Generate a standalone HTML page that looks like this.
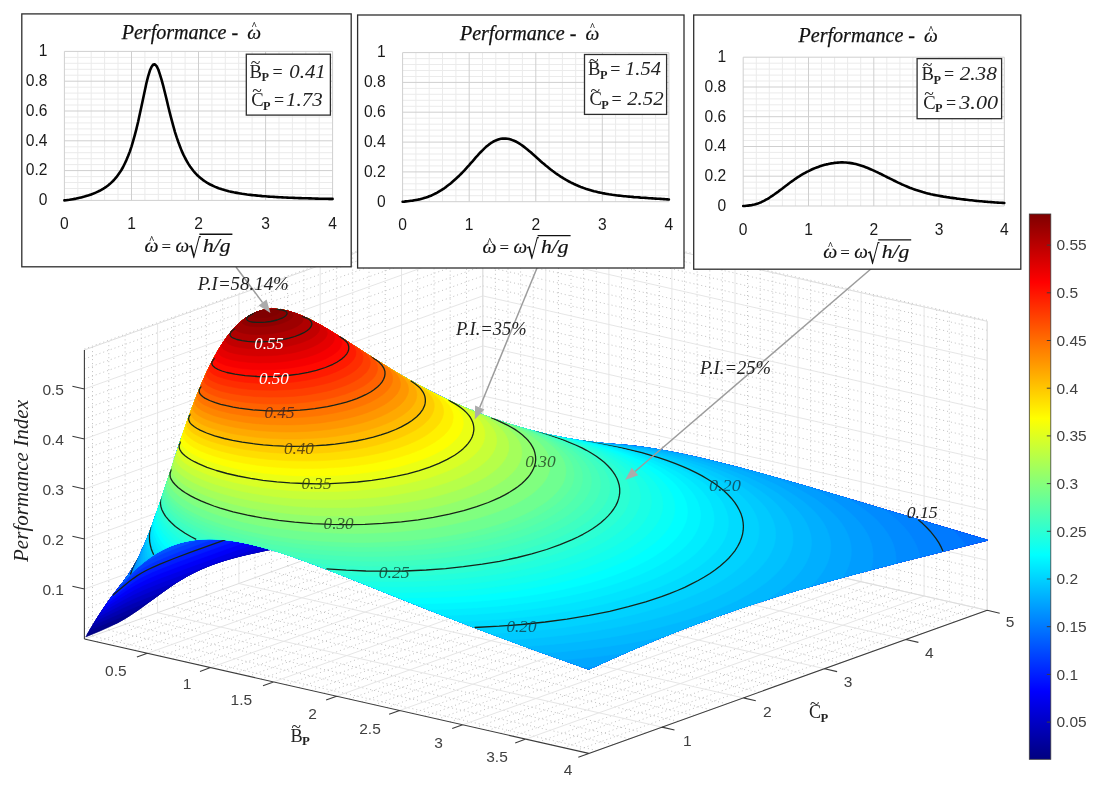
<!DOCTYPE html>
<html><head><meta charset="utf-8"><title>Performance Index surface</title><style>html,body{margin:0;padding:0;background:#fff}svg{display:block}.sf path{stroke-width:.6;stroke-linejoin:round}.sf path.k{stroke:#16241a;stroke-width:1.3;fill:none}</style></head><body>
<svg width="1102" height="789" viewBox="0 0 1102 789"><path d="M92.5 636.1L92.5 347.1M92.5 636.1L596.9 750.5M108.8 630.2L108.8 341.2M108.8 630.2L613.2 744.6M125.1 624.4L125.1 335.4M125.1 624.4L629.4 738.8M141.3 618.6L141.3 329.6M141.3 618.6L645.7 733.0M173.8 606.9L173.8 317.9M173.8 606.9L678.2 721.3M190.1 601.0L190.1 312.0M190.1 601.0L694.5 715.4M206.3 595.2L206.3 306.2M206.3 595.2L710.8 709.6M222.6 589.4L222.6 300.4M222.6 589.4L727.0 703.8M255.1 577.7L255.1 288.7M255.1 577.7L759.5 692.1M271.4 571.8L271.4 282.8M271.4 571.8L775.8 686.2M287.6 566.0L287.6 277.0M287.6 566.0L792.0 680.4M303.9 560.2L303.9 271.2M303.9 560.2L808.3 674.6M336.4 548.5L336.4 259.5M336.4 548.5L840.8 662.9M352.7 542.6L352.7 253.6M352.7 542.6L857.1 657.0M369.0 536.8L369.0 247.8M369.0 536.8L873.3 651.2M385.2 531.0L385.2 242.0M385.2 531.0L889.6 645.4M417.7 519.3L417.7 230.3M417.7 519.3L922.1 633.7M434.0 513.4L434.0 224.4M434.0 513.4L938.4 627.8M450.2 507.6L450.2 218.6M450.2 507.6L954.6 622.0M466.5 501.8L466.5 212.8M466.5 501.8L970.9 616.2M84.4 629.0L482.8 485.9M482.8 485.9L987.2 600.3M84.4 619.0L482.8 475.9M482.8 475.9L987.2 590.3M84.4 609.0L482.8 465.9M482.8 465.9L987.2 580.3M84.4 599.0L482.8 455.9M482.8 455.9L987.2 570.3M84.4 579.0L482.8 435.9M482.8 435.9L987.2 550.3M84.4 569.0L482.8 425.9M482.8 425.9L987.2 540.3M84.4 559.0L482.8 415.9M482.8 415.9L987.2 530.3M84.4 549.0L482.8 405.9M482.8 405.9L987.2 520.3M84.4 529.0L482.8 385.9M482.8 385.9L987.2 500.3M84.4 519.0L482.8 375.9M482.8 375.9L987.2 490.3M84.4 509.0L482.8 365.9M482.8 365.9L987.2 480.3M84.4 499.0L482.8 355.9M482.8 355.9L987.2 470.3M84.4 479.0L482.8 335.9M482.8 335.9L987.2 450.3M84.4 469.0L482.8 325.9M482.8 325.9L987.2 440.3M84.4 459.0L482.8 315.9M482.8 315.9L987.2 430.3M84.4 449.0L482.8 305.9M482.8 305.9L987.2 420.3M84.4 429.0L482.8 285.9M482.8 285.9L987.2 400.3M84.4 419.0L482.8 275.9M482.8 275.9L987.2 390.3M84.4 409.0L482.8 265.9M482.8 265.9L987.2 380.3M84.4 399.0L482.8 255.9M482.8 255.9L987.2 370.3M84.4 379.0L482.8 235.9M482.8 235.9L987.2 350.3M84.4 369.0L482.8 225.9M482.8 225.9L987.2 340.3M84.4 359.0L482.8 215.9M482.8 215.9L987.2 330.3M84.4 349.0L482.8 205.9M482.8 205.9L987.2 320.3M495.4 498.8L495.4 209.8M97.0 641.9L495.4 498.8M508.0 501.6L508.0 212.6M109.6 644.7L508.0 501.6M520.6 504.5L520.6 215.5M122.2 647.6L520.6 504.5M533.2 507.4L533.2 218.4M134.8 650.4L533.2 507.4M558.4 513.1L558.4 224.1M160.1 656.2L558.4 513.1M571.0 515.9L571.0 226.9M172.7 659.0L571.0 515.9M583.6 518.8L583.6 229.8M185.3 661.9L583.6 518.8M596.3 521.7L596.3 232.7M197.9 664.7L596.3 521.7M621.5 527.4L621.5 238.4M223.1 670.5L621.5 527.4M634.1 530.2L634.1 241.2M235.7 673.3L634.1 530.2M646.7 533.1L646.7 244.1M248.3 676.2L646.7 533.1M659.3 536.0L659.3 247.0M260.9 679.0L659.3 536.0M684.5 541.7L684.5 252.7M286.2 684.8L684.5 541.7M697.1 544.5L697.1 255.5M298.8 687.6L697.1 544.5M709.8 547.4L709.8 258.4M311.4 690.5L709.8 547.4M722.4 550.3L722.4 261.3M324.0 693.3L722.4 550.3M747.6 556.0L747.6 267.0M349.2 699.1L747.6 556.0M760.2 558.8L760.2 269.8M361.8 701.9L760.2 558.8M772.8 561.7L772.8 272.7M374.4 704.8L772.8 561.7M785.4 564.6L785.4 275.6M387.0 707.6L785.4 564.6M810.6 570.3L810.6 281.3M412.3 713.4L810.6 570.3M823.2 573.1L823.2 284.1M424.9 716.2L823.2 573.1M835.9 576.0L835.9 287.0M437.5 719.1L835.9 576.0M848.5 578.9L848.5 289.9M450.1 721.9L848.5 578.9M873.7 584.6L873.7 295.6M475.3 727.7L873.7 584.6M886.3 587.4L886.3 298.4M487.9 730.5L886.3 587.4M898.9 590.3L898.9 301.3M500.5 733.4L898.9 590.3M911.5 593.2L911.5 304.2M513.1 736.2L911.5 593.2M936.7 598.9L936.7 309.9M538.4 742.0L936.7 598.9M949.3 601.7L949.3 312.7M551.0 744.8L949.3 601.7M961.9 604.6L961.9 315.6M563.6 747.7L961.9 604.6M974.6 607.5L974.6 318.5M576.2 750.5L974.6 607.5" fill="none" stroke="#c2c2c2" stroke-width="1" stroke-dasharray="1 3"/>
<path d="M157.6 612.7L157.6 323.7M157.6 612.7L662.0 727.1M238.9 583.5L238.9 294.5M238.9 583.5L743.3 697.9M320.2 554.3L320.2 265.3M320.2 554.3L824.6 668.7M401.5 525.1L401.5 236.1M401.5 525.1L905.9 639.5M482.8 495.9L482.8 206.9M482.8 495.9L987.2 610.3M84.4 589.0L482.8 445.9M482.8 445.9L987.2 560.3M84.4 539.0L482.8 395.9M482.8 395.9L987.2 510.3M84.4 489.0L482.8 345.9M482.8 345.9L987.2 460.3M84.4 439.0L482.8 295.9M482.8 295.9L987.2 410.3M84.4 389.0L482.8 245.9M482.8 245.9L987.2 360.3M545.8 510.2L545.8 221.2M147.4 653.3L545.8 510.2M608.9 524.5L608.9 235.5M210.5 667.6L608.9 524.5M671.9 538.8L671.9 249.8M273.5 681.9L671.9 538.8M735.0 553.1L735.0 264.1M336.6 696.2L735.0 553.1M798.0 567.4L798.0 278.4M399.6 710.5L798.0 567.4M861.1 581.7L861.1 292.7M462.7 724.8L861.1 581.7M924.1 596.0L924.1 307.0M525.8 739.1L924.1 596.0M987.2 610.3L987.2 321.3M588.8 753.4L987.2 610.3" fill="none" stroke="#e6e6e6" stroke-width="1"/>
<path d="M482.8 495.9L482.8 206.9M84.4 639.0L482.8 495.9M482.8 495.9L987.2 610.3M987.2 610.3L987.2 321.3M84.4 350.0L482.8 206.9M482.8 206.9L987.2 321.3" fill="none" stroke="#dedede" stroke-width="1"/>
<path d="M84.4 639.0L84.4 350.0M84.4 639.0L588.8 753.4M588.8 753.4L987.2 610.3M84.4 589.0L72.4 586.2M84.4 539.0L72.4 536.2M84.4 489.0L72.4 486.2M84.4 439.0L72.4 436.2M84.4 389.0L72.4 386.2M147.4 653.3L136.9 657.1M210.5 667.6L200.0 671.4M273.5 681.9L263.0 685.7M336.6 696.2L326.1 700.0M399.6 710.5L389.1 714.3M462.7 724.8L452.2 728.6M525.8 739.1L515.2 742.9M588.8 753.4L578.3 757.2M662.0 727.1L674.5 730.0M743.3 697.9L755.8 700.8M824.6 668.7L837.1 671.6M905.9 639.5L918.4 642.4M987.2 610.3L999.7 613.2" fill="none" stroke="#3c3c3c" stroke-width="1.1"/>
<g class="sf"><path d="M85.7 636.9L96 619.9L105.2 605.9L112.3 596L123.8 581.2L129 573.8L134 565.9L139.1 556.6L142.7 548.9L146.2 540.9L153.2 522.8L161.2 499.9L179.3 445L187.1 422.2L193.1 405.7L197.1 395.2L201.2 385.1L205.4 375.5L211.8 362.3L216 354.3L220.4 346.9L224.7 340.2L229.1 334.3L233.6 329L236.9 325.5L240.1 322.4L244.8 318.7L249.9 315.4L253.1 313.7L256.4 312.3L259.5 311.2L263.4 310.2L265.8 309.8L270.6 309.3L277.9 309.5L284.5 310.4L292.8 312.6L300.5 315.4L308.3 318.8L314.7 322.1L323.7 327L332.7 332.4L385.4 365.9L424.1 391.3L424.3 391.5L418.9 390.2L413.8 389.3L408.8 388.8L405.2 388.7L400.6 388.9L397.3 389.4L394 390.2L390.9 391.2L386.9 393L383.9 394.7L381.1 396.8L378.4 399.1L375.8 401.8L373.2 404.8L370.8 408.1L368.4 411.8L366.1 415.9L363.9 420.3L361 426.8L358.9 432.2L355 444.1L351.3 457.8L347.8 473.5L344.5 491.4L341.8 508.5L337.9 536.4L314 541.3L265.7 550.4L247.3 554.3L235.7 557.2L225.7 560.1L215.7 563.3L207.3 566.5L199 570.1L192.3 573.3L185.7 576.9L177.3 582L164 591.1L137.3 610.6L130.7 615.1L124 619.2L117.3 622.9L109 627L99 631.4L85.7 636.9z" fill="#000080" stroke="#000080"/><path d="M121 584.8L119.5 586.6L126.4 578.7L133 571.7L140.2 565L146.8 559.6L153.8 554.7L160 550.9L166.5 547.6L173.3 544.8L180.5 542.4L188 540.6L195.8 539.4L204 538.7L210.9 538.6L219.7 539L229 539.9L238.6 541.4L252.7 544.4L267.7 548.4L285.7 554.1L304.8 560.8L338.2 573.5L427 609L477.8 628.7L533.1 649.3L588.8 669.2L610.5 659.3L632.1 649.8L653.8 640.6L673.8 632.5L693.8 624.8L715.5 616.8L737.1 609.3L758.8 602.1L780.5 595.2L803.8 588.2L827.2 581.5L852.2 574.6L907.2 560.2L987.2 540.2L851.9 499.9L800.1 484.7L753 471.5L731.3 465.7L713.1 461.2L695.9 457.1L679.5 453.6L663.9 450.6L651.1 448.5L639 446.7L629.2 445.6L604.9 443.6L592.8 442.4L579.4 440.6L566.4 438.4L550.7 435.3L535.6 431.7L521 427.8L506.7 423.4L486.4 416.4L467.2 408.8L457.2 404.4L447 399.7L426.8 389.6L411.9 381.5L396.7 372.7L377.9 361.2L344.8 339.9L332.6 332.3L318.9 324.3L308.7 319L303.1 316.5L297.9 314.4L292.8 312.6L287.8 311.2L282.8 310.1L278.3 309.5L275.2 309.3L270.6 309.3L265.8 309.8L262.7 310.4L258.7 311.5L254.1 313.3L249.9 315.4L247.1 317.1L243.4 319.7L240.3 322.3L236.9 325.5L233.5 329L230.2 332.9L226.9 337.2L220.4 346.9L213.9 358.2L209.3 367.2L203.3 380.2L197.1 395.2L191 411.1L181.2 439.3L157.9 509.6L151.8 526.8L147.1 538.8L141.4 551.9L135.5 563.5L129 573.8L125.1 579.4L121 584.8z" fill="#000080" stroke="#000080"/><path d="M87 634.6L96.6 619L105.9 604.9L112.3 596L123.8 581.2L129 573.8L134 565.9L139.1 556.6L142.7 548.9L146.2 540.9L153.2 522.8L161.2 499.9L179.3 445L187.1 422.2L193.1 405.7L197.1 395.2L201.2 385.1L205.4 375.5L211.8 362.3L216 354.3L220.4 346.9L224.7 340.2L229.1 334.3L233.6 329L236.9 325.5L240.1 322.4L244.8 318.7L249.9 315.4L253.1 313.7L256.4 312.3L259.5 311.2L263.4 310.2L265.8 309.8L270.6 309.3L277.9 309.5L284.5 310.4L292.8 312.6L300.5 315.4L308.3 318.8L314.7 322.1L323.7 327L332.7 332.4L385.4 365.9L424.1 391.3L424.3 391.5L418.9 390.2L413.8 389.3L408.8 388.8L405.2 388.7L400.6 388.9L397.3 389.4L394 390.2L390.9 391.2L386.9 393L383.9 394.7L381.1 396.8L378.4 399.1L375.8 401.8L373.2 404.8L370.8 408.1L368.4 411.8L366.1 415.9L363.9 420.3L361 426.8L358.9 432.2L355 444.1L351.3 457.8L347.8 473.5L345 488.3L341.8 508.5L337.7 536.5L312.3 541.7L267.3 550.1L249 554L237.3 556.8L227.3 559.6L217.3 562.8L209 565.8L200.7 569.3L194 572.5L187.3 576L179 580.9L172.3 585.2L165.7 589.9L137.3 610.6L129 616.2L122.3 620.2L117.4 622.9L87 634.6z" fill="#00008e" stroke="#00008e"/><path d="M121 584.8L119.5 586.6L126.4 578.7L133 571.7L140.2 565L146.8 559.6L153.8 554.7L160 550.9L166.5 547.6L173.3 544.8L180.5 542.4L188 540.6L195.8 539.4L204 538.7L210.9 538.6L219.7 539L229 539.9L238.6 541.4L252.7 544.4L267.7 548.4L285.7 554.1L304.8 560.8L338.2 573.5L427 609L477.8 628.7L533.1 649.3L588.8 669.2L610.5 659.3L632.1 649.8L653.8 640.6L673.8 632.5L693.8 624.8L715.5 616.8L737.1 609.3L758.8 602.1L780.5 595.2L803.8 588.2L827.2 581.5L852.2 574.6L907.2 560.2L987.2 540.2L851.9 499.9L800.1 484.7L753 471.5L731.3 465.7L713.1 461.2L695.9 457.1L679.5 453.6L663.9 450.6L651.1 448.5L639 446.7L629.2 445.6L604.9 443.6L592.8 442.4L579.4 440.6L566.4 438.4L550.7 435.3L535.6 431.7L521 427.8L506.7 423.4L486.4 416.4L467.2 408.8L457.2 404.4L447 399.7L426.8 389.6L411.9 381.5L396.7 372.7L377.9 361.2L344.8 339.9L332.6 332.3L318.9 324.3L308.7 319L303.1 316.5L297.9 314.4L292.8 312.6L287.8 311.2L282.8 310.1L278.3 309.5L275.2 309.3L270.6 309.3L265.8 309.8L262.7 310.4L258.7 311.5L254.1 313.3L249.9 315.4L247.1 317.1L243.4 319.7L240.3 322.3L236.9 325.5L233.5 329L230.2 332.9L226.9 337.2L220.4 346.9L213.9 358.2L209.3 367.2L203.3 380.2L197.1 395.2L191 411.1L181.2 439.3L157.9 509.6L151.8 526.8L147.1 538.8L141.4 551.9L135.5 563.5L129 573.8L125.1 579.4L121 584.8z" fill="#00008e" stroke="#00008e"/><path d="M91.2 629.6L89.6 630.2L98.9 615.3L107.2 602.9L114.6 592.9L123.8 581.2L129 573.8L134.9 564.5L139.5 555.8L142.7 548.9L146.2 540.9L153.2 522.8L161.2 499.9L179.3 445L187.1 422.2L193.1 405.7L197.1 395.2L201.2 385.1L205.4 375.5L211.8 362.3L216 354.3L220.4 346.9L224.7 340.2L229.1 334.3L233.6 329L236.9 325.5L240.1 322.4L244.8 318.7L249.9 315.4L253.1 313.7L256.4 312.3L259.5 311.2L263.4 310.2L265.8 309.8L270.6 309.3L277.9 309.5L284.5 310.4L292.8 312.6L300.5 315.4L308.3 318.8L314.7 322.1L323.7 327L332.7 332.4L385.4 365.9L424.1 391.3L424.3 391.5L418.9 390.2L413.8 389.3L408.8 388.8L405.2 388.7L400.6 388.9L397.3 389.4L394 390.2L390.9 391.2L386.9 393L383.9 394.7L381.1 396.8L378.4 399.1L375.8 401.8L373.2 404.8L370.8 408.1L368.4 411.8L366.1 415.9L363.1 421.9L358.9 432.1L355 444.1L351.3 457.8L347.8 473.5L345 488.3L342.3 504.9L337.5 536.5L312.3 541.7L267.3 550.1L249 554L239 556.4L229 559.1L219 562.2L210.7 565.2L202.3 568.6L194 572.5L187.3 576L179 580.9L172.3 585.2L165.7 589.9L137 610.8L123.2 616.3L91.2 629.6z" fill="#00009f" stroke="#00009f"/><path d="M121 584.8L119.5 586.6L126.4 578.7L133 571.7L140.2 565L146.8 559.6L153.8 554.7L160 550.9L166.5 547.6L173.3 544.8L180.5 542.4L188 540.6L195.8 539.4L204 538.7L210.9 538.6L219.7 539L229 539.9L238.6 541.4L252.7 544.4L267.7 548.4L285.7 554.1L304.8 560.8L338.2 573.5L427 609L477.8 628.7L533.1 649.3L588.8 669.2L610.5 659.3L632.1 649.8L653.8 640.6L673.8 632.5L693.8 624.8L715.5 616.8L737.1 609.3L758.8 602.1L780.5 595.2L803.8 588.2L827.2 581.5L852.2 574.6L907.2 560.2L987.2 540.2L851.9 499.9L800.1 484.7L753 471.5L731.3 465.7L713.1 461.2L695.9 457.1L679.5 453.6L663.9 450.6L651.1 448.5L639 446.7L629.2 445.6L604.9 443.6L592.8 442.4L579.4 440.6L566.4 438.4L550.7 435.3L535.6 431.7L521 427.8L506.7 423.4L486.4 416.4L467.2 408.8L457.2 404.4L447 399.7L426.8 389.6L411.9 381.5L396.7 372.7L377.9 361.2L344.8 339.9L332.6 332.3L318.9 324.3L308.7 319L303.1 316.5L297.9 314.4L292.8 312.6L287.8 311.2L282.8 310.1L278.3 309.5L275.2 309.3L270.6 309.3L265.8 309.8L262.7 310.4L258.7 311.5L254.1 313.3L249.9 315.4L247.1 317.1L243.4 319.7L240.3 322.3L236.9 325.5L233.5 329L230.2 332.9L226.9 337.2L220.4 346.9L213.9 358.2L209.3 367.2L203.3 380.2L197.1 395.2L191 411.1L181.2 439.3L157.9 509.6L151.8 526.8L147.1 538.8L141.4 551.9L135.5 563.5L129 573.8L125.1 579.4L121 584.8z" fill="#00009f" stroke="#00009f"/><path d="M93.8 625.1L92.3 625.8L100.1 613.5L107.2 602.9L113.8 593.9L124.8 579.9L131.5 570.1L137 560.7L142.7 548.9L148.9 534.2L156.3 514.2L162.9 494.9L181.2 439.3L191 411.1L197.1 395.2L201.2 385.1L205.4 375.5L209.6 366.6L213.9 358.2L218.2 350.5L222.5 343.5L226.9 337.2L231.3 331.5L235.8 326.6L240.3 322.3L244.8 318.7L249.9 315.4L253.1 313.7L256.4 312.3L259.5 311.2L263.4 310.2L265.8 309.8L270.6 309.3L277.9 309.5L284.5 310.4L292.8 312.6L300.5 315.4L308.3 318.8L314.7 322.1L323.7 327L332.7 332.4L385.4 365.9L424.1 391.3L424.3 391.5L418.9 390.2L413.8 389.3L408.8 388.8L405.2 388.7L400.6 388.9L397.3 389.4L394 390.2L390.9 391.2L386.9 393L383.9 394.7L381.1 396.8L378.4 399.1L375.8 401.8L373.2 404.8L370.8 408.1L368.4 411.8L363.9 420.3L359.6 430.3L355.6 441.9L351.9 455.3L348.3 470.7L345.5 485.1L342.8 501.4L337.6 533.9L319.8 540.2L269 549.8L249 554L239 556.4L229 559.1L220.7 561.7L212.3 564.6L204 567.9L197.3 570.9L189 575.1L182.3 578.9L175.7 583L169 587.5L150.6 601L138 605.9L127.3 610.3L93.8 625.1z" fill="#0000b1" stroke="#0000b1"/><path d="M121 584.8L119.5 586.6L126.4 578.7L133 571.7L140.2 565L146.8 559.6L153.8 554.7L160 550.9L166.5 547.6L173.3 544.8L180.5 542.4L188 540.6L195.8 539.4L204 538.7L210.9 538.6L219.7 539L229 539.9L238.6 541.4L252.7 544.4L267.7 548.4L285.7 554.1L304.8 560.8L338.2 573.5L427 609L477.8 628.7L533.1 649.3L588.8 669.2L610.5 659.3L632.1 649.8L653.8 640.6L673.8 632.5L693.8 624.8L715.5 616.8L737.1 609.3L758.8 602.1L780.5 595.2L803.8 588.2L827.2 581.5L852.2 574.6L907.2 560.2L987.2 540.2L851.9 499.9L800.1 484.7L753 471.5L731.3 465.7L713.1 461.2L695.9 457.1L679.5 453.6L663.9 450.6L651.1 448.5L639 446.7L629.2 445.6L604.9 443.6L592.8 442.4L579.4 440.6L566.4 438.4L550.7 435.3L535.6 431.7L521 427.8L506.7 423.4L486.4 416.4L467.2 408.8L457.2 404.4L447 399.7L426.8 389.6L411.9 381.5L396.7 372.7L377.9 361.2L344.8 339.9L332.6 332.3L318.9 324.3L308.7 319L303.1 316.5L297.9 314.4L292.8 312.6L287.8 311.2L282.8 310.1L278.3 309.5L275.2 309.3L270.6 309.3L265.8 309.8L262.7 310.4L258.7 311.5L254.1 313.3L249.9 315.4L247.1 317.1L243.4 319.7L240.3 322.3L236.9 325.5L233.5 329L230.2 332.9L226.9 337.2L220.4 346.9L213.9 358.2L209.3 367.2L203.3 380.2L197.1 395.2L191 411.1L181.2 439.3L157.9 509.6L151.8 526.8L147.1 538.8L141.4 551.9L135.5 563.5L129 573.8L125.1 579.4L121 584.8z" fill="#0000b1" stroke="#0000b1"/><path d="M96.4 620.7L95 621.4L102 610.7L108.6 601L114.6 592.9L124.8 579.9L131.5 570.1L134.9 564.5L138 558.7L143.7 546.7L150.3 530.6L157.4 511.1L164 491.7L181.2 439.3L191 411.1L197.1 395.2L201.2 385.1L205.4 375.5L209.6 366.6L213.9 358.2L218.2 350.5L222.5 343.5L226.9 337.2L231.3 331.5L235.8 326.6L240.3 322.3L244.8 318.7L249.9 315.4L253.1 313.7L256.4 312.3L259.5 311.2L263.4 310.2L265.8 309.8L270.6 309.3L277.9 309.5L284.5 310.4L292.8 312.6L300.5 315.4L308.3 318.8L314.7 322.1L323.7 327L332.7 332.4L385.4 365.9L424.1 391.3L424.3 391.5L418.9 390.2L413.8 389.3L406.4 388.7L401.7 388.8L398.4 389.2L395.1 389.9L391.9 390.8L387.8 392.5L384.9 394.1L382 396.1L379.3 398.3L376.6 400.8L374.1 403.7L371.6 407L369.2 410.6L364.6 418.8L360.3 428.5L356.2 439.9L352.5 453L349.5 465.3L346 482.1L343.3 498L338.2 529.1L290.3 545.8L262.3 551.1L242.3 555.5L225.7 560.1L217.3 562.8L210.7 565.2L199 570.1L187.3 576L175.7 583L163.7 591.2L146.4 597.9L132.7 603.6L122.7 608.1L96.4 620.7z" fill="#0000c3" stroke="#0000c3"/><path d="M121 584.8L119.5 586.6L126.4 578.7L133 571.7L140.2 565L146.8 559.6L153.8 554.7L160 550.9L166.5 547.6L173.3 544.8L180.5 542.4L188 540.6L195.8 539.4L204 538.7L210.9 538.6L219.7 539L229 539.9L238.6 541.4L252.7 544.4L267.7 548.4L285.7 554.1L304.8 560.8L338.2 573.5L427 609L477.8 628.7L533.1 649.3L588.8 669.2L610.5 659.3L632.1 649.8L653.8 640.6L673.8 632.5L693.8 624.8L715.5 616.8L737.1 609.3L758.8 602.1L780.5 595.2L803.8 588.2L827.2 581.5L852.2 574.6L907.2 560.2L987.2 540.2L851.9 499.9L800.1 484.7L753 471.5L731.3 465.7L713.1 461.2L695.9 457.1L679.5 453.6L663.9 450.6L651.1 448.5L639 446.7L629.2 445.6L604.9 443.6L592.8 442.4L579.4 440.6L566.4 438.4L550.7 435.3L535.6 431.7L521 427.8L506.7 423.4L486.4 416.4L467.2 408.8L457.2 404.4L447 399.7L426.8 389.6L411.9 381.5L396.7 372.7L377.9 361.2L344.8 339.9L332.6 332.3L318.9 324.3L308.7 319L303.1 316.5L297.9 314.4L292.8 312.6L287.8 311.2L282.8 310.1L278.3 309.5L275.2 309.3L270.6 309.3L265.8 309.8L262.7 310.4L258.7 311.5L254.1 313.3L249.9 315.4L247.1 317.1L243.4 319.7L240.3 322.3L236.9 325.5L233.5 329L230.2 332.9L226.9 337.2L220.4 346.9L213.9 358.2L209.3 367.2L203.3 380.2L197.1 395.2L191 411.1L181.2 439.3L157.9 509.6L151.8 526.8L147.1 538.8L141.4 551.9L135.5 563.5L129 573.8L125.1 579.4L121 584.8z" fill="#0000c3" stroke="#0000c3"/><path d="M99.1 616.4L97.8 617L103.9 607.8L109.3 600L114.6 592.9L124.8 579.9L131.5 570.1L134.9 564.5L138 558.7L143.7 546.7L150.3 530.6L157.4 511.1L164 491.7L181.2 439.3L191 411.1L197.1 395.2L201.2 385.1L205.4 375.5L209.6 366.6L213.9 358.2L218.2 350.5L222.5 343.5L226.9 337.2L231.3 331.5L236.9 325.5L242.6 320.4L246.7 317.4L249.9 315.4L253.1 313.7L258.7 311.5L263.4 310.2L265.8 309.8L270.6 309.3L277.9 309.5L284.5 310.4L292.8 312.6L300.5 315.4L308.3 318.8L314.7 322.1L323.7 327L332.7 332.4L385.4 365.9L424.1 391.3L424.3 391.5L418.9 390.2L413.8 389.3L406.4 388.7L401.7 388.8L398.4 389.2L395.1 389.9L391.9 390.8L388.8 392L385.9 393.6L383 395.4L380.2 397.5L377.5 400L374.9 402.7L372.4 405.9L370 409.3L365.3 417.3L361 426.8L356.9 437.9L353 450.6L350 462.7L346.6 479.1L343.8 494.6L338.8 524.2L308 534.8L260.6 551.5L245.7 554.7L232.3 558.1L220.7 561.7L210.7 565.2L202.3 568.6L194 572.5L187.3 576L179.6 580.5L153.1 590.5L142.3 594.9L135 598.1L125.3 602.8L99.1 616.4z" fill="#0000d5" stroke="#0000d5"/><path d="M121 584.8L119.5 586.6L126.4 578.7L133 571.7L140.2 565L146.8 559.6L153.8 554.7L160 550.9L166.5 547.6L173.3 544.8L180.5 542.4L188 540.6L195.8 539.4L204 538.7L210.9 538.6L219.7 539L229 539.9L238.6 541.4L252.7 544.4L267.7 548.4L285.7 554.1L304.8 560.8L338.2 573.5L427 609L477.8 628.7L533.1 649.3L588.8 669.2L610.5 659.3L632.1 649.8L653.8 640.6L673.8 632.5L693.8 624.8L715.5 616.8L737.1 609.3L758.8 602.1L780.5 595.2L803.8 588.2L827.2 581.5L852.2 574.6L907.2 560.2L987.2 540.2L851.9 499.9L800.1 484.7L753 471.5L731.3 465.7L713.1 461.2L695.9 457.1L679.5 453.6L663.9 450.6L651.1 448.5L639 446.7L629.2 445.6L604.9 443.6L592.8 442.4L579.4 440.6L566.4 438.4L550.7 435.3L535.6 431.7L521 427.8L506.7 423.4L486.4 416.4L467.2 408.8L457.2 404.4L447 399.7L426.8 389.6L411.9 381.5L396.7 372.7L377.9 361.2L344.8 339.9L332.6 332.3L318.9 324.3L308.7 319L303.1 316.5L297.9 314.4L292.8 312.6L287.8 311.2L282.8 310.1L278.3 309.5L275.2 309.3L270.6 309.3L265.8 309.8L262.7 310.4L258.7 311.5L254.1 313.3L249.9 315.4L247.1 317.1L243.4 319.7L240.3 322.3L236.9 325.5L233.5 329L230.2 332.9L226.9 337.2L220.4 346.9L213.9 358.2L209.3 367.2L203.3 380.2L197.1 395.2L191 411.1L181.2 439.3L157.9 509.6L151.8 526.8L147.1 538.8L141.4 551.9L135.5 563.5L129 573.8L125.1 579.4L121 584.8z" fill="#0000d5" stroke="#0000d5"/><path d="M100.6 612.7L110.8 598L123.8 581.2L130.3 572L133.8 566.3L137 560.7L140.2 554.3L143.7 546.7L150.3 530.6L157.4 511.1L164 491.7L181.2 439.3L191 411.1L197.1 395.2L201.2 385.1L205.4 375.5L209.6 366.6L213.9 358.2L218.2 350.5L222.5 343.5L226.9 337.2L231.3 331.5L236.9 325.5L242.6 320.4L246.7 317.4L249.9 315.4L253.1 313.7L258.7 311.5L263.4 310.2L265.8 309.8L270.6 309.3L277.9 309.5L284.5 310.4L292.8 312.6L300.5 315.4L308.3 318.8L314.7 322.1L323.7 327L332.7 332.4L385.4 365.9L424.1 391.3L424.3 391.5L418.9 390.2L413.8 389.3L406.4 388.7L401.7 388.8L398.4 389.2L395.1 389.9L391.9 390.8L388.8 392L385.9 393.6L383 395.4L380.2 397.5L377.5 400L374.9 402.7L372.4 405.9L370 409.3L365.3 417.3L360.9 426.8L356.9 437.8L353.6 448.4L350.6 460.2L347.1 476.2L344.3 491.4L339.4 519.3L296.5 534L250.9 550L189.2 572.2L161.5 582.5L144.5 589.4L133.1 594.7L124.1 599.4L100.6 612.7z" fill="#0000e6" stroke="#0000e6"/><path d="M121 584.8L119.5 586.6L126.4 578.7L133 571.7L140.2 565L146.8 559.6L153.8 554.7L160 550.9L166.5 547.6L173.3 544.8L180.5 542.4L188 540.6L195.8 539.4L204 538.7L210.9 538.6L219.7 539L229 539.9L238.6 541.4L252.7 544.4L267.7 548.4L285.7 554.1L304.8 560.8L338.2 573.5L427 609L477.8 628.7L533.1 649.3L588.8 669.2L610.5 659.3L632.1 649.8L653.8 640.6L673.8 632.5L693.8 624.8L715.5 616.8L737.1 609.3L758.8 602.1L780.5 595.2L803.8 588.2L827.2 581.5L852.2 574.6L907.2 560.2L987.2 540.2L851.9 499.9L800.1 484.7L753 471.5L731.3 465.7L713.1 461.2L695.9 457.1L679.5 453.6L663.9 450.6L651.1 448.5L639 446.7L629.2 445.6L604.9 443.6L592.8 442.4L579.4 440.6L566.4 438.4L550.7 435.3L535.6 431.7L521 427.8L506.7 423.4L486.4 416.4L467.2 408.8L457.2 404.4L447 399.7L426.8 389.6L411.9 381.5L396.7 372.7L377.9 361.2L344.8 339.9L332.6 332.3L318.9 324.3L308.7 319L303.1 316.5L297.9 314.4L292.8 312.6L287.8 311.2L282.8 310.1L278.3 309.5L275.2 309.3L270.6 309.3L265.8 309.8L262.7 310.4L258.7 311.5L254.1 313.3L249.9 315.4L247.1 317.1L243.4 319.7L240.3 322.3L236.9 325.5L233.5 329L230.2 332.9L226.9 337.2L220.4 346.9L213.9 358.2L209.3 367.2L203.3 380.2L197.1 395.2L191 411.1L181.2 439.3L157.9 509.6L151.8 526.8L147.1 538.8L141.4 551.9L135.5 563.5L129 573.8L125.1 579.4L121 584.8z" fill="#0000e6" stroke="#0000e6"/><path d="M104.7 607.6L103.5 608.3L113 594.9L125.1 579.4L131.5 570.1L134.9 564.5L138 558.7L143.7 546.7L150.3 530.6L157.4 511.1L164 491.7L181.2 439.3L191 411.1L197.1 395.2L201.2 385.1L205.4 375.5L209.6 366.6L213.9 358.2L218.2 350.5L222.5 343.5L226.9 337.2L231.3 331.5L236.9 325.5L242.6 320.4L246.7 317.4L249.9 315.4L253.1 313.7L258.7 311.5L263.4 310.2L265.8 309.8L270.6 309.3L277.9 309.5L284.5 310.4L292.8 312.6L300.5 315.4L308.3 318.8L314.7 322.1L323.7 327L332.7 332.4L385.4 365.9L424.1 391.3L424.3 391.5L418.9 390.2L413.8 389.3L406.4 388.7L402.9 388.7L399.5 389.1L396.2 389.6L393 390.5L389.9 391.6L386.9 393L383.9 394.7L381.1 396.8L378.4 399.1L375.8 401.8L373.2 404.8L370.8 408.1L366.1 415.9L361.6 425.1L357.5 435.9L354.3 446.2L351.2 457.7L347.6 473.4L345.3 485.1L340 514.5L296.8 529.1L236 550.4L192.7 566L160.3 578.2L145.1 584.5L134.1 589.9L125.6 594.8L104.7 607.6z" fill="#0000f8" stroke="#0000f8"/><path d="M121 584.8L119.5 586.6L126.4 578.7L133 571.7L140.2 565L146.8 559.6L153.8 554.7L160 550.9L166.5 547.6L173.3 544.8L180.5 542.4L188 540.6L195.8 539.4L204 538.7L210.9 538.6L219.7 539L229 539.9L238.6 541.4L252.7 544.4L267.7 548.4L285.7 554.1L304.8 560.8L338.2 573.5L427 609L477.8 628.7L533.1 649.3L588.8 669.2L610.5 659.3L632.1 649.8L653.8 640.6L673.8 632.5L693.8 624.8L715.5 616.8L737.1 609.3L758.8 602.1L780.5 595.2L803.8 588.2L827.2 581.5L852.2 574.6L907.2 560.2L987.2 540.2L851.9 499.9L800.1 484.7L753 471.5L731.3 465.7L713.1 461.2L695.9 457.1L679.5 453.6L663.9 450.6L651.1 448.5L639 446.7L629.2 445.6L604.9 443.6L592.8 442.4L579.4 440.6L566.4 438.4L550.7 435.3L535.6 431.7L521 427.8L506.7 423.4L486.4 416.4L467.2 408.8L457.2 404.4L447 399.7L426.8 389.6L411.9 381.5L396.7 372.7L377.9 361.2L344.8 339.9L332.6 332.3L318.9 324.3L308.7 319L303.1 316.5L297.9 314.4L292.8 312.6L287.8 311.2L282.8 310.1L278.3 309.5L275.2 309.3L270.6 309.3L265.8 309.8L262.7 310.4L258.7 311.5L254.1 313.3L249.9 315.4L247.1 317.1L243.4 319.7L240.3 322.3L236.9 325.5L233.5 329L230.2 332.9L226.9 337.2L220.4 346.9L213.9 358.2L209.3 367.2L203.3 380.2L197.1 395.2L191 411.1L181.2 439.3L157.9 509.6L151.8 526.8L147.1 538.8L141.4 551.9L135.5 563.5L129 573.8L125.1 579.4L121 584.8z" fill="#0000f8" stroke="#0000f8"/><path d="M106.5 604L113.8 593.9L124.8 579.9L131.5 570.1L134.9 564.5L138 558.7L141.4 551.9L144.7 544.5L150.4 530.4L157.4 511.1L164 491.7L181.2 439.3L191 411.1L197.1 395.2L201.2 385.1L205.4 375.5L209.6 366.6L213.9 358.2L218.2 350.5L222.5 343.5L226.9 337.2L231.3 331.5L236.9 325.5L242.6 320.4L246.7 317.4L249.9 315.4L253.1 313.7L258.7 311.5L263.4 310.2L265.8 309.8L270.6 309.3L277.9 309.5L284.5 310.4L292.8 312.6L300.5 315.4L308.3 318.8L314.7 322.1L323.7 327L332.7 332.4L385.4 365.9L424.1 391.3L424.3 391.5L418.9 390.2L413.8 389.3L406.4 388.7L402.9 388.7L399.5 389.1L396.2 389.6L393 390.5L389.9 391.6L386.9 393L383.9 394.7L381.1 396.8L378.4 399.1L375.8 401.8L371.6 407L366.8 414.5L362.3 423.4L358.2 433.9L354.9 444L351.7 455.3L348.2 470.6L340.6 509.6L302.4 522.4L248 541.3L189.7 562.3L160.7 573.3L147.2 579L140.3 582.4L135.2 585.1L127 590.1L106.5 604z" fill="#000bff" stroke="#000bff"/><path d="M121 584.8L119.5 586.6L126.4 578.7L133 571.7L140.2 565L146.8 559.6L153.8 554.7L160 550.9L166.5 547.6L173.3 544.8L180.5 542.4L188 540.6L195.8 539.4L204 538.7L210.9 538.6L219.7 539L229 539.9L238.6 541.4L252.7 544.4L267.7 548.4L285.7 554.1L304.8 560.8L338.2 573.5L427 609L477.8 628.7L533.1 649.3L588.8 669.2L610.5 659.3L632.1 649.8L653.8 640.6L673.8 632.5L693.8 624.8L715.5 616.8L737.1 609.3L758.8 602.1L780.5 595.2L803.8 588.2L827.2 581.5L852.2 574.6L907.2 560.2L987.2 540.2L851.9 499.9L800.1 484.7L753 471.5L731.3 465.7L713.1 461.2L695.9 457.1L679.5 453.6L663.9 450.6L651.1 448.5L639 446.7L629.2 445.6L604.9 443.6L592.8 442.4L579.4 440.6L566.4 438.4L550.7 435.3L535.6 431.7L521 427.8L506.7 423.4L486.4 416.4L467.2 408.8L457.2 404.4L447 399.7L426.8 389.6L411.9 381.5L396.7 372.7L377.9 361.2L344.8 339.9L332.6 332.3L318.9 324.3L308.7 319L303.1 316.5L297.9 314.4L292.8 312.6L287.8 311.2L282.8 310.1L278.3 309.5L275.2 309.3L270.6 309.3L265.8 309.8L262.7 310.4L258.7 311.5L254.1 313.3L249.9 315.4L247.1 317.1L243.4 319.7L240.3 322.3L236.9 325.5L233.5 329L230.2 332.9L226.9 337.2L220.4 346.9L213.9 358.2L209.3 367.2L203.3 380.2L197.1 395.2L191 411.1L181.2 439.3L157.9 509.6L151.8 526.8L147.1 538.8L141.4 551.9L135.5 563.5L129 573.8L125.1 579.4L121 584.8z" fill="#000bff" stroke="#000bff"/><path d="M110.5 598.9L109.5 599.7L114.6 592.9L125.1 579.4L129 573.8L132.4 568.7L135.9 562.6L139.1 556.6L145 543.9L150.4 530.4L157.4 511.1L164 491.7L179.8 443.4L189.5 415.3L193.8 403.7L199.2 390.1L203.3 380.2L209.3 367.2L213.9 358.2L218.2 350.5L222.5 343.5L226.9 337.2L231.3 331.5L236.9 325.5L242.6 320.4L246.7 317.4L249.9 315.4L253.1 313.7L258.7 311.5L263.4 310.2L265.8 309.8L270.6 309.3L277.9 309.5L284.5 310.4L292.8 312.6L300.5 315.4L308.3 318.8L314.7 322.1L323.7 327L332.7 332.4L385.4 365.9L424.1 391.3L424.3 391.5L418.9 390.2L413.8 389.3L406.4 388.7L402.9 388.7L399.5 389.1L396.2 389.6L393 390.5L389.9 391.6L386.9 393L383.9 394.7L381.1 396.8L378.4 399.1L375.8 401.8L371.6 407L366.8 414.5L363 421.8L358.8 432.1L355.5 441.9L352.3 452.9L349.3 465.2L346.3 479L341.3 504.8L318.4 512.3L290.8 521.6L238.2 540L194.9 555.5L176.9 562.2L161.1 568.4L152.1 572.2L146.4 574.9L141.1 577.6L136.2 580.4L127.6 586.2L110.5 598.9z" fill="#001dff" stroke="#001dff"/><path d="M121 584.8L119.5 586.6L126.4 578.7L133 571.7L140.2 565L146.8 559.6L153.8 554.7L160 550.9L166.5 547.6L173.3 544.8L180.5 542.4L188 540.6L195.8 539.4L204 538.7L210.9 538.6L219.7 539L229 539.9L238.6 541.4L252.7 544.4L267.7 548.4L285.7 554.1L304.8 560.8L338.2 573.5L427 609L477.8 628.7L533.1 649.3L588.8 669.2L610.5 659.3L632.1 649.8L653.8 640.6L673.8 632.5L693.8 624.8L715.5 616.8L737.1 609.3L758.8 602.1L780.5 595.2L803.8 588.2L827.2 581.5L852.2 574.6L907.2 560.2L987.2 540.2L851.9 499.9L800.1 484.7L753 471.5L731.3 465.7L713.1 461.2L695.9 457.1L679.5 453.6L663.9 450.6L651.1 448.5L639 446.7L629.2 445.6L604.9 443.6L592.8 442.4L579.4 440.6L566.4 438.4L550.7 435.3L535.6 431.7L521 427.8L506.7 423.4L486.4 416.4L467.2 408.8L457.2 404.4L447 399.7L426.8 389.6L411.9 381.5L396.7 372.7L377.9 361.2L344.8 339.9L332.6 332.3L318.9 324.3L308.7 319L303.1 316.5L297.9 314.4L292.8 312.6L287.8 311.2L282.8 310.1L278.3 309.5L275.2 309.3L270.6 309.3L265.8 309.8L262.7 310.4L258.7 311.5L254.1 313.3L249.9 315.4L247.1 317.1L243.4 319.7L240.3 322.3L236.9 325.5L233.5 329L230.2 332.9L226.9 337.2L220.4 346.9L213.9 358.2L209.3 367.2L203.3 380.2L197.1 395.2L191 411.1L181.2 439.3L157.9 509.6L151.8 526.8L147.1 538.8L141.4 551.9L135.5 563.5L129 573.8L125.1 579.4L121 584.8z" fill="#001dff" stroke="#001dff"/><path d="M113.6 594.6L112.7 595.4L124.8 579.9L129 573.8L132.4 568.7L135.9 562.6L139.1 556.6L145 543.9L150.4 530.4L157.4 511.1L164 491.7L179.8 443.4L189.5 415.3L193.8 403.7L199.2 390.1L203.3 380.2L209.3 367.2L213.9 358.2L218.2 350.5L222.5 343.5L226.9 337.2L231.3 331.5L236.9 325.5L242.6 320.4L247.1 317.1L253.1 313.7L256.3 312.3L259.5 311.2L265.8 309.8L272.1 309.2L275.4 309.3L280.3 309.7L287.5 311.1L295.3 313.4L302.7 316.3L310.9 320.1L317.7 323.7L326.7 328.8L335.3 334L387.1 367L424.1 391.3L424.3 391.5L418.9 390.2L415 389.5L407.6 388.7L404.1 388.7L400.6 388.9L397.3 389.4L394 390.2L390.9 391.2L387.8 392.5L384.9 394.1L382 396.1L379.3 398.3L376.6 400.8L372.4 405.9L369.9 409.3L367.6 413.1L363.8 420.2L359.5 430.2L356.1 439.8L352.9 450.6L349.8 462.6L346.9 476.1L342 499.9L318.9 507.4L294.6 515.5L245.2 532.6L190.2 552.4L174 558.5L160 564.1L152.7 567.4L147.1 570L142 572.8L137.3 575.6L133.1 578.6L129.2 581.6L113.6 594.6z" fill="#002eff" stroke="#002eff"/><path d="M121 584.8L119.5 586.6L126.4 578.7L133 571.7L140.2 565L146.8 559.6L153.8 554.7L160 550.9L166.5 547.6L173.3 544.8L180.5 542.4L188 540.6L195.8 539.4L204 538.7L210.9 538.6L219.7 539L229 539.9L238.6 541.4L252.7 544.4L267.7 548.4L285.7 554.1L304.8 560.8L338.2 573.5L427 609L477.8 628.7L533.1 649.3L588.8 669.2L610.5 659.3L632.1 649.8L653.8 640.6L673.8 632.5L693.8 624.8L715.5 616.8L737.1 609.3L758.8 602.1L780.5 595.2L803.8 588.2L827.2 581.5L852.2 574.6L907.2 560.2L987.2 540.2L851.9 499.9L800.1 484.7L753 471.5L731.3 465.7L713.1 461.2L695.9 457.1L679.5 453.6L663.9 450.6L651.1 448.5L639 446.7L629.2 445.6L604.9 443.6L592.8 442.4L579.4 440.6L566.4 438.4L550.7 435.3L535.6 431.7L521 427.8L506.7 423.4L486.4 416.4L467.2 408.8L457.2 404.4L447 399.7L426.8 389.6L411.9 381.5L396.7 372.7L377.9 361.2L344.8 339.9L332.6 332.3L318.9 324.3L308.7 319L303.1 316.5L297.9 314.4L292.8 312.6L287.8 311.2L282.8 310.1L278.3 309.5L275.2 309.3L270.6 309.3L265.8 309.8L262.7 310.4L258.7 311.5L254.1 313.3L249.9 315.4L247.1 317.1L243.4 319.7L240.3 322.3L236.9 325.5L233.5 329L230.2 332.9L226.9 337.2L220.4 346.9L213.9 358.2L209.3 367.2L203.3 380.2L197.1 395.2L191 411.1L181.2 439.3L157.9 509.6L151.8 526.8L147.1 538.8L141.4 551.9L135.5 563.5L129 573.8L125.1 579.4L121 584.8z" fill="#002eff" stroke="#002eff"/><path class="k" d="M342 499.9L318.9 507.4L294.6 515.5L245.2 532.6L190.2 552.4L174 558.5L160 564.1L152.7 567.4L147.1 570L142 572.8L137.3 575.6L133.1 578.6L129.2 581.6L119 590L112.7 595.4"/><path d="M116.7 590.3L115.9 591.1L122.4 583L126.5 577.5L130.3 572L133.8 566.3L137 560.7L140.2 554.3L146.2 540.9L151.8 526.8L157.9 509.6L179.8 443.4L189.5 415.3L193.8 403.7L199.2 390.1L203.3 380.2L207.5 371L211.8 362.3L216.5 353.5L222.5 343.5L226.9 337.2L231.3 331.5L236.9 325.5L242.6 320.4L247.1 317.1L253.1 313.7L256.3 312.3L259.5 311.2L265.8 309.8L272.1 309.2L275.4 309.3L280.3 309.7L287.5 311.1L295.3 313.4L302.7 316.3L310.9 320.1L317.7 323.7L326.7 328.8L335.3 334L387.1 367L424.1 391.3L424.3 391.5L418.9 390.2L415 389.5L407.6 388.7L404.1 388.7L400.6 388.9L397.3 389.4L394 390.2L390.9 391.2L387.8 392.5L383 395.4L380.2 397.5L377.5 400L373.2 404.8L370.7 408.1L368.3 411.8L364.5 418.7L360.2 428.4L356.7 437.8L353.5 448.3L350.4 460.1L347.4 473.3L342.7 495.1L307.2 506.6L257.3 523.6L200.3 543.8L180.7 551.1L163.5 558L156.1 561.2L149.2 564.5L144.1 567.3L139.5 570.1L135.5 573.1L130.9 577L122.4 584.8L116.7 590.3z" fill="#0040ff" stroke="#0040ff"/><path d="M121 584.8L119.5 586.6L126.4 578.7L133 571.7L140.2 565L146.8 559.6L153.8 554.7L160 550.9L166.5 547.6L173.3 544.8L180.5 542.4L188 540.6L195.8 539.4L204 538.7L210.9 538.6L219.7 539L229 539.9L238.6 541.4L252.7 544.4L267.7 548.4L285.7 554.1L304.8 560.8L338.2 573.5L427 609L477.8 628.7L533.1 649.3L588.8 669.2L610.5 659.3L632.1 649.8L653.8 640.6L673.8 632.5L693.8 624.8L715.5 616.8L737.1 609.3L758.8 602.1L780.5 595.2L803.8 588.2L827.2 581.5L852.2 574.6L907.2 560.2L987.2 540.2L851.9 499.9L800.1 484.7L753 471.5L731.3 465.7L713.1 461.2L695.9 457.1L679.5 453.6L663.9 450.6L651.1 448.5L639 446.7L629.2 445.6L604.9 443.6L592.8 442.4L579.4 440.6L566.4 438.4L550.7 435.3L535.6 431.7L521 427.8L506.7 423.4L486.4 416.4L467.2 408.8L457.2 404.4L447 399.7L426.8 389.6L411.9 381.5L396.7 372.7L377.9 361.2L344.8 339.9L332.6 332.3L318.9 324.3L308.7 319L303.1 316.5L297.9 314.4L292.8 312.6L287.8 311.2L282.8 310.1L278.3 309.5L275.2 309.3L270.6 309.3L265.8 309.8L262.7 310.4L258.7 311.5L254.1 313.3L249.9 315.4L247.1 317.1L243.4 319.7L240.3 322.3L236.9 325.5L233.5 329L230.2 332.9L226.9 337.2L220.4 346.9L213.9 358.2L209.3 367.2L203.3 380.2L197.1 395.2L191 411.1L181.2 439.3L157.9 509.6L151.8 526.8L147.1 538.8L141.4 551.9L135.5 563.5L129 573.8L125.1 579.4L121 584.8z" fill="#0040ff" stroke="#0040ff"/><path d="M120 586.1L119.8 586.3L123.8 581.2L127.9 575.5L131.5 570.1L134.9 564.5L138 558.7L141.1 552.6L147.1 538.8L151.8 526.8L157.9 509.6L179.8 443.4L189 416.7L197.9 393.2L203.3 380.2L207.5 371L211.8 362.3L216.5 353.5L222.5 343.5L226.9 337.2L231.3 331.5L236.9 325.5L242.6 320.4L247.1 317.1L253.1 313.7L256.3 312.3L259.5 311.2L265.8 309.8L272.1 309.2L275.4 309.3L280.3 309.7L287.5 311.1L295.3 313.4L302.7 316.3L310.9 320.1L317.7 323.7L326.7 328.8L335.3 334L387.1 367L424.1 391.3L424.3 391.5L418.9 390.2L415 389.5L407.6 388.7L404.1 388.7L400.6 388.9L395.1 389.9L391.9 390.8L388.8 392L383.9 394.7L381.1 396.8L378.4 399.1L374.1 403.7L371.5 407L369.1 410.5L365.2 417.2L361.5 425L358.1 433.9L354.8 443.9L351.6 455.2L348.5 467.8L343.5 490.3L325.4 495.9L298.9 504.6L247.4 522.2L194 541.3L177.9 547.4L163.9 553.1L156.6 556.3L149.9 559.7L145 562.5L140.7 565.4L136.9 568.4L132.7 572.4L125 580.4L120 586.1zM119.3 586.9L120.3 585.7L119.3 586.9z" fill="#0052ff" stroke="#0052ff"/><path d="M121 584.8L119.5 586.6L126.4 578.7L133 571.7L140.2 565L146.8 559.6L153.8 554.7L160 550.9L166.5 547.6L173.3 544.8L180.5 542.4L188 540.6L195.8 539.4L204 538.7L210.9 538.6L219.7 539L229 539.9L238.6 541.4L252.7 544.4L267.7 548.4L285.7 554.1L304.8 560.8L338.2 573.5L427 609L477.8 628.7L533.1 649.3L588.8 669.2L610.5 659.3L632.1 649.8L653.8 640.6L673.8 632.5L693.8 624.8L715.5 616.8L737.1 609.3L758.8 602.1L780.5 595.2L803.8 588.2L827.2 581.5L852.2 574.6L907.2 560.2L987.2 540.2L851.9 499.9L800.1 484.7L753 471.5L731.3 465.7L713.1 461.2L695.9 457.1L679.5 453.6L663.9 450.6L651.1 448.5L639 446.7L629.2 445.6L604.9 443.6L592.8 442.4L579.4 440.6L566.4 438.4L550.7 435.3L535.6 431.7L521 427.8L506.7 423.4L486.4 416.4L467.2 408.8L457.2 404.4L447 399.7L426.8 389.6L411.9 381.5L396.7 372.7L377.9 361.2L344.8 339.9L332.6 332.3L318.9 324.3L308.7 319L303.1 316.5L297.9 314.4L292.8 312.6L287.8 311.2L282.8 310.1L278.3 309.5L275.2 309.3L270.6 309.3L265.8 309.8L262.7 310.4L258.7 311.5L254.1 313.3L249.9 315.4L247.1 317.1L243.4 319.7L240.3 322.3L236.9 325.5L233.5 329L230.2 332.9L226.9 337.2L220.4 346.9L213.9 358.2L209.3 367.2L203.3 380.2L197.1 395.2L191 411.1L181.2 439.3L157.9 509.6L151.8 526.8L147.1 538.8L141.4 551.9L135.5 563.5L129 573.8L125.1 579.4L121 584.8z" fill="#0052ff" stroke="#0052ff"/><path d="M125.8 578.5L125.6 578.7L132.4 568.7L138 558.7L143.7 546.7L148.9 534.2L153.2 522.8L159.5 504.9L179.8 443.4L189 416.7L197.9 393.2L203.3 380.2L207.5 371L211.8 362.3L216.5 353.5L222.5 343.5L226.9 337.2L231.3 331.5L236.9 325.5L242.6 320.4L247.1 317.1L253.1 313.7L256.3 312.3L259.5 311.2L265.8 309.8L272.1 309.2L275.4 309.3L280.3 309.7L287.5 311.1L295.3 313.4L302.7 316.3L310.9 320.1L317.7 323.7L326.7 328.8L335.3 334L387.1 367L424.1 391.3L424.3 391.5L418.9 390.2L415 389.5L407.6 388.7L404.1 388.7L400.6 388.9L395.1 389.9L391.9 390.8L388.8 392L383.9 394.7L381.1 396.8L378.4 399.1L374.1 403.7L371.5 406.9L369.1 410.5L365.2 417.2L361.5 425L358 433.8L354.7 443.9L351.5 455.1L344.3 485.5L324.2 491.6L301.1 499.1L254.5 514.9L224.1 525.6L200.9 534L176.6 543.1L164.4 548.2L155.8 552.1L150.6 554.8L145.9 557.7L141.8 560.7L138.3 563.8L135.2 567L130.3 572.7L125.8 578.5z" fill="#005fff" stroke="#005fff"/><path d="M123.4 581.9L122.8 582.7L129.1 575.6L136 568.8L142.3 563.2L149.1 557.9L156.2 553.1L162.5 549.6L169.2 546.4L176.1 543.8L183.4 541.7L191.1 540.1L199.1 539.1L205.7 538.7L212.6 538.6L221.6 539.1L230.9 540.2L240.6 541.8L254.8 545L269.9 549.1L288 554.9L307.3 561.7L338.2 573.5L427 609L477.8 628.7L533.1 649.3L588.8 669.2L610.5 659.3L632.1 649.8L653.8 640.6L673.8 632.5L693.8 624.8L715.5 616.8L737.1 609.3L758.8 602.1L780.5 595.2L803.8 588.2L827.2 581.5L852.2 574.6L907.2 560.2L987.2 540.2L851.9 499.9L800.1 484.7L753 471.5L731.3 465.7L713.1 461.2L695.9 457.1L679.5 453.6L663.9 450.6L651.1 448.5L639 446.7L629.2 445.6L604.9 443.6L592.8 442.4L579.4 440.6L566.4 438.4L550.7 435.3L535.6 431.7L521 427.8L506.7 423.4L486.4 416.4L467.2 408.8L457.2 404.4L447 399.7L426.8 389.6L411.9 381.5L396.7 372.7L377.9 361.2L344.8 339.9L332.6 332.3L318.9 324.3L308.7 319L303.1 316.5L297.9 314.4L292.8 312.6L287.8 311.2L282.8 310.1L278.3 309.5L275.2 309.3L270.6 309.3L265.8 309.8L262.7 310.4L258.7 311.5L254.1 313.3L249.9 315.4L247.1 317.1L243.4 319.7L240.3 322.3L236.9 325.5L233.5 329L230.2 332.9L226.9 337.2L220.4 346.9L213.9 358.2L209.3 367.2L203.3 380.2L197.1 395.2L191 411.1L181.2 439.3L157.9 509.6L151.8 526.8L147.6 537.6L142.5 549.4L136.7 561.2L133.8 566.3L130.4 571.8L123.4 581.9z" fill="#005fff" stroke="#005fff"/><path d="M128.5 574.7L134 565.9L139.5 555.8L144.7 544.5L150.3 530.6L154.8 518.6L159.5 504.9L179.3 445L187.1 422.2L193.1 405.7L197.1 395.2L201.2 385.1L205.6 375.1L211.8 362.3L216 354.3L220.4 346.9L226.8 337.3L231.3 331.5L236.9 325.5L242.6 320.4L247.1 317.1L253.1 313.7L256.3 312.3L259.5 311.2L265.8 309.8L272.1 309.2L275.4 309.3L280.3 309.7L287.5 311.1L295.3 313.4L302.7 316.3L310.9 320.1L317.7 323.7L326.7 328.8L335.3 334L387.1 367L424.1 391.3L424.3 391.5L418.9 390.2L415 389.5L407.6 388.7L404.1 388.7L400.6 388.9L395.1 389.9L391.9 390.8L388.8 392L383.9 394.7L379.3 398.3L374.9 402.7L372.4 405.8L369.9 409.3L365.9 415.8L362.2 423.3L358.7 432L355.3 441.8L352.1 452.8L349.6 462.5L344.7 483L328.1 488.1L304.8 495.5L283.8 502.4L251.2 513.6L219.2 524.9L194.4 533.9L178.4 540L167.6 544.4L160.3 547.7L153.5 551L147.5 554.6L143.4 557.5L139.8 560.6L136.8 563.8L133.4 568L128.5 574.7z" fill="#0068ff" stroke="#0068ff"/><path d="M125.1 579.8L124.6 580.6L131 573.7L137 567.8L143.4 562.3L150.2 557.1L156.2 553.1L162.5 549.6L169.2 546.4L176.1 543.8L183.4 541.7L191.1 540.1L199.1 539.1L205.7 538.7L212.6 538.6L221.6 539.1L230.9 540.2L240.6 541.8L254.8 545L269.9 549.1L288 554.9L307.3 561.7L338.2 573.5L427 609L477.8 628.7L533.1 649.3L588.8 669.2L610.5 659.3L632.1 649.8L653.8 640.6L673.8 632.5L693.8 624.8L715.5 616.8L737.1 609.3L758.8 602.1L780.5 595.2L803.8 588.2L827.2 581.5L852.2 574.6L907.2 560.2L987.2 540.2L851.9 499.9L800.1 484.7L753 471.5L731.3 465.7L713.1 461.2L695.9 457.1L679.5 453.6L663.9 450.6L651.1 448.5L639 446.7L629.2 445.6L604.9 443.6L592.8 442.4L579.4 440.6L566.4 438.4L550.7 435.3L535.6 431.7L521 427.8L506.7 423.4L486.4 416.4L467.2 408.8L457.2 404.4L447 399.7L426.8 389.6L411.9 381.5L396.7 372.7L377.9 361.2L344.8 339.9L332.6 332.3L318.9 324.3L308.7 319L303.1 316.5L297.9 314.4L292.8 312.6L287.8 311.2L282.8 310.1L278.3 309.5L275.2 309.3L270.6 309.3L265.8 309.8L262.7 310.4L258.7 311.5L254.1 313.3L249.9 315.4L247.1 317.1L243.4 319.7L240.3 322.3L236.9 325.5L233.5 329L230.2 332.9L226.9 337.2L220.4 346.9L213.9 358.2L209.3 367.2L203.3 380.2L197.1 395.2L191 411.1L181.2 439.3L157.9 509.6L151.8 526.8L147.6 537.6L142.5 549.4L137 560.7L132.4 568.7L125.1 579.8z" fill="#0068ff" stroke="#0068ff"/><path d="M131 570.8L131.7 569.8L131 570.8zM131.6 569.9L131.4 570.3L136.7 561.2L141.1 552.6L145 543.9L150.4 530.4L154.8 518.6L159.5 504.9L179.8 443.4L189 416.7L197.9 393.2L203.3 380.2L207.5 371L211.8 362.3L216.5 353.5L222.5 343.5L226.9 337.2L231.3 331.5L233.6 329L238.1 324.4L243.4 319.7L249.4 315.7L254.1 313.3L256.4 312.3L261.1 310.8L265.8 309.8L269 309.4L273 309.2L280.3 309.7L287.5 311.1L295.3 313.4L303.1 316.5L310.9 320.1L317.7 323.7L326.7 328.8L335.3 334L387.1 367L424.1 391.3L424.3 391.5L418.9 390.2L415 389.5L407.6 388.7L404.1 388.7L400.6 388.9L395.1 389.9L391.9 390.8L388.8 392L383.9 394.7L379.3 398.3L374.9 402.7L370.7 408.1L366.7 414.4L362.9 421.7L359.4 430.1L356 439.7L352.7 450.4L350.2 460L345.1 480.6L330.3 485.1L308.6 491.9L261.6 507.6L232.8 517.6L201.1 529L181.7 536.3L169.3 541.4L162 544.6L155.1 547.9L150.2 550.7L145.9 553.6L142.2 556.7L139.1 559.9L135.7 564L131.6 569.9z" fill="#0071ff" stroke="#0071ff"/><path d="M126.9 577.7L126.5 578.5L133 571.7L139.1 565.9L145.6 560.5L152.6 555.5L158.7 551.7L165.2 548.3L171.9 545.3L179 542.9L186.5 541L192.7 539.8L200.7 538.9L207.4 538.6L214.4 538.7L223.4 539.3L232.8 540.5L242.6 542.2L256.9 545.5L272.1 549.7L288 554.9L307.3 561.7L338.2 573.5L427 609L477.8 628.7L533.1 649.3L588.8 669.2L610.5 659.3L632.1 649.8L653.8 640.6L673.8 632.5L693.8 624.8L715.5 616.8L737.1 609.3L758.8 602.1L780.5 595.2L803.8 588.2L827.2 581.5L852.2 574.6L907.2 560.2L987.2 540.2L851.9 499.9L800.1 484.7L753 471.5L731.3 465.7L713.1 461.2L695.9 457.1L679.5 453.6L663.9 450.6L651.1 448.5L639 446.7L629.2 445.6L604.9 443.6L592.8 442.4L579.4 440.6L566.4 438.4L550.7 435.3L535.6 431.7L521 427.8L506.7 423.4L486.4 416.4L467.2 408.8L457.2 404.4L447 399.7L426.8 389.6L411.9 381.5L396.7 372.7L377.9 361.2L344.8 339.9L332.6 332.3L318.9 324.3L308.7 319L303.1 316.5L297.9 314.4L292.8 312.6L287.8 311.2L282.8 310.1L278.3 309.5L275.2 309.3L270.6 309.3L265.8 309.8L262.7 310.4L258.7 311.5L254.1 313.3L249.9 315.4L247.1 317.1L243.4 319.7L240.3 322.3L236.9 325.5L233.5 329L230.2 332.9L226.9 337.2L220.4 346.9L213.9 358.2L209.3 367.2L203.3 380.2L197.1 395.2L191 411.1L181.2 439.3L159.5 504.9L153.2 522.8L148.9 534.2L143.7 546.7L139.1 556.6L134.9 564.5L126.9 577.7z" fill="#0071ff" stroke="#0071ff"/><path d="M133.5 566.8L133.4 567L134 565.9L133.5 566.8zM134.1 565.9L133.9 566.3L138 558.7L142.7 548.9L147.1 538.8L151.8 526.8L161.2 499.9L179.3 445L187.1 422.2L193.1 405.7L197.1 395.2L201.2 385.1L205.6 375.1L211.8 362.3L216 354.3L222.5 343.5L226.9 337.2L231.3 331.5L233.6 329L238.1 324.4L243.4 319.7L249.4 315.7L254.1 313.3L256.4 312.3L261.1 310.8L265.8 309.8L269 309.4L273 309.2L280.3 309.7L287.5 311.1L295.3 313.4L303.1 316.5L310.9 320.1L317.7 323.7L326.7 328.8L335.3 334L387.1 367L424.1 391.3L424.3 391.5L418.9 390.2L415 389.5L407.6 388.7L404.1 388.7L400.6 388.9L395.1 389.9L391.9 390.8L388.8 392L383.9 394.7L379.3 398.3L374.9 402.7L370.7 408.1L366.7 414.4L362.9 421.7L359.4 430.1L356.6 437.7L353.3 448.2L350.1 459.9L345.6 478.2L327 483.8L305.3 490.6L258.4 506.3L229.6 516.4L204.6 525.3L185.1 532.6L171 538.3L163.7 541.5L156.8 544.8L151.8 547.6L147.4 550.5L143.7 553.6L140.6 556.8L137.3 560.9L134.1 565.9z" fill="#007aff" stroke="#007aff"/><path d="M128.8 575.6L128.4 576.5L135 569.7L141.2 564.1L147.9 558.8L153.8 554.7L160 550.9L166.5 547.6L173.3 544.8L179 542.9L186.5 541L192.7 539.8L200.7 538.9L207.4 538.6L214.4 538.7L223.4 539.3L232.8 540.5L242.6 542.2L256.9 545.5L272.1 549.7L288 554.9L307.3 561.7L338.2 573.5L427 609L477.8 628.7L533.1 649.3L588.8 669.2L610.5 659.3L632.1 649.8L652.1 641.3L672.1 633.2L692.1 625.4L712.1 618L732.1 611L752.1 604.2L773.8 597.3L795.5 590.7L818.8 583.9L842.2 577.3L895.5 563.2L965.7 545.5L963 541.7L959.8 537.5L956.6 533.8L953 530.1L818.9 490.2L778.9 478.6L747.5 470L723.4 463.7L700.7 458.3L679.5 453.6L661.7 450.2L647 447.8L633.1 446L621.8 444.9L602.4 443.4L588.8 441.9L574.7 439.8L559.6 437.1L544.8 434L529.7 430.2L515.3 426.1L500.1 421.2L481.7 414.6L462.3 406.7L452.1 402.1L441.7 397.2L422.9 387.6L406.3 378.4L389.3 368.3L373 358.1L341.8 338L329.7 330.5L318.9 324.3L308.7 319L303.1 316.5L297.9 314.4L292.8 312.6L287.8 311.2L282.8 310.1L278.3 309.5L275.2 309.3L270.6 309.3L265.8 309.8L262.7 310.4L258.7 311.5L254.1 313.3L249.9 315.4L247.1 317.1L243.4 319.7L240.3 322.3L236.9 325.5L233.5 329L230.2 332.9L226.9 337.2L220.4 346.9L213.9 358.2L209.3 367.2L203.3 380.2L197.1 395.2L191 411.1L181.2 439.3L159.5 504.9L153.2 522.8L148.9 534.2L144.7 544.5L140.2 554.3L136.7 561.2L131.3 570.7L128.8 575.6z" fill="#007aff" stroke="#007aff"/><path d="M136.2 562.1L140.2 554.3L143.7 546.7L147.6 537.6L151.8 526.8L161.2 499.9L179.3 445L187.1 422.2L193.1 405.7L197.1 395.2L201.2 385.1L205.6 375.1L211.8 362.3L216 354.3L222.5 343.5L226.9 337.2L231.3 331.5L233.6 329L238.1 324.4L243.4 319.7L249.4 315.7L254.1 313.3L256.4 312.3L261.1 310.8L265.8 309.8L269 309.4L273 309.2L280.3 309.7L287.5 311.1L295.3 313.4L303.1 316.5L310.9 320.1L317.7 323.7L326.7 328.8L335.3 334L387.1 367L424.1 391.3L424.3 391.5L418.9 390.2L415 389.5L408.8 388.8L405.2 388.7L401.7 388.8L396.2 389.6L393 390.5L389.9 391.6L384.9 394.1L380.2 397.5L375.8 401.8L371.5 406.9L367.5 413L363.7 420.1L360 428.3L356.6 437.7L353.3 448.1L350.7 457.4L346 475.9L329.2 480.8L311 486.4L268.8 500.3L246.6 508L213 519.9L190 528.3L174.3 534.5L165.3 538.4L159.7 541L153.4 544.5L148.9 547.4L145.1 550.4L142 553.6L139.5 557L136.2 562.1z" fill="#0083ff" stroke="#0083ff"/><path d="M130.6 573.5L130.3 574.4L137 567.8L143.4 562.3L150.2 557.1L156.2 553.1L162.5 549.6L169.2 546.4L176.1 543.8L182 542L189.5 540.3L195.8 539.4L204 538.7L210.9 538.6L217.9 538.9L227.1 539.7L234.7 540.8L244.6 542.6L256.9 545.5L272.1 549.7L288 554.9L307.3 561.7L338.2 573.5L427 609L477.8 628.7L533.1 649.3L588.8 669.2L610.5 659.3L630.5 650.5L650.5 642L668.8 634.5L687.1 627.3L707.1 619.8L725.5 613.3L745.5 606.5L765.5 599.9L785.5 593.7L807.2 587.2L830.5 580.6L880.5 567.1L943 551.2L941.3 547.4L938.9 542.9L935.9 538.3L933.2 534.8L930.2 531.2L926.7 527.5L922.7 523.6L918.2 519.7L831.9 494L787.8 481.2L750.2 470.7L720.8 463.1L693.5 456.6L668.2 451.4L655.3 449.1L645 447.5L627.4 445.4L604.9 443.6L592.8 442.4L577.8 440.3L563 437.8L545.1 434L527.7 429.6L508.9 424.1L491.1 418.1L473.2 411.2L454.7 403.3L436.4 394.6L420.2 386.1L406.3 378.4L389.3 368.3L373 358.1L341.8 338L329.8 330.6L318.9 324.3L310.9 320.1L300.5 315.4L295.3 313.4L290.3 311.8L285.3 310.6L281.4 309.9L277.9 309.5L272.1 309.2L268.2 309.5L263.4 310.2L259.5 311.2L256.3 312.3L251.7 314.4L247.1 317.1L243.4 319.7L240.3 322.3L236.9 325.5L233.5 329L230.2 332.9L226.9 337.2L220.4 346.9L213.9 358.2L209.3 367.2L203.3 380.2L197.1 395.2L191 411.1L181.2 439.3L159.5 504.9L154.8 518.6L150.3 530.6L146.2 540.9L142.5 549.4L139.1 556.6L133.1 568L130.6 573.5z" fill="#0083ff" stroke="#0083ff"/><path class="k" d="M943 551.2L941.3 547.4L938.9 542.9L935.9 538.3L933.2 534.8L930.2 531.2L926.7 527.5L922.7 523.6L918.2 519.7M346.1 475.8L323.7 482.5L302 489.3L281 496.2L251.7 506.2L218 518.1L193.3 527.1L178.9 532.7L165.3 538.4L158.4 541.7L152.2 545.2L147.9 548.1L145.1 550.4L143.5 552L140.1 556.1L136.7 561.2L133.1 568L130.3 574.4"/><path d="M138.5 557.8L141.4 551.9L145 543.9L148.9 534.2L153.2 522.8L161.2 499.9L179.3 445L187.1 422.2L193.1 405.7L197.1 395.2L201.2 385.1L205.6 375.1L211.8 362.3L216 354.3L222.5 343.5L226.9 337.2L231.3 331.5L233.6 329L238.1 324.4L243.4 319.7L249.4 315.7L254.1 313.3L256.4 312.3L261.1 310.8L265.8 309.8L269 309.4L273 309.2L280.3 309.7L287.5 311.1L295.3 313.4L303.1 316.5L310.9 320.1L317.7 323.7L326.7 328.8L335.3 334L387.1 367L424.1 391.3L424.3 391.5L418.9 390.2L415 389.5L408.8 388.8L405.2 388.7L401.7 388.8L396.2 389.6L393 390.5L389.9 391.6L384.9 394.1L380.2 397.5L375.7 401.8L371.5 406.9L367.5 413L363.6 420.1L360 428.3L357.3 435.7L353.9 445.9L351.3 455L346.5 473.4L325.8 479.5L307.7 485.1L265.6 499L238.3 508.5L206.5 519.8L191.8 525.3L176 531.5L167 535.3L161.4 537.9L154.9 541.4L150.4 544.2L146.6 547.3L143.5 550.5L140.9 553.8L138.5 557.8z" fill="#008bff" stroke="#008bff"/><path d="M132.6 571.5L132.3 572.4L138.1 566.9L144.5 561.4L151.4 556.3L157.5 552.4L163.8 548.9L170.5 545.9L177.6 543.3L183.4 541.7L191.1 540.1L197.5 539.2L205.7 538.7L212.6 538.6L219.7 539L229 539.9L236.7 541.1L246.6 543L259 546L274.3 550.4L290.4 555.7L307.3 561.7L338.2 573.5L427 609L477.8 628.7L533.1 649.3L588.8 669.2L608.8 660L628.8 651.2L647.1 643.4L665.5 635.8L683.8 628.6L702.1 621.7L720.5 615L738.8 608.7L757.1 602.6L777.2 596.3L797.2 590.2L818.8 583.9L865.5 571L919.9 557L918.6 551.5L916.2 545L912.6 538.4L908.7 532.6L903.6 526.6L898.1 521L891.1 514.9L883.5 509.3L815.7 489.2L770.1 476.2L731.3 465.7L698.3 457.7L684.1 454.6L670.4 451.8L657.4 449.5L647 447.8L627.4 445.4L604.9 443.6L592.8 442.4L579.4 440.6L566.4 438.4L550.7 435.3L535.6 431.7L519.5 427.3L504.5 422.7L484.6 415.7L464.8 407.7L454.7 403.3L444.4 398.5L425.7 389.1L407.5 379L389.7 368.5L373 358.1L341.8 338L329.7 330.5L318.9 324.3L308.7 319L299.7 315.1L295.3 313.4L290.3 311.8L285.3 310.6L281.4 309.9L277.9 309.5L272.1 309.2L268.2 309.5L263.4 310.2L259.5 311.2L256.3 312.3L251.7 314.4L247.1 317.1L243.4 319.7L240.3 322.3L236.9 325.5L233.5 329L230.2 332.9L226.9 337.2L220.4 346.9L213.9 358.2L209.3 367.2L203.3 380.2L199.2 390.1L193.8 403.7L189 416.7L183.1 433.5L161.2 499.9L153.2 522.8L148.9 534.2L145 543.9L141.1 552.6L135.4 564.2L133.6 568.4L132.6 571.5z" fill="#008bff" stroke="#008bff"/><path d="M140.4 554.1L140.2 554.4L146.2 540.9L153.2 522.8L161.2 499.9L179.3 445L187.1 422.2L193.1 405.7L197.1 395.2L201.2 385.1L205.6 375.1L211.8 362.3L216 354.3L222.5 343.5L226.9 337.2L231.3 331.5L233.6 329L238.1 324.4L243.4 319.7L246.7 317.4L249.9 315.4L253.1 313.7L256.3 312.3L261.1 310.8L265.8 309.8L269 309.4L273 309.2L280.3 309.7L287.5 311.1L295.3 313.4L303.1 316.5L310.9 320.1L317.7 323.7L326.7 328.8L335.3 334L387.1 367L424.1 391.3L424.3 391.5L418.9 390.2L415 389.5L408.8 388.8L402.9 388.7L397.3 389.4L394 390.2L390.9 391.2L385.9 393.6L381.1 396.8L376.6 400.8L372.3 405.8L368.2 411.7L364.4 418.6L360.7 426.6L357.9 433.8L354.5 443.8L351.3 455L346.9 471.1L328 476.5L309.7 482.1L272.7 494.2L240.1 505.4L218.3 513.1L198.4 520.4L179.3 527.7L168.7 532.2L163 534.8L156.5 538.2L151.9 541.1L148 544.1L144.9 547.3L142.4 550.7L140.4 554.1z" fill="#0094ff" stroke="#0094ff"/><path d="M134.6 569.4L134.4 570.3L140.2 565L146.8 559.6L153.8 554.7L160 550.9L166.5 547.6L171.9 545.3L179 542.9L184.9 541.3L192.7 539.8L199.1 539.1L205.7 538.7L212.6 538.6L219.7 539L229 539.9L236.7 541.1L246.6 543L259 546L274.3 550.4L290.4 555.7L307.3 561.7L338.2 573.5L427 609L477.8 628.7L533.1 649.3L588.8 669.2L622.1 654.1L653.8 640.6L685.5 628L717.1 616.2L735.5 609.8L755.5 603.2L775.5 596.8L797.2 590.2L818.8 583.9L842.2 577.3L896 563.1L896.1 559.5L895.8 555.5L895.2 551.5L894.5 548.4L893.1 544.1L891.3 539.8L889.5 536.5L886.7 531.9L883.9 528.1L881.1 524.7L877.8 521.1L873.9 517.3L869.4 513.4L860.2 506.4L854.6 502.7L848.4 498.8L797 483.8L755.8 472.2L723.4 463.7L693.5 456.6L668.2 451.4L655.3 449.1L645 447.5L627.4 445.4L605.4 443.7L594.2 442.6L581 440.8L568.1 438.7L552.5 435.7L535.6 431.7L519.5 427.3L504.5 422.7L484.6 415.7L464.8 407.7L454.7 403.3L444.4 398.5L425.7 389.1L407.5 379L389.7 368.5L373 358.1L341.8 338L329.7 330.5L318.9 324.3L308.7 319L299.7 315.1L295.3 313.4L290.3 311.8L285.3 310.6L281.4 309.9L277.9 309.5L272.1 309.2L268.2 309.5L263.4 310.2L259.5 311.2L256.3 312.3L251.7 314.4L247.1 317.1L243.4 319.7L240.3 322.3L236.9 325.5L233.5 329L230.2 332.9L226.9 337.2L220.4 346.9L213.9 358.2L209.3 367.2L203.3 380.2L197.9 393.2L193.1 405.7L183.1 433.5L162.9 494.9L154.8 518.6L150.3 530.6L146.2 540.9L137.2 561L135.7 565.2L134.6 569.4z" fill="#0094ff" stroke="#0094ff"/><path d="M142.1 550.4L142.7 548.9L142.1 550.4zM142.3 550.1L142 550.6L148.9 534.2L156.3 514.2L162.9 494.9L181.2 439.3L189.5 415.3L197.9 393.2L205.6 375.1L211.8 362.3L216 354.3L222.5 343.5L226.9 337.2L231.3 331.5L233.6 329L238.1 324.4L243.4 319.7L246.7 317.4L249.9 315.4L253.1 313.7L256.3 312.3L261.1 310.8L265.8 309.8L269 309.4L273 309.2L280.3 309.7L287.5 311.1L295.3 313.4L303.1 316.5L310.9 320.1L317.7 323.7L326.7 328.8L335.3 334L387.1 367L424.1 391.3L424.3 391.5L418.9 390.2L415 389.5L408.8 388.8L402.9 388.7L397.3 389.4L394 390.2L390.9 391.2L385.9 393.6L381.1 396.8L376.6 400.8L372.3 405.8L368.2 411.7L364.4 418.6L361.4 424.9L358.6 431.9L355.2 441.6L351.9 452.6L347.4 468.7L330.3 473.6L313.6 478.6L292.1 485.4L269.4 492.9L218.4 510.7L193.7 519.7L181 524.7L170.4 529.1L164.7 531.7L158.1 535.1L154.6 537.2L150.4 540.2L147 543.3L144.4 546.7L142.3 550.1z" fill="#009dff" stroke="#009dff"/><path d="M136.6 567.4L136.5 568.3L142.3 563.2L149.1 557.9L155 553.9L161.3 550.3L167.8 547L173.3 544.8L180.5 542.4L186.5 541L194.2 539.6L200.7 538.9L207.4 538.6L214.4 538.7L221.6 539.1L230.9 540.2L238.6 541.4L248.6 543.5L261.2 546.6L276.6 551.1L292.7 556.5L309.8 562.6L340.9 574.5L427 609L477.8 628.7L533.1 649.3L588.8 669.2L623.8 653.4L657.1 639.2L688.8 626.7L722.1 614.5L755.5 603.2L790.5 592.2L828.8 581L870.6 569.7L871.7 566.1L872.5 562.4L872.9 558.6L873 554.7L872.7 550.7L871.8 545.6L870.6 541.4L868.9 537.1L866.7 532.7L863.9 528.2L860.3 523.5L857.2 519.8L852.7 515.2L847.9 510.9L842.5 506.6L836.9 502.5L831 498.7L824.9 495.1L818.6 491.6L811.3 487.9L773 477L739.3 467.8L710.6 460.6L686.4 455.1L663.9 450.6L642.9 447.3L625.5 445.2L605.4 443.7L594.2 442.6L581 440.8L566.4 438.4L550.7 435.3L533.6 431.2L517.4 426.7L502.3 422L491.1 418.1L481.7 414.6L462.3 406.7L452.1 402.1L441.7 397.2L422.9 387.6L409.1 380L395 371.7L377.9 361.2L332.7 332.4L320.7 325.3L310.9 320.1L300.5 315.4L295.3 313.4L290.3 311.8L285.3 310.6L281.4 309.9L277.9 309.5L272.1 309.2L268.2 309.5L263.4 310.2L259.5 311.2L256.3 312.3L251.7 314.4L247.1 317.1L243.4 319.7L240.3 322.3L236.9 325.5L233.5 329L230.2 332.9L226.8 337.3L223.4 342.2L220 347.6L216.5 353.5L212.9 360L207.5 371L201.8 383.7L197.1 395.2L191 411.1L181.2 439.3L164 491.7L157.4 511.1L153.2 522.8L148.9 534.2L145 543.9L140.9 553L139.4 556.8L137.6 562.5L136.6 567.4z" fill="#009dff" stroke="#009dff"/><path d="M143.3 547.8L147.1 538.8L150.3 530.6L157.4 511.1L164 491.7L179.8 443.4L189.5 415.3L197.9 393.2L205.6 375.1L211.8 362.3L216 354.3L222.5 343.5L226.9 337.2L231.3 331.5L233.6 329L238.1 324.4L243.4 319.7L246.7 317.4L249.9 315.4L253.1 313.7L256.3 312.3L261.1 310.8L265.8 309.8L269 309.4L273 309.2L280.3 309.7L287.5 311.1L295.3 313.4L303.1 316.5L310.9 320.1L317.7 323.7L326.7 328.8L335.3 334L387.1 367L424.1 391.3L424.3 391.5L418.9 390.2L415 389.5L408.8 388.8L402.9 388.7L397.3 389.4L391.9 390.8L386.9 393L382 396.1L377.5 399.9L373.1 404.7L369 410.4L365.1 417.1L362.1 423.2L359.3 430L355.8 439.6L352.5 450.3L347.9 466.3L332.5 470.6L315.8 475.6L295.9 481.8L276.5 488.2L247.2 498.1L221.9 507L198.8 515.4L184.3 521L173.6 525.4L166.4 528.6L159.7 532L155 534.8L150.9 537.8L147.7 541L145.2 544.3L143.3 547.8z" fill="#00a6ff" stroke="#00a6ff"/><path d="M138.7 565.3L138.7 566.3L144.5 561.4L151.4 556.3L157.5 552.4L163.8 548.9L170.5 545.9L176.1 543.8L182 542L188 540.6L195.8 539.4L202.4 538.8L209.1 538.6L216.1 538.8L223.4 539.3L230.9 540.2L238.6 541.4L248.6 543.5L261.2 546.6L276.6 551.1L292.7 556.5L309.8 562.6L340.9 574.5L427 609L474.3 627.4L529.2 647.9L582.5 667L596.4 665.7L630.5 650.5L663.8 636.5L697.1 623.5L730.5 611.5L757.1 602.6L783.8 594.2L812.2 585.8L842.9 577.1L846.6 570.6L848.2 567L849.4 563.4L850.4 559.7L850.9 556.9L851.2 554.1L851.3 550.2L850.9 545.2L850 541.1L848.8 536.9L846.5 531.5L844 527L840.9 522.4L837 517.6L832.3 512.7L826.8 507.7L821.6 503.5L816.1 499.6L810.4 495.9L804.5 492.4L796.1 487.8L787.6 483.7L778.8 479.8L768.5 475.7L744.7 469.3L713.1 461.2L684.1 454.6L661.7 450.2L643 447.3L625.7 445.4L594.2 442.6L581 440.8L566.4 438.4L550.7 435.3L533.6 431.2L517.4 426.7L500.1 421.2L481.7 414.6L462.3 406.7L452.1 402.1L441.7 397.2L422.9 387.6L409.1 380L395 371.7L377.9 361.2L332.7 332.4L320.7 325.3L310.9 320.1L300.5 315.4L295.3 313.4L290.3 311.8L285.3 310.6L281.4 309.9L277.9 309.5L272.1 309.2L268.2 309.5L263.4 310.2L259.5 311.2L256.3 312.3L251.7 314.4L247.1 317.1L243.4 319.7L240.3 322.3L236.9 325.5L233.5 329L230.2 332.9L226.8 337.3L223.4 342.2L220 347.6L216.5 353.5L212.9 360L207.5 371L201.2 385.1L195.1 400.4L189.5 415.3L181.2 439.3L162.9 494.9L156.3 514.2L148.9 534.2L141.6 552.1L139.6 559.3L138.7 565.3z" fill="#00a6ff" stroke="#00a6ff"/><path d="M145.1 543.8L145 544L151.8 526.8L157.9 509.6L179.8 443.4L189 416.7L197.9 393.2L205.6 375.1L211.8 362.3L216 354.3L222.5 343.5L226.9 337.2L231.3 331.5L233.6 329L238.1 324.4L243.4 319.7L246.7 317.4L249.9 315.4L253.1 313.7L256.3 312.3L261.1 310.8L265.8 309.8L269 309.4L273 309.2L280.3 309.7L287.5 311.1L295.3 313.4L303.1 316.5L310.9 320.1L317.7 323.7L326.7 328.8L335.3 334L387.1 367L424.1 391.3L424.3 391.5L418.9 390.2L415 389.5L408.8 388.8L402.9 388.7L397.3 389.4L391.9 390.8L386.9 393L382 396.1L377.5 399.9L373.1 404.7L369 410.4L365.1 417.1L362.1 423.2L359.2 430L355.8 439.5L353.1 448L348.4 463.9L332.9 468.2L312.4 474.3L292.6 480.5L273.2 486.9L228.7 502.2L203.8 511.1L187.7 517.3L170.9 524.2L162.6 528.2L157.6 531L153.3 533.9L149.8 537L147.1 540.3L145.1 543.8z" fill="#00afff" stroke="#00afff"/><path d="M140.9 563.3L141 564.3L146.8 559.6L152.6 555.5L158.7 551.7L165.2 548.3L171.9 545.3L177.6 543.3L183.4 541.7L189.5 540.3L195.8 539.4L202.4 538.8L209.1 538.6L216.1 538.8L223.4 539.3L230.9 540.2L238.6 541.4L248.6 543.5L261.2 546.6L276.6 551.1L292.7 556.5L309.8 562.6L340.9 574.5L423.8 607.7L467.3 624.7L514.1 642.4L562.6 659.9L578.1 658.6L595.9 656.8L624.5 653.1L647.1 643.4L668.8 634.5L690.5 626.1L713.8 617.4L737.1 609.3L760.5 601.5L785.5 593.7L810.6 586.2L815.3 581.5L819.4 576.6L823 571.5L825.9 566.3L827.9 561.9L829.6 556.4L830.5 551.7L830.8 546L830.4 541L829.5 536.9L827.9 531.9L825.9 527.3L823.3 522.8L820.1 518.1L816 513.3L812.4 509.6L808.2 505.7L803.3 501.6L797.5 497.4L790.7 492.9L784.9 489.5L776.8 485.1L770.5 482.1L761.9 478.2L746.4 472.1L737.2 468.9L728 466L709.1 460.7L689.9 456.1L668.1 451.8L646.3 448.3L624.5 445.6L589.9 442L577.8 440.3L564.7 438.1L548.8 434.9L531.3 430.6L515.3 426.1L497.4 420.3L478.7 413.5L459.8 405.6L441.7 397.2L422.8 387.5L407.5 379L393.2 370.6L376.3 360.1L344.8 339.9L332.7 332.4L320.7 325.3L310.9 320.1L300.5 315.4L295.3 313.4L290.3 311.8L285.3 310.6L281.4 309.9L277.9 309.5L272.1 309.2L268.2 309.5L263.4 310.2L259.5 311.2L256.3 312.3L251.7 314.4L247.1 317.1L243.4 319.7L240.3 322.3L236.9 325.5L233.5 329L230.2 332.9L226.8 337.3L223.4 342.2L220 347.6L216.5 353.5L212.9 360L207.5 371L201.2 385.1L193.8 403.7L187.1 422.2L179.3 445L164 491.7L157.4 511.1L150.4 530.4L143.4 548L142.2 552.2L141.4 556.2L141 559.6L140.9 563.3z" fill="#00afff" stroke="#00afff"/><path d="M146 541.5L146.2 541L146 541.5zM146.4 540.6L146.2 541L151.8 526.8L157.9 509.6L179.8 443.4L189.5 415.3L193.8 403.7L199.2 390.1L203.3 380.2L207.5 371L212.9 360L218.2 350.5L223.4 342.2L229.1 334.3L233.6 329L236.9 325.5L240.1 322.4L243.4 319.7L246.7 317.4L251.7 314.4L256.4 312.3L259.5 311.2L263.4 310.2L269 309.4L275.4 309.3L282.8 310.1L290.3 311.8L297.9 314.4L305.7 317.6L311.7 320.5L318.9 324.3L326.7 328.8L335.7 334.2L387.1 367L424.1 391.3L424.3 391.5L418.9 390.2L415 389.5L408.8 388.8L402.9 388.7L397.3 389.4L391.9 390.8L386.9 393L382 396.1L377.5 399.9L373.1 404.7L369.8 409.2L365.8 415.7L362.8 421.6L359.9 428.2L356.4 437.5L353.7 445.8L349 461.5L335.3 465.2L316.4 470.7L296.4 476.9L278.7 482.7L254.4 490.8L228.9 499.7L207.2 507.5L189.4 514.2L177 519.2L169.7 522.4L162.9 525.8L158 528.6L153.8 531.5L150.4 534.7L148.4 537.1L146.4 540.6z" fill="#00b8ff" stroke="#00b8ff"/><path d="M143.2 561.4L143.3 562.4L149.1 557.9L155 553.9L161.3 550.3L167.8 547L173.3 544.8L179 542.9L184.9 541.3L191.1 540.1L197.5 539.2L204 538.7L210.9 538.6L217.9 538.9L225.2 539.5L232.8 540.5L240.6 541.8L248.6 543.5L261.2 546.6L276.6 551.1L292.7 556.5L312.3 563.5L343.6 575.6L420.6 606.4L460.4 622L503 638.3L543.5 653.1L559.5 651.9L577.6 650.1L594.7 648.1L608.2 646.3L623.7 644L638.4 641.4L652.3 638.7L665.1 636L688.8 626.7L713.8 617.4L738.8 608.7L765.7 599.9L771.4 596.4L777 592.8L786 586L789.6 582.9L793.8 579L797.5 575L800.3 571.7L802.7 568.3L805.4 564.1L807.2 560.6L808.7 557L809.9 553.4L810.8 549.7L811.3 544.9L811.4 541L810.8 536L809.9 531.9L808.4 527.6L806.5 523.3L804 519L801.4 515.3L798 511L793.8 506.6L789.2 502.4L784.3 498.4L779.1 494.6L773.7 491L766.9 487L760.2 483.3L753.5 480L745.7 476.5L730.5 470.4L714.9 465.1L698.8 460.4L680.1 455.7L661.2 451.8L639.9 448.1L618.6 445.2L585.5 441.5L573 439.6L559.6 437.1L543.2 433.6L525.6 429.1L508.9 424.1L493.3 418.9L474.6 411.8L457.2 404.4L439.1 395.9L420.2 386.1L406.3 378.4L389.3 368.3L373 358.1L341.8 338L329.8 330.6L318.9 324.3L310.9 320.1L300.5 315.4L295.3 313.4L290.3 311.8L285.3 310.6L281.4 309.9L277.9 309.5L272.1 309.2L268.2 309.5L263.4 310.2L259.5 311.2L256.3 312.3L251.7 314.4L247.1 317.1L243.4 319.7L240.1 322.4L235.8 326.6L231.3 331.5L224.7 340.2L218.2 350.5L211.8 362.3L207.5 371L201.8 383.7L197.1 395.2L191 411.1L181.2 439.3L157.9 509.6L151.8 526.8L145.2 543.5L144.1 547.6L143.2 553L143 557L143.2 561.4z" fill="#00b8ff" stroke="#00b8ff"/><path d="M147.7 537.4L147.6 537.6L153.2 522.8L159.5 504.9L179.8 443.4L189 416.7L197.9 393.2L203.3 380.2L207.5 371L212.9 360L218.2 350.5L223.4 342.2L229.1 334.3L233.6 329L236.9 325.5L240.1 322.4L243.4 319.7L246.7 317.4L251.7 314.4L256.4 312.3L259.5 311.2L263.4 310.2L269 309.4L275.4 309.3L282.8 310.1L290.3 311.8L297.9 314.4L305.7 317.6L311.7 320.5L318.9 324.3L326.7 328.8L335.7 334.2L387.1 367L424.1 391.3L424.3 391.5L416.3 389.7L410 388.9L404.1 388.7L398.4 389.2L393 390.5L387.8 392.5L383 395.4L378.4 399.1L373.9 403.6L369.8 409.1L365.8 415.7L362.8 421.6L359.9 428.2L356.4 437.5L349.5 459.1L331.8 463.9L316.8 468.3L300.3 473.4L277.1 480.8L249.4 490.1L227.4 497.8L192.8 510.5L174.3 518L165.8 522L160.7 524.7L156.3 527.6L152.6 530.7L149.7 534L147.7 537.4z" fill="#00c1ff" stroke="#00c1ff"/><path d="M145.5 559.4L145.7 560.4L151.4 556.3L157.5 552.4L163.8 548.9L170.5 545.9L176.1 543.8L182 542L188 540.6L192.7 539.8L199.1 539.1L205.7 538.7L210.9 538.6L217.9 538.9L225.2 539.5L232.8 540.5L240.6 541.8L248.6 543.5L261.2 546.6L276.6 551.1L292.7 556.5L312.3 563.5L343.6 575.6L414.2 603.9L450.2 618.1L488.5 632.8L525.3 646.5L554.1 644.2L580.4 641.4L607 637.7L621.9 635.2L633.7 633L645 630.7L657.9 627.7L670.1 624.6L679.8 622L689.1 619.2L699.7 615.7L709.8 612.2L719.3 608.4L728.2 604.6L736.6 600.7L744.4 596.6L751.7 592.4L757.4 588.8L763.7 584.3L769.5 579.8L774.7 575.1L779.3 570.3L782.7 566.2L786.2 561.1L788.6 556.8L790.5 552.3L792.1 546.8L792.9 542.1L793 537.3L792.7 533.3L791.9 529.2L790.6 525L788.7 520.7L786.5 516.6L783.9 512.8L780.8 508.7L776.7 504.3L772.7 500.4L767.9 496.4L762.6 492.5L757.3 488.9L751.8 485.5L744.2 481.3L736.8 477.6L730.1 474.6L716.9 469.2L702.2 464.1L686.6 459.4L670.6 455.3L652.2 451.2L633.7 447.9L614.1 444.9L581 440.8L568.1 438.7L556.1 436.4L539.4 432.7L523.6 428.5L506.7 423.4L490.8 418L473.2 411.2L454.7 403.3L436.4 394.6L418.9 385.4L403.5 376.7L386.5 366.5L341.8 338L329.8 330.6L318.9 324.3L310.9 320.1L300.5 315.4L295.3 313.4L290.3 311.8L285.3 310.6L281.4 309.9L277.9 309.5L272.1 309.2L268.2 309.5L263.4 310.2L259.5 311.2L256.3 312.3L251.7 314.4L247.1 317.1L243.4 319.7L240.1 322.4L235.8 326.6L231.3 331.5L224.7 340.2L218.2 350.5L211.8 362.3L207.5 371L201.8 383.7L197.1 395.2L191 411.1L181.2 439.3L157.9 509.6L151.8 526.8L146.6 540L145.5 544.6L144.9 549.9L145 555L145.5 559.4z" fill="#00c1ff" stroke="#00c1ff"/><path d="M148.6 535.1L153.2 522.8L159.5 504.9L179.8 443.4L189 416.7L197.9 393.2L203.3 380.2L207.5 371L212.9 360L218.2 350.5L223.4 342.2L229.1 334.3L233.6 329L236.9 325.5L240.1 322.4L243.4 319.7L246.7 317.4L251.7 314.4L256.4 312.3L259.5 311.2L263.4 310.2L269 309.4L275.4 309.3L282.8 310.1L290.3 311.8L297.9 314.4L305.7 317.6L311.7 320.5L318.9 324.3L326.7 328.8L335.7 334.2L387.1 367L424.1 391.3L424.3 391.5L416.3 389.7L410 388.9L404.1 388.7L398.4 389.2L393 390.5L387.8 392.5L383 395.4L378.3 399.1L373.9 403.6L370.6 408L366.6 414.3L363.5 420L360.6 426.5L357 435.5L354.3 443.6L350.1 456.8L334.2 461L319 465.3L302.4 470.4L280.9 477.2L258.2 484.7L234.3 493L205.9 503.2L189.8 509.3L173.1 516.2L164.8 520.2L159.9 523L155.7 526L153.1 528.3L150.4 531.6L148.6 535.1z" fill="#00caff" stroke="#00caff"/><path d="M148 557.4L148.3 558.5L153.8 554.7L160 550.9L166.5 547.6L171.9 545.3L177.6 543.3L183.4 541.7L189.5 540.3L194.2 539.6L200.7 538.9L207.4 538.6L212.6 538.6L219.7 539L225.2 539.5L232.8 540.5L240.6 541.8L248.6 543.5L261.2 546.6L276.6 551.1L292.7 556.5L312.3 563.5L343.6 575.6L446.8 616.7L477.8 628.7L507.7 640L537.3 637.9L564.1 635.2L588.6 632L613.4 627.8L625 625.6L638.2 622.7L650.8 619.7L660.7 617.1L670.2 614.4L681.1 611L691.3 607.4L701 603.7L710 600L717.2 596.7L725.3 592.7L732.8 588.5L739.7 584.2L746.2 579.8L752 575.3L757.3 570.6L761.2 566.6L765.3 561.7L768.3 557.5L771.3 552.3L773.5 546.9L774.8 542.4L775.5 537.6L775.6 532.8L775.2 528.8L774.3 524.7L772.9 520.4L770.9 516.1L768.3 511.6L765.8 508.1L762.9 504.5L759.4 500.8L755.2 496.9L750.4 492.9L745.1 489L740 485.6L734.5 482.3L728.8 479.2L721.8 475.6L715.1 472.6L702.8 467.5L690 463L674.8 458.3L659.2 454.2L643.5 450.6L625.4 447.1L607.3 444.3L576.2 440.1L563 437.8L550.7 435.3L535.6 431.7L519.5 427.3L504.5 422.7L488.8 417.2L469.7 409.8L452.9 402.5L436.4 394.6L418.9 385.4L403.5 376.7L386.5 366.5L341.8 338L329.8 330.6L318.9 324.3L310.9 320.1L300.5 315.4L295.3 313.4L290.3 311.8L285.3 310.6L280.3 309.7L275.4 309.3L270.6 309.3L265.8 309.8L262.7 310.4L258.7 311.5L254.1 313.3L249.9 315.4L246.7 317.4L242.6 320.4L238.1 324.4L233.6 329L230.2 332.9L226.8 337.3L223.4 342.2L220 347.6L216.5 353.5L209.6 366.6L205.4 375.5L199.2 390.1L193.8 403.7L189.5 415.3L179.8 443.4L159.5 504.9L153.2 522.8L148 536.6L147 541.1L146.6 546.8L146.8 551.8L148 557.4z" fill="#00caff" stroke="#00caff"/><path d="M150.2 530.8L154.8 518.6L159.5 504.9L179.8 443.4L189 416.7L197.9 393.2L203.3 380.2L207.5 371L212.9 360L218.2 350.5L223.4 342.2L229.1 334.3L233.6 329L236.9 325.5L240.1 322.4L243.4 319.7L246.7 317.4L251.7 314.4L256.4 312.3L259.5 311.2L263.4 310.2L269 309.4L275.4 309.3L282.8 310.1L290.3 311.8L297.9 314.4L305.7 317.6L311.7 320.5L318.9 324.3L326.7 328.8L335.7 334.2L387.1 367L424.1 391.3L424.3 391.5L416.3 389.7L410 388.9L404.1 388.7L398.4 389.2L393 390.5L387.8 392.5L383.9 394.7L379.2 398.2L374.8 402.6L371.4 406.8L367.3 412.9L364.2 418.5L361.3 424.8L357.7 433.6L354.9 441.4L350.6 454.4L334.7 458.6L317.4 463.5L300.8 468.5L277.6 475.9L253.2 484L231.1 491.7L209.4 499.5L193.1 505.6L183.7 509.3L174.7 513.1L169.1 515.8L162.7 519.2L158.2 522.1L155.3 524.4L152.3 527.6L151.2 529.3L150 531.6L150.2 530.8z" fill="#00d2ff" stroke="#00d2ff"/><path d="M150.5 555.5L150.9 556.6L156.2 553.1L162.5 549.6L169.2 546.4L174.7 544.3L180.5 542.4L184.9 541.3L191.1 540.1L195.8 539.4L202.4 538.8L207.4 538.6L212.6 538.6L219.7 539L225.2 539.5L232.8 540.5L240.6 541.8L248.6 543.5L261.2 546.6L276.6 551.1L292.7 556.5L312.3 563.5L346.4 576.7L440.1 614.1L490.9 633.7L518 632L545.7 629.5L559.9 627.9L573.4 626L598.6 622L621.4 617.4L634.2 614.4L644.3 611.8L655.7 608.6L664.8 605.8L675.2 602.2L684.9 598.6L694.1 594.8L702.7 590.9L710.7 586.9L718.2 582.7L725.1 578.4L731.4 574L737.1 569.4L741.4 565.5L745.3 561.5L749.4 556.6L752.3 552.3L755.2 547.1L757 542.7L758.3 538.1L759 533.3L759 528.5L758.6 524.5L757.6 520.3L756.3 516.5L754.6 512.8L752 508.3L749.5 504.8L746.6 501.2L743.1 497.5L739.3 494L734.8 490.2L730 486.6L724.9 483.3L719.6 480L714.1 477L708.2 474L700.7 470.5L688.6 465.5L676.1 461L663.4 457L650.4 453.5L635 449.9L619.6 446.7L601.8 443.7L581 440.8L571.4 439.3L559.6 437.1L547 434.5L531.3 430.6L515.3 426.1L500.1 421.2L484.6 415.7L467.8 409L452.1 402.1L435.1 393.9L417.5 384.6L403.5 376.7L386.5 366.5L332.6 332.3L320.7 325.3L310.9 320.1L300.5 315.4L295.3 313.4L290.3 311.8L285.3 310.6L280.3 309.7L275.4 309.3L270.6 309.3L265.8 309.8L262.7 310.4L258.7 311.5L254.1 313.3L249.9 315.4L246.7 317.4L242.6 320.4L238.1 324.4L233.6 329L230.2 332.9L226.8 337.3L223.4 342.2L220 347.6L216.5 353.5L209.6 366.6L205.4 375.5L199.2 390.1L193.8 403.7L189.5 415.3L179.8 443.4L159.5 504.9L154.8 518.6L149.2 533.7L148.6 536.1L148.2 539.1L148.2 544.8L148.9 549.8L149.6 552.7L150.5 555.5z" fill="#00d2ff" stroke="#00d2ff"/><path d="M151 528.7L151 528.9L159.5 504.9L179.8 443.4L189 416.7L197.9 393.2L203.3 380.2L207.5 371L212.9 360L218.2 350.5L223.4 342.2L229.1 334.3L233.6 329L236.9 325.5L240.1 322.4L243.4 319.7L246.7 317.4L251.7 314.4L256.4 312.3L259.5 311.2L263.4 310.2L269 309.4L275.4 309.3L282.8 310.1L290.3 311.8L297.9 314.4L305.7 317.6L311.7 320.5L318.9 324.3L326.7 328.8L335.7 334.2L387.1 367L424.1 391.3L424.3 391.5L416.3 389.7L410 388.9L404.1 388.7L398.4 389.2L393 390.5L388.8 392L383.9 394.7L379.2 398.2L374.8 402.6L371.4 406.8L367.3 412.9L364.2 418.5L361.2 424.7L358.3 431.7L355.5 439.4L351.2 452L335.1 456.2L319.7 460.5L302.9 465.5L283.1 471.7L243.1 485.1L217.8 494L196.5 501.9L185.5 506.2L176.4 510L168 514L163 516.8L158.6 519.7L155.1 522.8L152.8 525.5L151 528.7z" fill="#00dbff" stroke="#00dbff"/><path d="M153.2 553.6L153.7 554.7L160 550.9L165.2 548.3L170.5 545.9L176.1 543.8L182 542L186.5 541L195.8 539.4L202.4 538.8L207.4 538.6L212.6 538.6L219.7 539L225.2 539.5L232.8 540.5L246.6 543L259 546L274.3 550.4L290.4 555.7L309.8 562.6L340.9 574.5L427 609L474.6 627.5L485.4 627L512.3 625.3L539.5 622.7L564.3 619.5L589.2 615.4L611.8 610.8L632.4 605.7L642 603L652.9 599.6L661.5 596.6L671.2 593L680.4 589.2L687.5 585.9L695.6 581.9L701.9 578.5L708.9 574.2L715.3 569.8L721.1 565.2L725.5 561.3L729.5 557.4L733.6 552.4L736.6 548.2L739 543.9L741 539.5L742.4 534.9L743.2 530.2L743.3 525.3L743 521.3L742.1 517.2L740.9 513.6L739.2 509.7L737.3 506.4L734.7 502.4L732.3 499.4L728.6 495.3L725.1 491.9L721.6 488.9L717 485.3L712.1 481.9L707 478.7L701.7 475.6L695.9 472.6L688.7 469.1L676.9 464.2L664.8 459.7L652.3 455.7L639.6 452.2L626.8 449L611.7 445.9L596.5 443.1L576.2 440.1L566.4 438.4L554.3 436L541.4 433.1L525.6 429.1L511 424.8L495.6 419.7L481.7 414.6L464.8 407.7L448.3 400.3L431.1 391.9L415 383.3L400.7 375.1L386.3 366.4L332.6 332.3L320.7 325.3L310.9 320.1L300.5 315.4L295.3 313.4L290.3 311.8L285.3 310.6L280.3 309.7L275.4 309.3L270.6 309.3L265.8 309.8L262.7 310.4L258.7 311.5L254.1 313.3L249.9 315.4L246.7 317.4L242.6 320.4L238.1 324.4L233.6 329L230.2 332.9L226.8 337.3L223.4 342.2L220 347.6L216.5 353.5L209.3 367.2L203.3 380.2L199.2 390.1L193.8 403.7L189.5 415.3L179.8 443.4L159.5 504.9L150.5 530.3L149.9 532.7L149.5 535.6L149.5 538.6L149.7 541.8L151 547.8L151.9 550.6L153.2 553.6z" fill="#00dbff" stroke="#00dbff"/><path class="k" d="M474.6 627.5L499.2 626.2L521.7 624.5L545.2 622L566.9 619.1L589.2 615.4L609.7 611.3L628.4 606.7L645.7 601.8L661.5 596.6L669.6 593.6L677.4 590.5L684.7 587.3L691.6 583.9L698.2 580.5L704.3 577L710 573.5L715.3 569.8L720.2 566L724.7 562.1L728.7 558.2L731.6 554.9L734.9 550.8L737.6 546.5L739.9 542.1L741.3 538.6L742.6 534L743.2 530.2L743.4 526.3L743.1 522.4L742.4 518.3L741.1 514.1L739.4 510.2L737.3 506.4L734.7 502.4L731.3 498.2L727.8 494.5L723.6 490.6L718.6 486.5L713.8 483L707.8 479.2L701.7 475.6L695.9 472.6L688.7 469.1L682.9 466.6L674.9 463.4L666.8 460.4L658.6 457.7L650.2 455.1L641.8 452.7L633.2 450.6L622.5 448.1L603 444.3L582.9 441.1M351.2 452L331.2 457.2L310.3 463.3L290.2 469.4L262 478.7L226.2 491L198.1 501.3L180.9 508.1L173.5 511.3L168 514L164.2 516.1L160.7 518.2L158.6 519.7L155.9 522L154.3 523.6L152.5 526L151.4 527.8L150.6 529.8L149.9 532.7L149.5 535.6L149.5 538.6L149.7 541.8L150.4 545.5L151.3 548.9L152.4 551.8L153.7 554.7"/><path d="M152.3 525.5L152.2 525.7L161.2 499.9L179.8 443.4L189 416.7L197.9 393.2L203.3 380.2L207.5 371L212.9 360L218.2 350.5L223.4 342.2L229.1 334.3L233.6 329L236.9 325.5L240.3 322.3L243.4 319.7L246.7 317.4L249.9 315.4L253.1 313.7L256.3 312.3L259.5 311.2L265.8 309.8L272.1 309.2L277.9 309.5L284.5 310.4L290.6 311.9L297.9 314.4L305.7 317.6L311.7 320.5L318.9 324.3L326.7 328.8L335.7 334.2L387.1 367L424.1 391.3L424.3 391.5L416.3 389.7L410 388.9L404.1 388.7L399.5 389.1L394 390.2L389.9 391.6L384.9 394.1L380.1 397.4L375.6 401.6L372.2 405.7L368.1 411.6L364.9 417L361.9 423.1L359 429.9L356.2 437.3L351.8 449.7L337.6 453.3L322 457.5L306.9 461.9L286.9 468.1L269.2 473.9L241.6 483.2L199.9 498.2L188.8 502.5L178.1 506.9L169.7 510.9L164.6 513.6L160.1 516.5L156.4 519.6L153.9 522.6L152.3 525.5z" fill="#00e4ff" stroke="#00e4ff"/><path d="M156 551.8L156.6 552.9L162.5 549.6L167.8 547L173.3 544.8L179 542.9L188 540.6L197.5 539.2L207.4 538.6L212.6 538.6L219.7 539L230.9 540.2L244.6 542.6L256.9 545.5L272.1 549.7L288 554.9L307.3 561.7L340.9 574.5L420.6 606.4L458.8 621.4L480.7 620.5L507.2 618.7L531.2 616.3L555.8 613.1L568.4 611.1L580.5 609L602.9 604.3L623.2 599.1L641.5 593.5L650.1 590.6L659.7 586.9L667.3 583.7L675.8 579.8L682.4 576.4L689.9 572.2L695.6 568.7L700.9 565L705.8 561.2L711.1 556.6L715.1 552.6L718.5 548.5L722.1 543.4L724.5 539.1L726.3 534.6L727.6 530L728.2 526.2L728.4 521.4L728 517.7L727.3 514.3L726.1 510.6L724.6 506.9L722.8 503.5L720.6 500.1L717.8 496.5L714.6 492.9L711.7 490L707.4 486.2L702.9 482.7L698.2 479.4L693.2 476.2L688 473.2L677.1 467.7L667.6 463.5L655.8 459L643.7 454.9L631.4 451.3L618.8 448.1L604 444.9L591.3 442.5L563 437.8L550.7 435.3L537.5 432.2L523.6 428.5L508.9 424.1L493.3 418.9L479.4 413.7L462.7 406.8L447 399.7L431.1 391.9L415 383.3L400.7 375.1L386.3 366.4L332.6 332.3L320.7 325.3L310.9 320.1L300.5 315.4L295.3 313.4L290.3 311.8L285.3 310.6L280.3 309.7L275.4 309.3L270.6 309.3L265.8 309.8L261.1 310.8L256.4 312.3L253.1 313.7L249.4 315.7L244.8 318.7L240.3 322.3L236.9 325.5L233.5 329L229.1 334.3L222.5 343.5L216 354.3L211.8 362.3L207.5 371L203.3 380.2L197.9 393.2L189 416.7L179.8 443.4L161.2 499.9L151.6 527.4L151 529.8L150.8 532.7L150.9 535.6L151.3 539.2L152.1 542.4L153.1 545.8L154.6 549.2L156 551.8z" fill="#00e4ff" stroke="#00e4ff"/><path d="M153.4 522.3L153.3 522.6L161.2 499.9L179.8 443.4L189 416.7L193.8 403.7L199.2 390.1L203.3 380.2L209.3 367.2L213.9 358.2L220 347.6L224.7 340.2L230.2 332.9L235.8 326.6L240.3 322.3L243.4 319.7L246.7 317.4L249.9 315.4L253.1 313.7L256.3 312.3L259.5 311.2L265.8 309.8L272.1 309.2L277.9 309.5L284.5 310.4L290.6 311.9L297.9 314.4L305.7 317.6L311.7 320.5L318.9 324.3L326.7 328.8L335.7 334.2L387.1 367L424.1 391.3L424.3 391.5L416.3 389.7L410 388.9L404.1 388.7L399.5 389.1L394 390.2L389.9 391.6L384.9 394.1L381.1 396.7L376.5 400.7L373 404.6L368.9 410.3L365.7 415.5L362.6 421.5L359.7 428.1L356.8 435.3L352.5 447.3L338.1 450.9L322.4 455.1L303.5 460.6L285.4 466.3L265.9 472.6L238.3 482L203.3 494.5L192.1 498.8L181.3 503.2L174.1 506.5L167.4 509.8L162.6 512.7L158.6 515.7L155.5 518.9L154.4 520.6L153.4 522.3z" fill="#00edff" stroke="#00edff"/><path d="M158.9 549.9L159.7 551.1L165.2 548.3L170.5 545.9L176.1 543.8L182 542L191.1 540.1L199.1 539.1L209.1 538.6L219.7 539L230.9 540.2L242.6 542.2L254.8 545L269.9 549.1L285.7 554.1L304.8 560.8L322.4 567.4L340.9 574.5L443.4 615.4L458.8 615L476.6 614.2L502.7 612.3L526.3 609.8L550.4 606.5L572.4 602.7L592.4 598.4L612.6 593.2L630.8 587.6L639.2 584.6L648.8 580.9L656.2 577.7L663.3 574.5L671.1 570.4L677.2 566.9L682.9 563.3L689.2 558.8L693.9 555L698.2 551.1L702 547.1L705.3 543L708.2 538.7L710.5 534.4L712.3 529.9L713.3 526.2L714 521.5L714.1 517.6L713.6 513.6L713 510.5L711.6 506.3L710.2 503L708.3 499.7L706 496.2L703.2 492.7L700.5 489.7L697.1 486.4L693.8 483.5L689.4 480L684.7 476.8L679.8 473.6L674.7 470.7L664.1 465.3L654.8 461.2L645.2 457.5L635.3 454.1L623.3 450.4L611 447.2L598.7 444.3L586.2 441.8L557.8 436.8L545.1 434L533.6 431.2L519.5 427.3L504.5 422.7L490.8 418L477 412.8L462.3 406.7L447 399.7L430.9 391.8L414.7 383.1L400.7 375.1L386.3 366.4L332.6 332.3L321.6 325.8L311.7 320.5L305.7 317.6L300.5 315.4L295.3 313.4L290.3 311.8L285.3 310.6L280.3 309.7L275.4 309.3L270.6 309.3L265.8 309.8L261.1 310.8L256.4 312.3L253.1 313.7L249.4 315.7L244.8 318.7L240.3 322.3L236.9 325.5L233.5 329L229.1 334.3L222.5 343.5L216 354.3L211.8 362.3L207.5 371L203.3 380.2L197.9 393.2L189 416.7L179.8 443.4L161.2 499.9L152.6 524.5L152.1 527.4L152 530.2L152.2 533.2L153.1 537.2L154.1 540.4L155.4 543.7L157.2 547.1L158.9 549.9z" fill="#00edff" stroke="#00edff"/><path d="M154.3 519.9L154.2 520L162.9 494.9L181.2 439.3L189 416.7L193.8 403.7L199.2 390.1L203.3 380.2L209.3 367.2L213.9 358.2L220 347.6L224.7 340.2L230.2 332.9L235.8 326.6L240.3 322.3L243.4 319.7L246.7 317.4L249.9 315.4L253.1 313.7L256.3 312.3L259.5 311.2L265.8 309.8L272.1 309.2L277.9 309.5L284.5 310.4L290.6 311.9L297.9 314.4L305.7 317.6L311.7 320.5L318.9 324.3L326.7 328.8L335.7 334.2L387.1 367L424.1 391.3L424.3 391.5L416.3 389.7L410 388.9L404.1 388.7L399.5 389.1L394 390.2L389.9 391.6L384.9 394.1L381 396.7L376.5 400.7L373 404.6L369.6 409L366.4 414.1L363.4 419.9L360.4 426.3L357.4 433.4L353.1 445L338.6 448.5L320.8 453.3L305.7 457.6L287.4 463.2L262.6 471.3L245.3 477.1L219.9 486L198.6 493.9L187.6 498.2L178.6 502L172.9 504.7L166.5 508.1L162 511L158.3 514.1L155.9 516.8L154.3 519.9z" fill="#00f6ff" stroke="#00f6ff"/><path d="M162 548.1L163 549.3L167.8 547L171.9 545.3L180.5 542.4L186.5 541L191.1 540.1L200.7 538.9L209.1 538.6L219.7 539L229 539.9L240.6 541.8L252.7 544.4L267.7 548.4L283.4 553.3L302.4 559.9L319.9 566.4L340.9 574.5L428.5 609.5L451.9 609L476.5 607.7L501.8 605.7L524.7 603L545.6 600L567.1 596L586.6 591.7L596.7 589.1L606.3 586.4L615.4 583.6L624 580.6L632.2 577.6L639.9 574.5L647.1 571.2L654 567.9L660.4 564.5L666.3 560.9L671.9 557.3L677 553.6L681.6 549.7L685.8 545.8L689.5 541.8L692.1 538.5L694.9 534.2L697.2 529.8L698.6 526.3L699.8 521.7L700.4 517.9L700.4 513L699.9 509.3L699 505.8L697.9 502.7L696.4 499.4L694.5 496L692.2 492.6L687.2 486.8L684.4 484L680.7 480.7L676.3 477.3L672.2 474.4L663.6 469.1L653.3 463.7L644.2 459.6L634.9 455.9L625.2 452.5L613.5 448.9L603.5 446.2L591.4 443.3L581.2 441.1L563 437.8L552.5 435.7L541.4 433.1L529.7 430.2L515.3 426.1L502.3 422L488.8 417.2L474.6 411.8L459.8 405.6L443.8 398.2L428.4 390.5L411.9 381.5L397.9 373.4L383.6 364.7L332.6 332.3L321.6 325.8L311.7 320.5L305.7 317.6L300.5 315.4L295.3 313.4L290.3 311.8L285.3 310.6L280.3 309.7L275.4 309.3L270.6 309.3L265.8 309.8L261.1 310.8L256.3 312.3L251.7 314.4L247.1 317.1L243.4 319.7L240.1 322.4L235.8 326.6L231.3 331.5L226.9 337.2L220.4 346.9L216.5 353.5L212.9 360L205.6 375.1L201.2 385.1L197.1 395.2L193.1 405.7L187.1 422.2L179.3 445L161.2 499.9L153.7 521.6L153.2 524.5L153.2 527.3L153.6 530.2L154.5 534.2L156.1 538.4L157.7 541.7L159.8 545.1L162 548.1z" fill="#00f6ff" stroke="#00f6ff"/><path d="M155.4 516.8L155.4 516.9L162.9 494.9L181.2 439.3L189 416.7L193.8 403.7L199.2 390.1L203.3 380.2L209.3 367.2L213.9 358.2L220 347.6L224.7 340.2L230.2 332.9L235.8 326.6L240.3 322.3L243.4 319.7L246.7 317.4L249.9 315.4L253.1 313.7L256.3 312.3L259.5 311.2L265.8 309.8L272.1 309.2L277.9 309.5L284.5 310.4L290.6 311.9L297.9 314.4L305.7 317.6L311.7 320.5L318.9 324.3L326.7 328.8L335.7 334.2L387.1 367L424.1 391.3L424.3 391.5L417.6 390L411.3 389L405.2 388.7L400.6 388.9L395.1 389.9L390.9 391.2L385.8 393.5L382 396L377.3 399.8L373.8 403.5L370.4 407.8L367.2 412.8L364.1 418.4L361.1 424.6L358.1 431.5L353.8 442.6L339.1 446.1L321.2 450.8L304.2 455.8L285.9 461.4L268.1 467.1L242.1 475.8L203.6 489.6L190.9 494.5L180.3 499L174.6 501.6L168 505L163.4 507.8L159.6 510.9L157 514L155.4 516.8z" fill="#00ffff" stroke="#00ffff"/><path d="M165.4 546.4L166.5 547.6L174.7 544.3L183.4 541.7L192.7 539.8L200.7 538.9L209.1 538.6L217.9 538.9L227.1 539.7L238.6 541.4L250.7 544L265.5 547.8L281.1 552.6L297.5 558.2L314.8 564.5L335.5 572.4L413.8 603.7L430.3 603.6L445.7 603.1L473.5 601.6L495.3 599.7L518.1 597.1L538.8 594L560 590L579.2 585.6L589.2 582.9L598.6 580.2L614.3 575L622.3 571.9L630 568.7L637.1 565.5L643.8 562.1L650.1 558.7L655.9 555.1L661.3 551.4L666.2 547.7L670.7 543.8L673.9 540.6L676.8 537.4L680 533.2L682.2 529.8L684.4 525.4L686.1 520.9L686.9 517.2L687.4 513.4L687.3 509.5L686.9 505.9L686 502.5L684.9 499.2L683.5 496.1L681.8 493.2L679.9 490.2L677.1 486.6L674.5 483.7L671 480.4L668 477.8L660.5 472.1L651.3 466.4L641.1 461.1L634 457.9L624.9 454.2L615.5 450.9L605.9 447.8L596.1 445.1L584.3 442.1L574.4 440L548.8 434.9L537.5 432.2L525.6 429.1L512.3 425.2L497.9 420.5L484.6 415.7L472.1 410.8L457.2 404.4L441.7 397.2L426.8 389.6L411.9 381.5L397.9 373.4L383.6 364.7L332.6 332.3L320.7 325.3L310.9 320.1L303.1 316.5L297.9 314.4L292.8 312.6L287.8 311.2L282.8 310.1L277.9 309.5L273 309.2L269 309.4L263.4 310.2L259.5 311.2L254.1 313.3L249.9 315.4L246.7 317.4L242.6 320.4L238.1 324.4L233.6 329L230.2 332.9L226.8 337.3L222.5 343.5L218.2 350.5L211.8 362.3L207.5 371L203.3 380.2L195.1 400.4L187.1 422.2L179.8 443.4L164 491.7L154.7 519.2L154.3 522L154.4 524.8L155.2 528.7L156.3 532.2L158.3 536.4L160.2 539.7L162.5 543L165.4 546.4z" fill="#00ffff" stroke="#00ffff"/><path d="M156.2 514.5L162.9 494.9L181.2 439.3L189.5 415.3L193.8 403.7L199.2 390.1L203.3 380.2L209.3 367.2L213.9 358.2L220.4 346.9L226.8 337.3L231.3 331.5L236.9 325.5L242.6 320.4L247.1 317.1L249.9 315.4L254.1 313.3L259.5 311.2L265.8 309.8L272.1 309.2L277.9 309.5L284.5 310.4L290.6 311.9L297.9 314.4L305.7 317.6L311.7 320.5L318.9 324.3L326.7 328.8L335.7 334.2L387.1 367L424.1 391.3L424.3 391.5L417.6 390L411.3 389L405.2 388.7L400.6 388.9L395.1 389.9L390.9 391.2L385.8 393.5L381.9 396L378.2 399L374.7 402.5L371.2 406.7L368 411.5L364.8 416.9L361.8 422.9L358.8 429.7L354.5 440.3L339.7 443.7L323.6 447.9L306.4 452.8L289.7 457.8L273.6 462.9L250.8 470.5L227 478.7L205.4 486.5L194.2 490.8L183.5 495.2L176.2 498.5L169.6 501.9L164.9 504.7L161 507.7L158.1 511L157 512.7L156.2 514.5z" fill="#09fff6" stroke="#09fff6"/><path d="M168.9 544.7L170.3 546L177.6 543.3L186.5 541L194.2 539.6L202.4 538.8L209.1 538.6L217.9 538.9L227.1 539.7L236.7 541.1L248.6 543.5L263.3 547.2L278.8 551.8L295.1 557.3L312.3 563.5L332.9 571.4L399.4 597.9L416.6 597.9L436.3 597.5L454.3 596.7L470.9 595.6L492.3 593.6L514.6 590.9L534.8 587.6L553.3 584L572.3 579.5L589.5 574.6L605 569.4L619 563.8L626.2 560.5L632.9 557.1L637.9 554.4L643.7 550.8L649.1 547.1L654.1 543.4L658.5 539.5L661.8 536.3L664.7 533.1L667.9 528.9L670 525.5L672.2 521.1L673.5 517.5L674.4 513.8L674.9 510L674.9 506.1L674.5 503.1L673.9 500L672.8 496.9L671.5 493.6L669.6 490.3L667.6 487.1L665.5 484.5L662.3 480.8L659.7 478.2L655.8 474.8L648.7 469.4L640.9 464.6L631 459.3L624.1 456.1L615.4 452.6L607.8 449.8L598.5 446.7L589 443.9L579.3 441.4L569.6 439.2L544.8 434L533.6 431.2L521.5 427.9L508.9 424.1L495.6 419.7L481.7 414.6L469.7 409.8L454.7 403.3L441.7 397.2L426.8 389.6L411.2 381.1L397.9 373.4L383.6 364.7L332.6 332.3L320.7 325.3L310.9 320.1L303.1 316.5L297.9 314.4L292.8 312.6L287.8 311.2L282.8 310.1L277.9 309.5L273 309.2L269 309.4L263.4 310.2L259.5 311.2L254.1 313.3L249.9 315.4L246.7 317.4L242.6 320.4L238.1 324.4L233.6 329L230.2 332.9L226.8 337.3L222.5 343.5L218.2 350.5L213.9 358.2L209.6 366.6L205.6 375.1L201.8 383.7L193.8 403.7L185.1 427.9L155.7 516.4L155.4 519.6L155.8 522.9L156.8 526.7L158.2 530.2L160.5 534.4L162.7 537.7L165.9 541.5L168.9 544.7z" fill="#09fff6" stroke="#09fff6"/><path d="M157.7 510.3L157.4 511.2L164 491.7L179.8 443.4L189.5 415.3L193.8 403.7L199.2 390.1L205.4 375.5L209.6 366.6L216 354.3L220.4 346.9L226.8 337.3L231.3 331.5L236.9 325.5L242.6 320.4L247.1 317.1L249.9 315.4L254.1 313.3L259.5 311.2L265.8 309.8L272.1 309.2L277.9 309.5L284.5 310.4L290.6 311.9L297.9 314.4L305.7 317.6L311.7 320.5L318.9 324.3L326.7 328.8L335.7 334.2L387.1 367L424.1 391.3L424.3 391.5L417.6 390L411.3 389L405.2 388.7L400.6 388.9L396.2 389.6L391.9 390.8L386.8 393L382.9 395.3L379.1 398.1L375.5 401.6L372.1 405.6L368.7 410.2L365.5 415.4L362.5 421.3L359.4 427.9L355.2 437.9L338.2 441.9L324 445.5L308.6 449.8L291.8 454.8L270.3 461.6L249.3 468.6L213.8 481L189.7 490.2L180.8 494.1L172.5 498L166.4 501.6L162.4 504.6L159.7 507.2L157.7 510.3z" fill="#12ffed" stroke="#12ffed"/><path d="M172.8 543.1L174.4 544.4L182 542L191.1 540.1L200.7 538.9L210.9 538.6L219.7 539L229 539.9L238.6 541.4L250.7 544L261.2 546.6L274.3 550.4L285.7 554.1L299.9 559L314.8 564.5L332.9 571.4L385 592.2L407.4 592.4L427.4 592L449.1 591.1L468.8 589.7L489.7 587.6L511.5 584.7L531.2 581.4L549.2 577.7L565.7 573.6L582.6 568.6L597.8 563.3L611.5 557.6L623.6 551.6L629.7 548.1L634.2 545.2L638.5 542.2L643.3 538.4L646.9 535.3L650.9 531.4L654.3 527.3L656.7 523.9L658.8 520.5L660.4 516.9L661.7 513.3L662.6 509.6L662.9 505.8L662.8 501.9L662.4 498.8L661.7 495.7L660.5 492.5L659 489.3L657.5 486.5L655.4 483.6L652.6 480L650.3 477.5L644 471.8L637.2 466.7L629.3 461.8L620.4 457.1L612.8 453.6L605.8 450.7L598.6 448L589.4 444.9L582 442.7L572.6 440.2L539.4 432.7L527.7 429.6L517.4 426.7L504.5 422.7L491.1 418.1L479.4 413.7L467.2 408.8L452.9 402.5L439.1 395.9L422.9 387.6L409.1 380L396.7 372.7L382.9 364.3L332.7 332.4L321.6 325.8L311.7 320.5L305.7 317.6L299.7 315.1L293.6 312.9L287.8 311.2L282.8 310.1L277.9 309.5L273 309.2L269 309.4L263.4 310.2L258.7 311.5L254.1 313.3L249.4 315.7L244.8 318.7L240.1 322.4L235.8 326.6L231.3 331.5L226.9 337.2L223.4 342.2L220 347.6L216 354.3L211.8 362.3L207.5 371L203.3 380.2L199.2 390.1L193.1 405.7L184.9 428.3L177.4 450.7L156.7 513.5L156.5 516.7L157 520.4L158.1 523.8L159.9 527.7L162.8 532.4L165.8 536.2L169.4 540L172.8 543.1z" fill="#12ffed" stroke="#12ffed"/><path d="M158.5 508L158.4 508.3L179.8 443.4L189.5 415.3L193.8 403.7L199.2 390.1L205.4 375.5L209.6 366.6L216 354.3L220.4 346.9L226.8 337.3L231.3 331.5L236.9 325.5L242.6 320.4L247.1 317.1L249.9 315.4L254.1 313.3L259.5 311.2L265.8 309.8L272.1 309.2L277.9 309.5L284.5 310.4L290.6 311.9L297.9 314.4L305.7 317.6L311.7 320.5L318.9 324.3L326.7 328.8L335.7 334.2L387.1 367L424.1 391.3L424.3 391.5L417.6 390L412.5 389.1L407.6 388.7L404.1 388.7L399.5 389.1L396.2 389.6L393 390.5L388.8 392L383.8 394.6L379.1 398.1L374.6 402.5L371.2 406.6L367.9 411.4L363.9 418.3L360.1 426.1L356 435.6L340.8 439L326.5 442.6L308.9 447.4L290.3 452.9L254.7 464.4L234.1 471.4L209.1 480.4L199.4 484.1L186.9 489L178.2 492.9L171.5 496.3L166.8 499.2L162.9 502.2L160.3 504.9L158.5 508z" fill="#1affe5" stroke="#1affe5"/><path d="M176.9 541.5L178.9 542.9L186.5 541L195.8 539.4L205.7 538.7L214.4 538.7L221.6 539.1L230.9 540.2L240.6 541.8L250.7 544L261.2 546.6L272.1 549.7L283.4 553.3L297.5 558.2L327.6 569.4L370.8 586.5L394.4 586.9L419.1 586.7L444.4 585.6L467 583.9L487.5 581.7L506.1 579.1L523.3 576.1L541.2 572.4L557.6 568.3L574.4 563.3L587.8 558.5L601.4 552.8L613.5 546.8L623 541.1L628.2 537.4L632.1 534.4L636.5 530.5L639.7 527.3L643.1 523.2L645.5 519.8L647.5 516.4L649.2 512.9L650.4 509.2L651.2 505.5L651.5 502.6L651.4 498.7L651 495.7L650.3 492.6L648.2 487.2L646.8 484.5L644.9 481.6L642.2 478.1L639.9 475.5L633.9 469.8L627.1 464.6L619.6 459.9L610.1 454.8L603.5 451.7L594.9 448.1L586 444.9L577 442L562.3 438L543.2 433.6L531.3 430.6L519.5 427.3L506.7 423.4L486.4 416.4L474.6 411.8L464.8 407.7L449.6 400.9L436.4 394.6L422.9 387.6L409.1 380L396.7 372.7L382.9 364.3L332.7 332.4L321.6 325.8L311.7 320.5L305.7 317.6L299.7 315.1L293.6 312.9L287.8 311.2L282.8 310.1L277.9 309.5L273 309.2L269 309.4L263.4 310.2L258.7 311.5L254.1 313.3L249.4 315.7L244.8 318.7L240.1 322.4L235.8 326.6L231.3 331.5L226.9 337.2L222.5 343.5L218.2 350.5L213.9 358.2L209.6 366.6L205.6 375.1L201.2 385.1L197.1 395.2L191 411.1L183.1 433.5L158.1 508.9L157.6 511.1L157.6 514.3L158.3 518L159.8 521.8L161.9 525.7L165.2 530.4L168.5 534.1L172.5 538L176.9 541.5z" fill="#1affe5" stroke="#1affe5"/><path d="M159.6 504.8L159.3 505.5L179.8 443.4L189.5 415.3L193.8 403.7L199.2 390.1L205.4 375.5L209.6 366.6L216 354.3L220.4 346.9L226.8 337.3L231.3 331.5L236.9 325.5L242.6 320.4L247.1 317.1L249.9 315.4L254.1 313.3L259.5 311.2L265.8 309.8L272.1 309.2L277.9 309.5L284.5 310.4L290.6 311.9L297.9 314.4L305.7 317.6L311.7 320.5L318.9 324.3L326.7 328.8L335.7 334.2L387.1 367L424.1 391.3L424.3 391.5L417.6 390L412.5 389.1L407.6 388.7L404.1 388.7L399.5 389.1L396.2 389.6L393 390.5L388.8 392L383.8 394.6L380 397.3L375.5 401.5L372 405.5L368.7 410.1L364.7 416.8L360.8 424.4L356.8 433.3L343.5 436.1L326.9 440.2L311.2 444.4L298 448.3L279.7 453.9L261.9 459.6L236 468.4L215.8 475.5L204.4 479.8L190.2 485.3L181.2 489.2L175.7 491.8L169.4 495.3L165.2 498.2L161.8 501.4L160.6 503.1L159.6 504.8z" fill="#23ffdc" stroke="#23ffdc"/><path d="M181.6 540.1L183.9 541.6L192.7 539.8L200.7 538.9L209.1 538.6L217.9 538.9L225.2 539.5L232.8 540.5L240.6 541.8L250.7 544L259 546L269.9 549.1L281.1 552.6L292.7 556.5L319.9 566.4L356.4 580.7L370.5 581.2L383.8 581.5L398.1 581.6L411.2 581.4L426.2 580.9L440.2 580.2L465.5 578.1L485.5 575.8L503.7 573.1L520.4 570L537.8 566.2L553.8 562L568.2 557.4L581.4 552.6L588.9 549.4L594.6 546.8L605.1 541.4L614.3 535.6L618.4 532.7L623.1 528.9L626.5 525.7L629.6 522.5L632.3 519.2L634.7 515.9L636.7 512.4L638.3 508.9L639.5 505.2L640.2 501.5L640.5 497.6L640.3 494.7L639.9 491.6L639 488.5L636.8 483.1L634.8 479.8L633.2 477.4L629.2 472.6L623.8 467.5L617.5 462.5L609.5 457.4L601 452.8L594.5 449.7L586.1 446.2L579.1 443.6L570.3 440.7L555.9 436.6L537.5 432.2L525.6 429.1L513.2 425.5L502.3 422L491.1 418.1L481.7 414.6L462.7 406.8L448.3 400.3L435.1 393.9L420.2 386.1L407.5 379L395 371.7L382.9 364.3L332.6 332.3L320.7 325.3L310.9 320.1L303.1 316.5L297.9 314.4L292.8 312.6L287.8 311.2L282.8 310.1L277.9 309.5L273 309.2L268.2 309.5L262.7 310.4L259.5 311.2L256.4 312.3L251.7 314.4L247.1 317.1L242.6 320.4L238.1 324.4L233.6 329L229.1 334.3L224.7 340.2L220.4 346.9L216 354.3L211.8 362.3L207.5 371L201.8 383.7L197.1 395.2L193.1 405.7L187.1 422.2L179.8 443.4L159 506.4L158.6 508.7L158.7 511.9L159.8 516L161.8 520.3L164.4 524.2L168.2 528.9L171.9 532.6L176.5 536.4L181.6 540.1z" fill="#23ffdc" stroke="#23ffdc"/><path d="M160.4 502.5L160.3 502.6L179.8 443.4L189.5 415.3L193.8 403.7L199.2 390.1L205.4 375.5L209.6 366.6L216 354.3L220.4 346.9L226.8 337.3L231.3 331.5L236.9 325.5L242.6 320.4L247.1 317.1L249.9 315.4L254.1 313.3L259.5 311.2L265.8 309.8L272.1 309.2L277.9 309.5L284.5 310.4L290.6 311.9L297.9 314.4L305.7 317.6L311.7 320.5L318.9 324.3L326.7 328.8L335.7 334.2L387.1 367L424.1 391.3L424.3 391.5L417.6 390L412.5 389.1L407.6 388.7L404.1 388.7L399.5 389.1L396.2 389.6L391.9 390.8L388.8 392L383.8 394.6L380 397.3L375.4 401.5L372 405.5L368.6 410.1L364.6 416.7L361.5 422.7L357.6 431L344.2 433.8L327.4 437.8L313.5 441.5L294.6 446.9L276.3 452.6L258.6 458.3L243 463.6L217.6 472.5L201.3 478.5L191.9 482.3L182.9 486.1L174.7 490.1L168.7 493.6L164.7 496.6L161.9 499.7L160.4 502.5z" fill="#2cffd3" stroke="#2cffd3"/><path d="M186.7 538.7L189.5 540.3L197.5 539.2L205.7 538.7L212.6 538.6L221.6 539.1L227.1 539.7L234.7 540.8L242.6 542.2L250.7 544L267.7 548.4L288 554.9L312.3 563.5L341.7 574.9L356.1 575.6L372.9 576.2L387.1 576.4L403.7 576.2L418.9 575.8L433 575L446.1 574.1L461.4 572.7L478.4 570.7L496.6 568L513.2 564.9L530.6 561L546.4 556.8L560.7 552.3L573.7 547.4L585.3 542.2L595.7 536.8L604.8 531L608.9 528L612.7 525L616.1 521.8L619.2 518.6L621.9 515.3L624.3 512L626.3 508.5L627.9 505L628.8 502.3L629.6 498.5L629.9 494.7L629.8 491.7L629.4 488.7L628.6 485.6L627.7 483L626.4 480.2L623.1 474.9L619.2 470L614.6 465.6L608.2 460.4L601.1 455.8L592.1 450.8L580.8 445.6L574.1 443L567.3 440.5L554.9 436.7L525.6 429.1L506.7 423.4L495.6 419.7L484.6 415.7L473.2 411.2L462.3 406.7L448.3 400.3L435.1 393.9L420.2 386.1L407.5 379L395 371.7L382.9 364.3L332.6 332.3L320.7 325.3L310.9 320.1L303.1 316.5L297.9 314.4L292.8 312.6L287.8 311.2L282.8 310.1L277.9 309.5L273 309.2L268.2 309.5L262.7 310.4L259.5 311.2L256.4 312.3L251.7 314.4L246.7 317.4L242.6 320.4L236.9 325.5L231.3 331.5L226.8 337.3L222.5 343.5L216.5 353.5L211.8 362.3L207.5 371L203.3 380.2L197.9 393.2L193.1 405.7L187.1 422.2L179.3 445L160 503.4L159.7 504.9L159.6 506.7L159.7 508.5L160.1 510.8L161.8 514.9L164.3 519.2L167.4 523.2L170.8 526.8L175.6 531.1L180.7 534.9L186.7 538.7z" fill="#2cffd3" stroke="#2cffd3"/><path d="M161.5 499.2L161.3 499.8L181.2 439.3L191 411.1L197.1 395.2L201.8 383.7L207.5 371L211.8 362.3L216.5 353.5L222.5 343.5L226.9 337.2L230.2 332.9L233.5 329L236.9 325.5L240.1 322.4L244.8 318.7L249.9 315.4L253.1 313.7L256.3 312.3L259.5 311.2L262.7 310.4L268.2 309.5L272.1 309.2L275.2 309.3L280.3 309.7L287.5 311.1L293.6 312.9L300.5 315.4L308.3 318.8L314.7 322.1L321.6 325.8L338.1 335.7L387.1 367L424.1 391.3L424.3 391.5L418.9 390.2L413.8 389.3L408.8 388.8L405.2 388.7L400.6 388.9L397.3 389.4L392.9 390.5L389.8 391.5L384.7 394L380.9 396.6L376.3 400.5L372.8 404.4L369.4 408.8L366.1 413.9L363 419.6L358.4 428.7L347.1 431L332.1 434.4L315.9 438.5L298.6 443.4L280.2 449L264.1 454.1L241.5 461.7L224 467.8L206.3 474.2L195.2 478.5L184.6 483L176.3 487L170.2 490.5L166.1 493.5L163.3 496.3L161.5 499.2z" fill="#35ffca" stroke="#35ffca"/><path d="M192.7 537.6L196.2 539.4L204 538.7L210.9 538.6L217.9 538.9L225.2 539.5L236.7 541.1L250.7 544L265.5 547.8L283.4 553.3L302.4 559.9L326.4 568.9L342.5 570L360.9 570.9L379.8 571.2L396.6 571.1L412 570.7L429.5 569.8L445.6 568.6L463.4 566.7L479.7 564.6L497.1 561.7L513.1 558.5L527.7 555L541.2 551.2L555.2 546.5L567.8 541.6L579.1 536.3L589.1 530.8L597.8 525L604.4 519.6L607.7 516.5L610.6 513.2L613.1 509.9L615.3 506.5L616.7 503.8L618.1 500.3L619.1 496.6L619.6 493.8L619.7 490.9L619.6 487.9L618.6 482.8L617.4 479.6L616.4 477.4L614.6 474.1L613 471.8L609 466.9L603.6 461.8L597.8 457.3L590.9 452.8L583.4 448.7L572.4 443.6L560.8 439.1L548.8 435.3L521.5 427.9L502.3 422L491.1 418.1L481.7 414.6L469.7 409.8L459.8 405.6L447 399.7L433.8 393.2L420.2 386.1L407.5 379L395 371.7L382.9 364.3L332.7 332.4L321.6 325.8L311.7 320.5L305.7 317.6L299.7 315.1L293.6 312.9L287.8 311.2L282.8 310.1L277.9 309.5L273 309.2L268.2 309.5L262.7 310.4L259.5 311.2L256.3 312.3L253.1 313.7L249.9 315.4L244.8 318.7L240.1 322.4L236.9 325.5L233.5 329L230.2 332.9L226.9 337.2L222.5 343.5L216.5 353.5L211.8 362.3L205.6 375.1L201.2 385.1L195.1 400.4L189.5 415.3L183.1 433.5L177.4 450.7L161 500.7L160.5 503.4L160.8 506.1L161.9 509.7L164 513.9L166.8 517.7L170.8 522.2L175.4 526.4L181 530.6L186 533.8L192.7 537.6z" fill="#35ffca" stroke="#35ffca"/><path class="k" d="M326.4 568.9L346.3 570.2L365.9 571L384.2 571.2L404.5 571L426.2 570L445.6 568.6L463.4 566.7L482.3 564.2L499.5 561.3L517.4 557.5L531.7 553.9L546.6 549.5L560.1 544.7L572.2 539.7L577.8 537L583 534.3L588 531.5L592.5 528.7L596.8 525.7L600.8 522.7L604.4 519.6L608.4 515.6L611.2 512.4L613.7 509L615.8 505.6L617.5 502.1L618.7 498.4L619.3 495.7L619.7 492.8L619.7 488.9L619.2 485.2L618.2 481.7L617 478.5L615.2 475.2L613 471.8L610.8 469L607.8 465.7L604.2 462.3L600.4 459.3L596.3 456.2L591.6 453.2L586.5 450.3L581.9 447.9L575.6 445L564.2 440.3L557.4 438L550.6 435.8L543.6 433.8L535.8 431.8M358.4 428.7L347.1 431L336.3 433.4L325.9 435.9L312 439.6L287.5 446.7L273 451.3L255.3 457L224 467.8L206.3 474.2L195.2 478.5L184.6 483L179 485.6L172.5 489L169.1 491.2L166.1 493.5L163.7 495.8L161.9 498.4L160.9 501.1L160.5 503.4L160.9 506.6L161.9 509.7L163.5 512.9L165.6 516.3L168.4 519.7L171.4 522.7L175.4 526.4L180.3 530L185.1 533.3L190.7 536.5L196.2 539.4"/><path d="M162.2 496.9L181.2 439.3L191 411.1L197.1 395.2L201.8 383.7L207.5 371L211.8 362.3L216.5 353.5L222.5 343.5L226.9 337.2L230.2 332.9L233.5 329L236.9 325.5L240.1 322.4L244.8 318.7L249.9 315.4L253.1 313.7L256.3 312.3L259.5 311.2L262.7 310.4L268.2 309.5L272.1 309.2L275.2 309.3L280.3 309.7L287.5 311.1L293.6 312.9L300.5 315.4L308.3 318.8L314.7 322.1L321.6 325.8L338.7 336.1L388.8 368.1L424.1 391.3L424.3 391.5L418.9 390.2L413.8 389.3L408.8 388.8L405.2 388.7L400.6 388.9L397.3 389.4L392.9 390.4L389.8 391.5L384.7 394L380.9 396.5L377.2 399.7L373.6 403.3L370.2 407.6L366.9 412.5L363.7 418L359.3 426.4L347.8 428.6L332.6 432L316.3 436.1L300.8 440.4L284.1 445.4L262.5 452.2L246.8 457.5L223 465.7L209.8 470.6L197 475.5L186.3 479.9L177.9 483.9L171.7 487.3L167.5 490.3L164.3 493.5L163.1 495.2L162.2 496.9z" fill="#3effc1" stroke="#3effc1"/><path d="M199.8 536.7L204.4 538.7L214.4 538.7L225.2 539.5L236.7 541.1L248.6 543.5L261.2 546.6L276.6 551.1L292.7 556.5L309.9 562.6L316.1 563.3L333.2 564.6L353.6 565.7L372.9 566.2L390 566.2L409.1 565.6L426.5 564.7L445.4 563.1L462.6 561.1L478.4 558.9L495.4 555.9L510.8 552.5L525 548.9L538 545L549.9 540.9L560.7 536.5L571.8 531.2L581.6 525.6L589.1 520.5L592.9 517.4L596.4 514.3L598.7 511.9L601.6 508.7L603.5 506.2L605.6 502.7L607 500.1L608.4 496.5L609.2 493.8L609.8 490L609.9 487.1L609.7 484.1L608.6 479L606.7 474.2L603.5 469.1L599.6 464.3L594.2 459.1L589 455L582.2 450.5L573.5 445.8L562.6 440.8L549.5 436L539.4 432.8L515.3 426.1L504.5 422.7L493.3 418.9L477 412.8L459.8 405.6L447 399.7L433.8 393.2L420.2 386.1L407.5 379L395 371.7L382.9 364.3L332.6 332.3L320.7 325.3L310.9 320.1L303.1 316.5L297.9 314.4L290.6 311.9L285.3 310.6L280.3 309.7L275.2 309.3L270.6 309.3L265.8 309.8L259.5 311.2L256.3 312.3L253.1 313.7L249.9 315.4L246.7 317.4L243.4 319.7L240.1 322.4L236.9 325.5L233.5 329L230.2 332.9L226.9 337.2L222.5 343.5L216 354.3L211.8 362.3L205.4 375.5L199.2 390.1L193.1 405.7L187.1 422.2L181.2 439.3L161.9 497.8L161.5 500.1L161.6 502.4L162.3 505L163.2 507.3L164.4 509.6L165.9 511.9L167.7 514.3L170.8 517.7L175.8 522.2L182.9 527.4L190.8 532.2L199.8 536.7z" fill="#3effc1" stroke="#3effc1"/><path d="M163.3 493.7L163.2 494.1L181.2 439.3L191 411.1L197.1 395.2L201.8 383.7L207.5 371L211.8 362.3L216.5 353.5L222.5 343.5L226.9 337.2L230.2 332.9L233.5 329L236.9 325.5L240.1 322.4L244.8 318.7L249.9 315.4L253.1 313.7L256.3 312.3L259.5 311.2L262.7 310.4L268.2 309.5L272.1 309.2L275.2 309.3L280.3 309.7L287.5 311.1L293.6 312.9L300.5 315.4L308.3 318.8L314.7 322.1L321.6 325.8L338.7 336.1L388.8 368.1L424.1 391.3L424.3 391.5L418.9 390.2L413.8 389.3L408.8 388.8L405.2 388.7L400.6 388.9L397.3 389.4L392.9 390.4L389.7 391.5L385.7 393.4L381.8 395.8L378 398.8L374.4 402.3L371 406.5L367.6 411.2L364.4 416.5L360.3 424.1L346.3 426.8L331.1 430.2L314.8 434.3L301.2 438L286.2 442.4L266.3 448.7L245.3 455.6L226.5 462.1L200.3 471.8L188.1 476.8L179.5 480.7L173.2 484.2L168.9 487.1L165.5 490.3L164.3 491.9L163.3 493.7z" fill="#47ffb8" stroke="#47ffb8"/><path d="M208.9 536.3L215.5 538.7L223.4 539.3L232.8 540.5L242.6 542.2L252.7 544.4L269.9 549.1L290.8 555.8L308 557.9L327.7 559.6L346 560.6L362.1 561.2L379.5 561.3L399.3 560.9L417.1 560L433.3 558.8L448.2 557.3L464.6 555.2L479.8 552.8L496 549.6L508.8 546.6L522.5 542.9L535 538.9L546.4 534.7L556.8 530.2L566.1 525.5L574.4 520.5L581.6 515.3L587.8 509.9L590.9 506.7L592.9 504.2L594.7 501.7L596.8 498.2L598 495.6L599.4 492L600 489.2L600.4 486.4L600.5 483.5L600.3 480.5L599.9 478.4L599 475.3L596.9 470.5L593.8 465.5L589.9 461L585.3 456.6L579.3 451.9L572.6 447.6L565.4 443.6L554.7 438.7L543.5 434.5L533.5 431.3L519.5 427.3L508.9 424.1L497.4 420.3L484.6 415.7L473.2 411.2L462.7 406.8L452.1 402.1L441.7 397.2L422.8 387.5L403.5 376.7L380.8 363L343.7 339.2L329.8 330.6L316.2 322.9L305.7 317.6L300.5 315.4L295.3 313.4L290.3 311.8L284.5 310.4L280.3 309.7L275.2 309.3L270.6 309.3L265.8 309.8L259.5 311.2L256.3 312.3L253.1 313.7L249.9 315.4L246.7 317.4L243.4 319.7L240.1 322.4L236.9 325.5L233.5 329L230.2 332.9L226.9 337.2L222.5 343.5L216 354.3L211.8 362.3L205.4 375.5L199.2 390.1L193.1 405.7L187.1 422.2L181.2 439.3L162.7 495.5L162.5 497.7L162.7 499.9L163.3 502.2L164.7 505.3L166.1 507.6L168.6 510.8L171.2 513.7L173.8 516.2L176.8 518.7L180.8 521.7L188.1 526.4L198.1 531.6L208.9 536.3z" fill="#47ffb8" stroke="#47ffb8"/><path d="M164.5 490.2L181.2 439.3L187.1 422.2L193.1 405.7L197.9 393.2L203.3 380.2L207.5 371L212.9 360L218.2 350.5L223.4 342.2L229.1 334.3L233.6 329L236.9 325.5L240.1 322.4L244.8 318.7L249.9 315.4L253.1 313.7L256.4 312.3L259.5 311.2L262.7 310.4L268.2 309.5L272.1 309.2L275.2 309.3L280.3 309.7L287.5 311.1L293.6 312.9L300.5 315.4L308.3 318.8L314.7 322.1L321.6 325.8L338.7 336.1L388.8 368.1L424.1 391.3L424.3 391.5L418.9 390.2L413.8 389.3L408.8 388.8L405.2 388.7L401.7 388.8L397.2 389.4L392.9 390.4L389.7 391.5L385.7 393.4L381.8 395.8L378 398.8L374.4 402.3L371.8 405.3L368.4 409.9L365.1 415L361.3 421.8L347 424.4L333.8 427.3L319.2 430.8L307.3 434L290.2 438.9L271.9 444.5L254.2 450.2L235.2 456.7L205.3 467.5L191.3 473.1L184 476.3L177.2 479.7L171.4 483.2L169.2 484.9L166.8 487.1L165.1 489.3L164.1 491.2L164.5 490.2z" fill="#50ffaf" stroke="#50ffaf"/><path d="M222.4 536.8L237.8 541.3L248.6 543.5L260.8 546.5L275.5 549.1L291.5 551.4L306.2 553.1L322.3 554.6L340 555.7L355.6 556.3L373.5 556.4L389.7 556.2L404.4 555.6L421.2 554.6L436.6 553.2L450.9 551.5L466.6 549.2L481.1 546.7L494.4 543.8L508.8 540.2L520 536.9L530.4 533.4L541.5 529.1L551.6 524.6L560.5 519.8L568.5 514.7L575.3 509.4L581.1 503.9L585.1 498.9L587.3 495.5L588.6 492.9L589.7 490.2L590.6 487.5L591.1 484.7L591.4 481.8L591.1 476.9L589.9 472.1L587.8 467.3L584.9 462.8L580.8 457.9L576 453.4L571.1 449.6L564.5 445.3L557.5 441.4L548.5 437.2L537.6 433L529.5 430.3L504.5 422.7L493.3 418.9L481.7 414.6L469.7 409.8L459.8 405.6L449.6 400.9L439.4 396L420.2 386.1L400.7 375.1L379.6 362.2L343.7 339.2L329.8 330.6L316.2 322.9L305.7 317.6L300.5 315.4L295.3 313.4L290.3 311.8L284.5 310.4L280.3 309.7L275.2 309.3L270.6 309.3L265.8 309.8L259.5 311.2L256.3 312.3L253.1 313.7L249.9 315.4L246.7 317.4L243.4 319.7L240.1 322.4L236.9 325.5L233.5 329L230.2 332.9L226.9 337.2L222.5 343.5L216 354.3L211.8 362.3L205.4 375.5L199.2 390.1L193.8 403.7L187.1 422.2L181.2 439.3L163.6 493.1L163.5 495.8L164 498.4L165.1 501.1L166.9 504.2L169 506.9L172.1 510.2L175.2 513.1L179.6 516.6L187.3 521.7L192.8 524.7L198 527.3L203.7 529.9L210 532.5L222.4 536.8z" fill="#50ffaf" stroke="#50ffaf"/><path d="M165.2 488.1L165 488.4L181.2 439.3L187.1 422.2L193.1 405.7L197.9 393.2L203.3 380.2L207.5 371L212.9 360L218.2 350.5L223.4 342.2L229.1 334.3L233.6 329L236.9 325.5L240.1 322.4L244.8 318.7L249.9 315.4L253.1 313.7L256.4 312.3L259.5 311.2L262.7 310.4L268.2 309.5L272.1 309.2L275.2 309.3L280.3 309.7L287.5 311.1L293.6 312.9L300.5 315.4L308.3 318.8L314.7 322.1L321.6 325.8L338.7 336.1L388.8 368.1L424.1 391.3L424.3 391.5L418.9 390.2L415 389.5L410 388.9L406.4 388.7L402.9 388.7L398.3 389.2L393.9 390.1L390.7 391.1L386.6 392.8L382.7 395.1L378.9 397.9L376.1 400.4L372.6 404.2L369.2 408.6L365.8 413.6L362.3 419.5L347.8 422.1L334.4 424.9L319.7 428.4L305.8 432.1L286.8 437.6L268.6 443.2L249.2 449.5L232 455.4L215.3 461.4L200.7 466.9L193 470L182.8 474.5L176.3 477.9L170.8 481.6L167.4 484.7L166.1 486.4L165.2 488.1z" fill="#58ffa7" stroke="#58ffa7"/><path d="M232.3 535.6L245.3 538.9L257.7 541.6L271.6 544.2L284.3 546.1L298.3 547.9L313.6 549.4L330.5 550.6L345.3 551.3L361.5 551.7L376.2 551.6L391.8 551.2L409.3 550.3L425.3 549.1L439.9 547.5L453.5 545.7L468.5 543.3L482.3 540.5L495 537.6L506.8 534.4L517.7 531L527.7 527.4L538.3 522.9L546.5 519L555.1 514.1L562.7 508.9L568.3 504.4L573.1 499.6L576.9 494.6L578.5 492L579.9 489.4L581 486.7L581.8 484L582.4 481.2L582.6 478.3L582.3 473.3L581.8 471L580.9 468.2L578.8 463.8L575.7 459.2L572.2 455.1L567.1 450.4L561.9 446.4L556.7 443.1L549.8 439.2L541 435.1L531.8 431.4L523.9 428.7L500.1 421.2L488.8 417.2L477 412.8L457.2 404.4L447 399.7L436.4 394.6L418.9 385.4L400.7 375.1L379.6 362.2L343.7 339.2L329.8 330.6L316.2 322.9L305.7 317.6L300.5 315.4L295.3 313.4L290.3 311.8L284.5 310.4L280.3 309.7L275.2 309.3L270.6 309.3L265.8 309.8L259.5 311.2L256.3 312.3L253.1 313.7L249.9 315.4L246.7 317.4L243.4 319.7L240.1 322.4L236.9 325.5L233.5 329L230.2 332.9L226.9 337.2L222.5 343.5L216 354.3L211.8 362.3L205.4 375.5L199.2 390.1L193.8 403.7L187.1 422.2L181.2 439.3L164.5 490.3L164.4 492.9L165 495.6L166.4 498.6L168.7 502.2L172 505.9L175 508.7L179.1 512.1L183.3 515L188.2 518L192.7 520.5L198.9 523.6L204.6 526.1L210.9 528.7L217.9 531.2L232.3 535.6z" fill="#58ffa7" stroke="#58ffa7"/><path d="M166 485.5L183.1 433.5L193.1 405.7L197.9 393.2L203.3 380.2L207.5 371L212.9 360L218.2 350.5L223.4 342.2L229.1 334.3L233.6 329L236.9 325.5L240.1 322.4L244.8 318.7L249.9 315.4L253.1 313.7L256.4 312.3L259.5 311.2L262.7 310.4L268.2 309.5L272.1 309.2L275.2 309.3L280.3 309.7L287.5 311.1L293.6 312.9L300.5 315.4L308.3 318.8L314.7 322.1L321.6 325.8L338.7 336.1L388.8 368.1L424.1 391.3L424.3 391.5L418.9 390.2L415 389.5L410 388.9L406.4 388.7L402.9 388.7L398.3 389.2L393.9 390.1L390.7 391L386.6 392.8L382.6 395.1L378.8 397.9L376.1 400.4L373.4 403.2L370 407.4L366.6 412.2L363.4 417.3L348.6 419.8L335 422.6L322.3 425.5L308.1 429.2L294.6 432.9L277.9 437.9L256.4 444.8L239 450.6L222.1 456.5L205.7 462.6L194.8 466.9L184.5 471.4L177.9 474.8L172.2 478.4L170.3 479.9L168.2 482.1L167 483.6L166 485.5z" fill="#61ff9e" stroke="#61ff9e"/><path d="M227.1 530L238.5 533.1L250.1 535.8L263.1 538.4L277.5 540.8L293.6 543L308.4 544.5L324.7 545.8L338.8 546.5L354.7 546.9L371 547L386.6 546.6L400.8 545.9L413.9 545L429.1 543.5L443 541.8L458.4 539.4L472.5 536.8L485.5 533.9L497.5 530.7L508.5 527.4L518.6 523.8L529.4 519.4L539.1 514.8L546.5 510.6L553.1 506.2L558.9 501.7L561.5 499.3L564.6 496.1L568.5 491.2L571.5 486L572.6 483.3L573.4 480.6L573.9 477.7L574.1 474.9L574 471.9L573.7 469.9L572.6 465.7L570.7 461.4L567.8 456.8L564.2 452.6L559.4 448.1L554.2 444.1L549 440.7L542.2 436.9L535.1 433.5L525.9 429.7L518.4 427.1L495.6 419.7L484.6 415.7L474.6 411.8L454.7 403.3L435.1 393.9L417.5 384.6L400.2 374.8L379.6 362.2L343.7 339.2L329.8 330.6L316.2 322.9L305.7 317.6L300.5 315.4L295.3 313.4L290.3 311.8L284.5 310.4L280.3 309.7L275.2 309.3L270.6 309.3L265.8 309.8L259.5 311.2L256.3 312.3L253.1 313.7L249.9 315.4L246.7 317.4L243.4 319.7L240.1 322.4L236.9 325.5L233.6 329L229.1 334.3L222.5 343.5L216.5 353.5L211.8 362.3L205.4 375.5L199.2 390.1L193.8 403.7L187.1 422.2L181.2 439.3L165.5 487.4L165.4 489.6L165.9 492.3L167.2 495.3L168.8 497.9L171.4 501.1L174.2 503.9L178.6 507.6L182.7 510.5L190.7 515.4L196.5 518.4L201.9 520.9L213.1 525.4L227.1 530z" fill="#61ff9e" stroke="#61ff9e"/><path d="M167 482.6L166.9 482.7L183.1 433.5L193.1 405.7L197.9 393.2L203.3 380.2L209.3 367.2L213.9 358.2L220 347.6L224.7 340.2L230.2 332.9L235.8 326.6L240.3 322.3L243.4 319.7L247.1 317.1L253.1 313.7L258.7 311.5L263.4 310.2L269 309.4L275.2 309.3L281.4 309.9L287.5 311.1L293.6 312.9L300.5 315.4L308.7 319L314.7 322.1L321.6 325.8L338.7 336.1L388.8 368.1L424.1 391.3L424.3 391.5L418.9 390.2L415 389.5L410 388.9L406.4 388.7L401.7 388.8L398.3 389.2L393.9 390L390.7 391L386.6 392.8L383.6 394.4L379.7 397.1L377 399.5L374.2 402.1L370.7 406.2L368.2 409.7L364.5 415L351.9 417.1L337.9 419.8L322.8 423.2L308.6 426.8L293.1 431.1L276.3 436L260.1 441.2L237.5 448.7L207.5 459.5L193.5 465.1L184.8 469L177 473.1L172.6 476L169.2 479.2L167.9 480.8L167 482.6z" fill="#6fff90" stroke="#6fff90"/><path d="M243.4 530.2L255.1 532.7L268.6 535.2L280.9 537.1L294.5 538.8L309.4 540.3L322.4 541.2L338.7 542L353.1 542.4L366.1 542.4L381.7 542L396 541.3L409.1 540.4L424.2 539L438.1 537.2L451 535.3L462.9 533.1L474 530.7L486.4 527.7L497.8 524.4L508.2 520.9L517.8 517.2L526.5 513.3L534.4 509.3L541.5 505L547.8 500.6L553.2 495.9L557.8 491.1L561.4 486.1L562.9 483.5L564.1 480.8L565.4 476.2L565.9 471.5L565.9 469.5L565.5 466.5L564.3 462.3L562.3 458L559.2 453.4L556.1 449.7L552 445.9L546.7 441.7L541.6 438.4L534.9 434.6L527.9 431.2L519.2 427.7L491.1 418.1L472.1 410.8L452.9 402.5L433.8 393.2L417.5 384.6L400.2 374.8L379.6 362.2L343.7 339.2L329.8 330.6L316.2 322.9L305.7 317.6L299.7 315.1L293.6 312.9L287.8 311.2L282.8 310.1L277.9 309.5L273 309.2L268.2 309.5L263.4 310.2L259.5 311.2L256.4 312.3L253.1 313.7L249.9 315.4L246.7 317.4L243.4 319.7L238.1 324.4L233.6 329L231.3 331.5L226.9 337.2L222.5 343.5L216 354.3L211.8 362.3L205.4 375.5L199.2 390.1L193.8 403.7L187.1 422.2L181.2 439.3L166.7 483.5L166.3 485.5L166.5 488.1L167.5 491.1L169.3 494.2L172.2 497.7L175.4 500.9L179.4 504.2L184.1 507.5L188.9 510.4L193.4 512.8L199.4 515.7L205 518.2L212.6 521.1L219.6 523.6L227.3 525.9L243.4 530.2z" fill="#6fff90" stroke="#6fff90"/><path d="M168.8 477L168.6 477.4L183.1 433.5L189 416.7L193.8 403.7L199.2 390.1L203.3 380.2L209.3 367.2L213.9 358.2L220 347.6L224.7 340.2L230.2 332.9L235.8 326.6L240.3 322.3L243.4 319.7L247.1 317.1L253.1 313.7L258.7 311.5L263.4 310.2L269 309.4L275.2 309.3L281.4 309.9L287.5 311.1L293.6 312.9L300.5 315.4L308.7 319L314.7 322.1L321.6 325.8L338.7 336.1L388.8 368.1L424.1 391.3L424.3 391.5L418.9 390.2L415 389.5L410 388.9L406.4 388.7L401.7 388.8L398.2 389.1L394.9 389.7L391.7 390.6L387.5 392.2L384.5 393.8L381.5 395.6L378.7 397.7L375.9 400.2L373.2 403L370.5 406.1L367 410.6L353.8 412.5L339.4 415.1L323.9 418.4L311.5 421.4L295.7 425.7L276.9 431.2L262.4 435.7L243.1 442.1L224.4 448.6L207.9 454.6L197 459L186.7 463.5L180.1 466.9L174.5 470.5L171 473.6L169.7 475.3L168.8 477z" fill="#80ff7f" stroke="#80ff7f"/><path d="M222.4 516.5L233.6 519.7L244.4 522.4L256.5 524.9L270 527.2L285.1 529.3L299 530.8L314.4 532.1L327.9 532.8L342.7 533.3L357 533.4L372.9 533.1L387.1 532.4L400.3 531.5L415.3 530L429 528.2L441.8 526.2L453.5 524L466.6 521.1L478.5 517.9L489.5 514.6L499.5 511L508.6 507.2L516.9 503.2L524.3 499L530.9 494.7L536.6 490.1L541.4 485.3L545.3 480.3L546.8 477.8L548.1 475.1L549.6 470.6L550.3 465.9L550.3 463.2L550 460.9L548.9 456.8L547.1 452.7L544.8 449L541.6 445L537.7 441.2L533.2 437.6L528.5 434.4L522.2 430.6L515.4 427.3L508.3 424.3L484.1 415.5L464.8 407.7L447 399.7L428.4 390.5L411.9 381.5L396.7 372.7L377.9 361.2L344.8 339.9L332.6 332.3L318.9 324.3L308.3 318.8L302.7 316.3L296.7 313.9L290.6 311.9L285.3 310.6L280.3 309.7L275.2 309.3L270.6 309.3L265.8 309.8L259.5 311.2L256.3 312.3L253.1 313.7L249.9 315.4L246.7 317.4L243.4 319.7L240.3 322.3L236.9 325.5L233.6 329L229.1 334.3L223.4 342.2L218.2 350.5L212.9 360L207.5 371L201.2 385.1L195.1 400.4L189.5 415.3L183.1 433.5L168.3 478.5L168.1 480.7L168.5 482.9L169.5 485.4L170.7 487.6L172.8 490.2L175.3 492.8L178.4 495.5L182 498.2L189.4 502.8L194.7 505.7L199.7 508L210.1 512.3L222.4 516.5z" fill="#80ff7f" stroke="#80ff7f"/><path d="M170.6 471.4L170.5 471.9L184.9 428.3L189.5 415.3L195.1 400.4L201.2 385.1L205.6 375.1L211.8 362.3L216 354.3L220.4 346.9L226.8 337.3L231.3 331.5L236.9 325.5L242.6 320.4L247.1 317.1L253.1 313.7L256.3 312.3L259.5 311.2L265.8 309.8L270.6 309.3L275.4 309.3L281.4 309.9L287.5 311.1L293.6 312.9L300.5 315.4L308.7 319L314.7 322.1L321.6 325.8L338.7 336.1L388.8 368.1L424.1 391.3L424.3 391.5L418.9 390.2L415 389.5L407.6 388.7L403.9 388.6L400.4 388.8L397 389.2L393.7 389.9L390.5 390.9L387.4 392.1L384.4 393.7L381.4 395.5L378.5 397.6L375.7 400.1L373 402.8L369.9 406.3L358.6 407.6L345.8 409.6L334 411.8L322.9 414.2L310.4 417.2L296.4 420.8L281.2 425.2L264.7 430.2L243.5 437.2L223.1 444.2L205.2 450.9L193 456L184.6 459.9L180.8 462L177.4 464.2L175 466L172.9 468L171.6 469.7L170.6 471.4z" fill="#92ff6d" stroke="#92ff6d"/><path d="M220.2 508.1L229.8 510.9L241.8 513.9L253.5 516.3L266.5 518.6L278.6 520.4L291.8 521.9L306.4 523.2L320.6 524L335.8 524.5L349.1 524.6L365 524.3L379.3 523.6L392.3 522.7L407.2 521.2L418.2 519.8L431 517.8L445 515.1L455.7 512.7L465.7 510L476.7 506.7L485.1 503.7L494.4 499.9L502.7 496L510.2 491.8L516.8 487.4L522.5 482.9L527.3 478.1L530.5 474L533 469.6L534.2 467L535 464.2L535.7 459.5L535.6 456.5L535.3 454.5L534.3 450.9L532.7 447.1L530.6 443.7L527.5 439.8L523.7 436.1L519.5 432.6L514.8 429.4L508.7 425.8L503.5 423.2L498.1 420.8L474.6 411.8L457.7 404.7L439.4 396L422.9 387.6L406.3 378.4L389.3 368.3L373 358.1L341.8 338L329.7 330.5L317.7 323.7L308.3 318.8L302.7 316.3L296.7 313.9L290.6 311.9L285.3 310.6L280.3 309.7L275.2 309.3L270.6 309.3L265.8 309.8L259.5 311.2L256.3 312.3L253.1 313.7L249.9 315.4L246.7 317.4L243.4 319.7L240.3 322.3L236.9 325.5L233.6 329L229.1 334.3L223.4 342.2L218.2 350.5L212.9 360L207.5 371L201.8 383.7L197.1 395.2L191 411.1L185.1 427.9L177.4 450.7L170.2 472.8L170 474.6L170.2 476.8L171 478.9L172.5 481.4L174.1 483.6L176.6 486.1L179.7 488.7L182.6 490.9L186 493.2L190.6 495.9L198.8 500L208.8 504.1L220.2 508.1z" fill="#92ff6d" stroke="#92ff6d"/><path class="k" d="M220.2 508.1L233.1 511.8L247.5 515.1L262 517.9L278.6 520.4L294.6 522.2L312.7 523.6L330.9 524.4L349.1 524.6L365 524.3L382.6 523.4L401.4 521.8L418.2 519.8L433.4 517.4L449.4 514.2L463.7 510.6L476.7 506.7L488.3 502.5L494.4 499.9L500 497.3L505.3 494.6L510.2 491.8L514.7 488.9L517.8 486.7L521.6 483.7L525 480.5L528 477.3L529.9 474.8L532.1 471.4L533.4 468.8L534.5 466.1L535.4 462.4L535.7 459.5L535.5 456.1L534.8 452.5L533.9 449.6L532.7 447.1L530.6 443.7L528.4 440.8L525.7 437.9L522.5 435L519 432.3L514.9 429.4L511.2 427.2L507.4 425.1L502.1 422.6L496.7 420.2L491 418.1M370.7 406.2L358.6 407.6L348.3 409.2L336.3 411.3L322.9 414.2L310.4 417.2L296.4 420.8L281.2 425.2L264.7 430.2L245.3 436.6L226.5 443.1L208.4 449.7L199 453.4L187.3 458.6L180.8 462L175.8 465.3L174.3 466.6L172.6 468.3L171 470.6L170.2 472.8L170 475L170.3 477.2L171.4 479.7L173.1 482.3L175.3 484.8L178.1 487.4L181.4 490.1L185.3 492.7L190.6 495.9L195 498.2L200.9 500.9L206.4 503.2L213.8 506L220.2 508.1"/><path d="M172.4 465.9L172.3 466.2L185.1 427.9L191 411.1L197.1 395.2L201.8 383.7L207.5 371L211.8 362.3L216.5 353.5L222.5 343.5L226.8 337.3L231.3 331.5L236.9 325.5L242.6 320.4L247.1 317.1L253.1 313.7L256.3 312.3L259.5 311.2L265.8 309.8L270.6 309.3L275.4 309.3L281.4 309.9L287.5 311.1L293.6 312.9L300.5 315.4L308.7 319L314.7 322.1L321.6 325.8L338.7 336.1L388.8 368.1L424.1 391.3L424.3 391.5L416.3 389.7L408.7 388.7L405 388.5L401.5 388.6L395.8 389.3L392.5 390.1L389.3 391.2L384.2 393.5L381.3 395.3L378.4 397.5L373.2 402L364.1 402.9L353 404.3L342.7 405.9L330.9 408L319.8 410.4L307.2 413.4L295.2 416.6L281.8 420.3L256.3 428.2L233.7 435.8L215.3 442.4L198 449.2L187.9 453.7L180.4 457.9L178.1 459.6L175.5 461.7L173.7 463.7L172.4 465.9z" fill="#a4ff5b" stroke="#a4ff5b"/><path d="M230.3 503.4L241 506L252.4 508.4L265.2 510.6L277 512.2L290.1 513.7L301.6 514.7L314 515.4L327.7 515.9L342.1 516.1L354.2 515.9L365.3 515.5L378.9 514.6L391.3 513.6L405.5 511.9L416 510.4L428.1 508.2L439.3 505.9L449.7 503.4L459.2 500.6L468.1 497.8L476.3 494.7L485.2 490.9L493.2 486.9L499.2 483.3L505.5 478.9L510.1 475.1L514.7 470.2L517.7 466.1L520 461.7L521.4 457.1L521.8 454.6L521.9 452.4L521.5 448.4L520.7 445.2L519.3 442L517.3 438.6L515 435.5L512.3 432.6L508.4 429.1L505.2 426.7L500.7 423.7L494.6 420.3L488.7 417.5L467.2 408.8L449.6 400.9L433.8 393.2L418.9 385.4L403.8 376.9L389.7 368.5L375 359.3L335.7 334.2L324.3 327.4L316.2 322.9L308.3 318.8L300.5 315.4L293.6 312.9L287.5 311.1L281.4 309.9L275.2 309.3L269 309.4L263.4 310.2L259.5 311.2L256.4 312.3L251.7 314.4L246.7 317.4L243.4 319.7L240.1 322.4L236.9 325.5L233.6 329L229.1 334.3L223.4 342.2L218.2 350.5L212.9 360L207.5 371L201.8 383.7L197.1 395.2L191 411.1L185.1 427.9L177.4 450.7L171.9 467.6L171.8 469.8L172.3 472L173.6 474.5L175.1 476.6L177.4 479.1L180.3 481.6L183.1 483.8L187.1 486.4L191.7 489L196.1 491.2L206.3 495.7L217.4 499.7L230.3 503.4z" fill="#a4ff5b" stroke="#a4ff5b"/><path d="M174.3 460.3L174.2 460.5L181.2 439.3L187.1 422.2L193.1 405.7L197.9 393.2L203.3 380.2L207.5 371L212.9 360L218.2 350.5L222.5 343.5L226.9 337.2L231.3 331.5L233.6 329L238.1 324.4L243.4 319.7L249.4 315.7L254.1 313.3L256.4 312.3L261.1 310.8L265.8 309.8L272.1 309.2L278.3 309.5L284.5 310.4L290.3 311.8L296.7 313.9L303.1 316.5L310.9 320.1L324.3 327.4L340.9 337.5L388.8 368.1L424.1 391.3L424.3 391.5L416.2 389.7L409.8 388.7L402.6 388.5L396.8 389L391.3 390.3L387.1 391.9L382 394.5L377.2 397.9L367.2 398.6L358.2 399.5L347.3 400.9L337.2 402.5L325.5 404.7L314.5 407.1L302.1 410.2L290.2 413.3L271.3 418.8L247.9 426.2L224 434.4L204.6 441.8L191.3 447.5L183.5 451.7L180.2 453.8L177.4 456.1L175.6 458L174.3 460.3z" fill="#b6ff49" stroke="#b6ff49"/><path d="M221.2 493.4L231.5 496.3L241.7 498.7L253.1 500.9L263.7 502.7L275.4 504.3L288.3 505.7L301.2 506.7L312.5 507.3L327.2 507.7L340.2 507.7L351.9 507.4L366 506.7L378.8 505.7L390.6 504.5L404.1 502.7L414.1 501L425.6 498.8L436.2 496.3L446 493.6L455 490.8L463.4 487.8L472.4 484L479.2 480.7L486.6 476.5L491.9 472.8L497.5 468.2L501.4 464.2L504.5 460L506.9 455.7L508.4 451.1L508.8 448.7L508.9 446.4L508.5 442.4L507.6 439.2L506.3 436.1L504.4 433L502.3 430.2L499.6 427.3L496.8 424.7L493.8 422.3L489.4 419.4L484.2 416.3L478.6 413.6L457.7 404.7L441.7 397.2L428.4 390.5L414.7 383.1L403.5 376.7L389.3 368.3L373 358.1L338.1 335.7L327.1 329L317.7 323.7L310.9 320.1L303.1 316.5L296.7 313.9L290.3 311.8L284.5 310.4L277.9 309.5L272.1 309.2L265.8 309.8L259.5 311.2L254.1 313.3L249.9 315.4L247.1 317.1L242.6 320.4L236.9 325.5L231.3 331.5L224.7 340.2L220 347.6L213.9 358.2L209.6 366.6L205.4 375.5L199.2 390.1L193.1 405.7L187.1 422.2L181.2 439.3L173.9 461.5L173.6 463.3L173.9 465.4L174.5 467.1L175.7 469.2L177.4 471.3L179.9 473.8L185.4 477.9L192.7 482.2L200.8 486.1L210.6 490L221.2 493.4z" fill="#b6ff49" stroke="#b6ff49"/><path d="M176.1 454.7L175.9 455.3L187.1 422.2L193.1 405.7L197.9 393.2L203.3 380.2L207.5 371L212.9 360L218.2 350.5L222.5 343.5L226.9 337.2L231.3 331.5L233.6 329L238.1 324.4L243.4 319.7L249.4 315.7L254.1 313.3L256.4 312.3L261.1 310.8L265.8 309.8L272.1 309.2L278.3 309.5L284.5 310.4L290.3 311.8L296.7 313.9L303.1 316.5L310.9 320.1L324.3 327.4L340.9 337.5L388.8 368.1L424.1 391.2L424.2 391.5L417.4 389.8L411 388.8L404.8 388.3L398.9 388.6L394.4 389.3L390.1 390.5L385.8 392.1L382.1 394L374.5 394.3L364.4 394.9L355.2 395.8L344.2 397.2L334.1 398.8L324.6 400.5L313.5 402.9L301 405.9L281.3 411.2L257.3 418.5L234.6 426L211.4 434.4L203.6 437.5L194.7 441.4L189.2 444L185.5 446.1L182.1 448.3L179.3 450.6L177.2 452.8L176.1 454.7z" fill="#c7ff38" stroke="#c7ff38"/><path d="M227.3 487.8L237.1 490.3L247.9 492.5L257.8 494.2L268.8 495.8L281 497.2L291.7 498.2L303.4 498.9L316.2 499.4L326.4 499.6L338.8 499.5L350.1 499.1L363.7 498.3L376.1 497.2L387.5 495.9L398 494.3L407.8 492.6L416.9 490.8L427.4 488.3L437.1 485.6L446.1 482.8L454.2 479.7L461.7 476.6L468.5 473.2L475.7 469L481 465.3L485.6 461.5L489.5 457.5L492.6 453.3L494.9 448.9L496 445.3L496.5 442.6L496.6 440.5L496.2 436.5L495.5 433.7L494.4 431.2L492.9 428.4L490.8 425.5L488.4 422.8L485.7 420.2L482.8 417.9L478.6 414.9L474.1 412.3L469.4 409.8L449.6 400.9L435.1 393.9L422.8 387.5L409.1 380L396.7 372.7L382.9 364.3L335.3 334L326.7 328.8L317.7 323.7L308.7 319L300.5 315.4L293.6 312.9L287.5 311.1L281.4 309.9L275.2 309.3L269 309.4L263.4 310.2L259.5 311.2L256.4 312.3L251.7 314.4L246.7 317.4L243.4 319.7L240.3 322.3L235.8 326.6L230.2 332.9L224.7 340.2L220 347.6L213.9 358.2L209.6 366.6L205.4 375.5L199.2 390.1L193.8 403.7L189 416.7L183.1 433.5L175.6 456.3L175.4 458.1L175.9 460.2L176.6 461.9L177.9 463.9L179.7 466L182.5 468.4L188.4 472.5L196.1 476.7L204.7 480.5L215 484.2L227.3 487.8z" fill="#c7ff38" stroke="#c7ff38"/><path d="M177.9 449.2L177.7 449.7L189 416.7L193.8 403.7L199.2 390.1L205.4 375.5L209.6 366.6L213.9 358.2L220 347.6L224.7 340.2L230.2 332.9L235.8 326.6L240.3 322.3L243.4 319.7L246.7 317.4L251.7 314.4L256.4 312.3L259.5 311.2L262.7 310.4L268.2 309.5L273 309.2L278.3 309.5L285.3 310.6L290.6 311.9L297.9 314.4L305.7 317.6L311.7 320.5L324.3 327.4L340.9 337.5L388.8 368.1L424 391.4L418.6 390L413.3 389L408.3 388.4L403.4 388.2L399.9 388.3L396.4 388.7L393.1 389.4L388.9 390.6L375.7 390.5L361.4 391.2L349.3 392.3L335.9 394.2L321.5 396.8L306.1 400.1L285.9 405.3L259.7 413L236.8 420.5L213.5 428.9L199.6 434.5L192.5 437.8L188.7 439.9L184 442.8L181.4 444.8L179.2 447.1L177.9 449.2z" fill="#d9ff26" stroke="#d9ff26"/><path d="M215.4 477.2L225.1 480.1L234.3 482.4L244.6 484.6L254.2 486.3L264.8 487.8L276.5 489.2L289.5 490.4L301 491.1L312.7 491.5L326.1 491.6L338 491.4L348.8 490.9L358.7 490.2L370.9 489.1L382.1 487.7L394.9 485.7L404.3 483.9L415.1 481.5L425.1 478.9L434.2 476.1L442.5 473.1L450.1 469.9L457 466.6L463.2 463.1L468.6 459.5L473.4 455.6L477.4 451.7L480.7 447.5L483.1 443.2L484.3 439.6L484.9 435.8L484.9 433.8L484.7 431.3L484.1 428.8L482.9 425.7L481.6 423.3L479.9 420.8L477.6 418.1L475.1 415.6L472.3 413.3L468.3 410.4L465 408.5L460.5 406L444.4 398.5L430.9 391.8L418.9 385.4L406.3 378.4L393.2 370.6L380.8 363L335.3 334L318.9 324.3L310.9 320.1L303.1 316.5L296.7 313.9L290.3 311.8L284.5 310.4L277.9 309.5L272.1 309.2L265.8 309.8L259.5 311.2L254.1 313.3L249.9 315.4L247.1 317.1L242.6 320.4L236.9 325.5L231.3 331.5L226.8 337.3L220.4 346.9L216 354.3L209.6 366.6L205.4 375.5L199.2 390.1L193.8 403.7L189 416.7L177.6 450.1L177.3 451.5L177.4 453.3L177.8 455L178.7 456.6L179.8 458.3L181.3 459.9L185.6 463.5L191.3 467.1L198.6 470.8L206.4 474.1L215.4 477.2z" fill="#d9ff26" stroke="#d9ff26"/><path d="M179.8 443.6L179.6 444L185.1 427.9L191 411.1L197.1 395.2L201.2 385.1L205.6 375.1L211.8 362.3L216 354.3L220.4 346.9L224.7 340.2L230.2 332.9L235.8 326.6L240.3 322.3L243.4 319.7L246.7 317.4L251.7 314.4L256.4 312.3L259.5 311.2L263.4 310.2L268.2 309.5L273 309.2L278.3 309.5L285.3 310.6L290.6 311.9L297.9 314.4L305.7 317.6L311.7 320.5L324.3 327.4L340.9 337.5L388.8 368.1L423.8 391.2L415.7 389.3L408 388.2L404.4 388L400 388.1L392.2 387.4L383.1 387L369.1 387L355.3 387.7L340.6 389.3L327.8 391.2L311.6 394.4L298.8 397.4L288.7 399.9L265.8 406.5L240.7 414.5L217.2 422.8L209.2 425.9L200.2 429.7L190.6 434.4L187.1 436.5L183.6 439L181.2 441.4L179.8 443.6z" fill="#ebff14" stroke="#ebff14"/><path d="M216.4 470.5L225.5 473.1L234.7 475.3L245 477.4L254.5 479.1L265.1 480.5L276.8 481.8L287.5 482.7L298.9 483.3L308.9 483.7L322.1 483.7L333.9 483.5L344.5 482.9L354.3 482.2L366.3 481.1L377.2 479.6L387.4 478L396.7 476.2L407.5 473.8L415.4 471.7L424.6 468.9L432.9 465.9L440.5 462.7L447.3 459.4L453.4 455.9L458.8 452.2L463.5 448.4L466.6 445.2L469.8 441.1L472.2 436.7L473.4 433.1L473.9 429.3L473.5 425.3L472.7 422.2L471.8 420L470.5 417.8L468.7 415.2L466.5 412.6L464.3 410.5L461.2 408L458.3 405.9L451.9 402.1L436.4 394.6L422.9 387.6L411.9 381.5L400.7 375.1L379.6 362.2L338.1 335.7L320.7 325.3L311.7 320.5L303.1 316.5L296.7 313.9L290.3 311.8L284.5 310.4L277.9 309.5L272.1 309.2L265.8 309.8L259.5 311.2L254.1 313.3L249.4 315.7L243.4 319.7L238.1 324.4L233.5 329L230.2 332.9L226.9 337.2L222.5 343.5L216.5 353.5L211.8 362.3L207.5 371L201.8 383.7L197.1 395.2L191 411.1L185.1 427.9L179.4 444.5L179.1 445.9L179.2 447.6L179.5 448.9L180.3 450.5L181.4 452.2L182.8 453.8L187.1 457.4L192.9 460.9L199.3 464.1L207 467.3L216.4 470.5z" fill="#ebff14" stroke="#ebff14"/><path class="k" d="M216.4 470.5L227 473.5L238 476L250.6 478.4L262.9 480.3L276.8 481.8L289.9 482.9L304 483.5L317.9 483.8L330.1 483.6L344.5 482.9L357.4 482L371.9 480.4L384.9 478.4L396.7 476.2L407.5 473.8L419.2 470.6L429.7 467.1L439 463.4L447.3 459.4L454.6 455.2L457.8 453L460.8 450.7L463.5 448.4L465.9 446L468 443.6L469.8 441.1L471.4 438.5L472.2 436.7L473.1 434L473.6 431.6L473.9 429.3L473.7 426.5L473.3 424.3L472.6 422L471.7 419.9L470.1 417L468.7 415.2L466.5 412.6L464 410.2L461.2 408L458.3 405.9L455.2 403.9L448.5 400.4M403.8 388.5L392.9 387.5L380 386.9L369.1 387L355.3 387.7L343.4 388.9L330.2 390.8L316 393.5L303 396.4L284.7 401L265.8 406.5L240.7 414.5L220.8 421.5L212.4 424.6L204.6 427.8L194.6 432.3L189.4 435.1L186 437.2L183.1 439.5L181.2 441.4L180.1 443L179.3 444.9L179.1 446.7L179.4 448.5L180.1 450.1L181.4 452.2L182.8 453.8L185 455.8L187.7 457.7L190.8 459.7L194.4 461.7L198.4 463.7L207 467.3L216.4 470.5"/><path d="M181.7 438.1L181.4 438.8L187.1 422.2L193.1 405.7L197.9 393.2L203.3 380.2L207.5 371L212.9 360L218.2 350.5L222.5 343.5L226.9 337.2L231.3 331.5L236.9 325.5L242.6 320.4L247.1 317.1L253.1 313.7L258.7 311.5L263.4 310.2L268.2 309.5L273 309.2L278.3 309.5L285.3 310.6L290.6 311.9L297.9 314.4L305.7 317.6L311.7 320.5L324.3 327.4L340.9 337.5L388.8 368.1L421 389.4L409.1 386.7L396.7 384.7L383.6 383.6L370.5 383.2L355.5 383.8L343.1 384.8L327.1 387.1L312.9 389.7L301.9 392.1L291.6 394.6L270.2 400.5L259.1 403.8L243 409L222.6 416.1L212.9 419.8L205.2 422.9L198 426.1L192.7 428.8L188 431.7L185.1 433.9L182.8 436.2L181.7 438.1z" fill="#fdff02" stroke="#fdff02"/><path d="M216.4 463.5L224.5 465.8L233.4 468L243.4 470L252.8 471.6L263.1 473.1L274.6 474.3L284.8 475.1L295.8 475.7L305.7 476L318.7 476L330.3 475.7L340.7 475.1L350.3 474.4L362.1 473.1L370.2 472.1L380.3 470.4L389.6 468.6L398.2 466.7L406.2 464.6L415.4 461.8L422.1 459.4L429.9 456.3L436.8 453L443 449.5L448.5 445.9L453.1 442L457 438L459.5 434.7L461.4 431.2L462.7 427.6L463.3 423.8L463 419.9L462.3 417.1L461.3 414.6L460.1 412.3L458.4 410L456.6 407.9L454.2 405.5L451.5 403.3L448.7 401.3L442.5 397.6L428.4 390.5L417.5 384.6L397.9 373.4L377.9 361.2L338.1 335.7L320.7 325.3L311.7 320.5L303.1 316.5L296.7 313.9L290.3 311.8L284.5 310.4L277.9 309.5L272.1 309.2L265.8 309.8L259.5 311.2L254.1 313.3L249.4 315.7L243.4 319.7L238.1 324.4L233.5 329L230.2 332.9L226.9 337.2L222.5 343.5L218.2 350.5L212.9 360L207.5 371L203.3 380.2L197.9 393.2L193.1 405.7L187.1 422.2L181.4 438.7L181 440.2L181 442L181.4 443.2L182.1 444.9L183.3 446.5L184.7 448.1L188.6 451.2L193.6 454.3L199.9 457.5L207.6 460.6L216.4 463.5z" fill="#fdff02" stroke="#fdff02"/><path d="M183.5 432.5L183.3 433.1L189 416.7L193.8 403.7L199.2 390.1L203.3 380.2L207.5 371L212.9 360L218.2 350.5L222.5 343.5L226.9 337.2L231.3 331.5L236.9 325.5L242.6 320.4L247.1 317.1L253.1 313.7L258.7 311.5L263.4 310.2L268.2 309.5L273 309.2L278.3 309.5L285.3 310.6L290.6 311.9L297.9 314.4L303.1 316.5L310.9 320.1L324.3 327.4L340.9 337.5L388.8 368.1L416 386.2L405.9 383.6L393.8 381.4L381.1 380.1L368 379.6L354.7 379.9L340 381.1L326.4 382.9L312 385.5L294.6 389.3L284.4 391.9L270.9 395.7L245.3 403.6L223.2 411.2L213.5 414.9L205.8 418L198.7 421.3L194.7 423.3L190.5 425.8L187.4 428L184.9 430.5L183.5 432.5z" fill="#fff000" stroke="#fff000"/><path d="M215.5 456.4L223.4 458.7L232.1 460.8L241.9 462.7L251 464.3L261.1 465.7L272.4 466.9L282.3 467.6L293.3 468.2L312.1 468.4L323.5 468.2L334 467.6L343.7 466.9L355.5 465.7L363.6 464.6L373.6 463L382.9 461.1L391.4 459.2L399.3 457.1L408.4 454.2L415 451.8L422.6 448.7L428 446L434.2 442.5L439.5 438.8L443.3 435.8L447.2 431.8L449.6 428.4L451.5 424.9L452.7 421.3L453.2 417.5L453 414.3L452.2 411.4L451.3 409.3L450.1 407L448.4 404.7L444.7 400.8L442.2 398.6L439.4 396.6L434.8 393.8L422.8 387.5L411.9 381.5L395 371.7L376.3 360.1L338.1 335.7L320.7 325.3L311.7 320.5L303.1 316.5L296.7 313.9L290.3 311.8L284.5 310.4L277.9 309.5L272.1 309.2L265.8 309.8L259.5 311.2L254.1 313.3L249.4 315.7L243.4 319.7L238.1 324.4L233.5 329L229.1 334.3L223.4 342.2L218.2 350.5L212.9 360L207.5 371L203.3 380.2L199.2 390.1L193.8 403.7L189 416.7L183.3 433.1L182.9 434.5L182.9 435.8L183.1 437.1L183.8 438.8L185.9 441.6L189.5 444.7L194.4 447.8L200.6 450.9L208.1 453.9L215.5 456.4z" fill="#fff000" stroke="#fff000"/><path d="M185.5 427L185.1 427.8L189.5 415.3L195.1 400.4L201.2 385.1L205.4 375.5L209.6 366.6L213.9 358.2L218.2 350.5L223.4 342.2L229.1 334.3L233.5 329L238.1 324.4L242.6 320.4L247.1 317.1L253.1 313.7L258.7 311.5L263.4 310.2L268.2 309.5L273 309.2L278.3 309.5L285.3 310.6L290.6 311.9L297.9 314.4L303.1 316.5L310.9 320.1L323.7 327L338.7 336.1L387.1 367L411.1 382.9L401.3 380.2L389.6 378L377.1 376.5L365.4 376L353.1 376.1L339.9 377L325.9 378.7L311.1 381.3L293.6 385.1L283.3 387.6L269.7 391.4L258.5 394.7L244.2 399.3L225.4 405.8L215.7 409.4L207.9 412.5L198 417.1L193.3 419.8L189.8 422.2L187.3 424.5L185.5 427z" fill="#ffde00" stroke="#ffde00"/><path d="M213.9 449.1L221.1 451.2L229.3 453.2L238.6 455.2L247.3 456.7L257 458.1L267.5 459.3L286.2 460.6L305.2 461L317.1 460.8L327.8 460.3L337.5 459.5L349.3 458.3L357.4 457.2L367.4 455.6L376.6 453.7L385 451.8L392.9 449.6L400.1 447.3L406.7 444.9L414.2 441.8L419.7 439.1L425.7 435.6L430 432.6L434.6 428.8L437.7 425.6L440.2 422.3L442 418.8L443.2 415.1L443.6 411.5L443.2 408.3L442.7 406.2L441.8 404.1L440.6 401.8L439.2 399.8L435.4 395.8L430.4 391.9L426.6 389.5L407.5 379L392.2 370L375 359.3L338.1 335.7L327.1 329L318.9 324.3L310.9 320.1L303.1 316.5L296.7 313.9L290.3 311.8L284.5 310.4L277.9 309.5L272.1 309.2L265.8 309.8L259.5 311.2L254.1 313.3L249.4 315.7L244.8 318.7L240.3 322.3L235.8 326.6L231.3 331.5L226.9 337.2L222.5 343.5L218.2 350.5L213.9 358.2L209.6 366.6L205.4 375.5L201.2 385.1L193.1 405.7L184.9 428.3L184.8 430.6L185.4 432.7L186.7 434.7L188.6 436.7L191.5 439L194.5 440.9L198.7 443.2L202.9 445L208.5 447.2L213.9 449.1z" fill="#ffde00" stroke="#ffde00"/><path d="M187.4 421.4L187.1 422.1L193.1 405.7L197.1 395.2L201.2 385.1L205.6 375.1L211.8 362.3L216 354.3L220.4 346.9L224.7 340.2L229.1 334.3L233.6 329L238.1 324.4L243.4 319.7L247.1 317.1L253.1 313.7L258.7 311.5L263.4 310.2L268.2 309.5L273 309.2L278.3 309.5L284.5 310.4L290.3 311.8L295.3 313.4L302.7 316.3L308.7 319L320.7 325.3L335.7 334.2L387.1 367L406.3 379.7L396.8 376.8L391.8 375.7L385.4 374.5L373.2 373L361.6 372.4L350.2 372.4L336.8 373.3L322.7 375L308 377.5L290.4 381.3L270.5 386.6L259.2 389.9L244.8 394.4L226 400.9L216.3 404.5L208.6 407.7L198.8 412.3L194.8 414.6L191.4 416.9L188.8 419.5L187.4 421.4z" fill="#ffcc00" stroke="#ffcc00"/><path d="M212 441.7L218.9 443.8L226.7 445.8L235.5 447.8L243.8 449.3L253.1 450.6L263.4 451.8L273.4 452.7L282.5 453.2L293.7 453.6L303.2 453.6L321.9 452.9L331.7 452.2L340.7 451.3L349 450.3L359.1 448.7L366.2 447.4L374.9 445.4L382.9 443.3L390.3 441.1L397.1 438.7L403.3 436.2L409 433.6L415.3 430.2L420.9 426.5L424.7 423.5L427.9 420.3L430.5 417L432.5 413.6L433.8 410L434.3 406.4L434.1 403.2L433.5 401.1L432.7 399L431.5 396.7L430.2 394.9L426.8 391.1L424.4 389.1L421.7 387.2L403.5 376.7L389.3 368.3L373 358.1L338.1 335.7L327.1 329L318.9 324.3L310.9 320.1L303.1 316.5L296.7 313.9L290.3 311.8L284.5 310.4L277.9 309.5L272.1 309.2L265.8 309.8L261.1 310.8L256.3 312.3L251.7 314.4L247.1 317.1L243.4 319.7L240.1 322.4L235.8 326.6L231.3 331.5L226.9 337.2L223.4 342.2L220 347.6L216 354.3L211.8 362.3L207.5 371L203.3 380.2L199.2 390.1L193.1 405.7L186.9 422.6L186.7 424.2L186.9 425.8L187.8 427.9L189.3 429.8L191.4 431.8L194.1 433.7L197.3 435.5L201.8 437.7L206.1 439.6L212 441.7z" fill="#ffcc00" stroke="#ffcc00"/><path d="M189.4 415.9L189.2 416.4L197.9 393.2L203.3 380.2L207.5 371L211.8 362.3L216 354.3L220.4 346.9L224.7 340.2L229.1 334.3L233.6 329L238.1 324.4L243.4 319.7L247.1 317.1L253.1 313.7L258.7 311.5L263.4 310.2L268.2 309.5L273 309.2L278.3 309.5L284.5 310.4L290.3 311.8L295.3 313.4L302.7 316.3L308.7 319L320.7 325.3L335.7 334.2L385.4 365.9L401.4 376.4L396.9 374.9L392.3 373.5L382.5 371.2L376 370.2L370.6 369.5L359.3 368.7L347.3 368.7L333.7 369.5L319.5 371.2L307.2 373.3L289.4 377.1L269.4 382.3L250.8 387.8L240.2 391.3L228.2 395.4L218.5 399.1L210.8 402.2L200.9 406.8L196.4 409.4L193.1 411.7L191 413.7L189.4 415.9z" fill="#ffba00" stroke="#ffba00"/><path d="M224.2 438.5L232.6 440.4L240.5 441.9L249.3 443.2L257 444.2L266.4 445.1L274.9 445.7L293.2 446.3L301.6 446.3L312.9 445.9L329.3 444.7L346.1 442.7L360.6 440.1L369.2 438.2L375.2 436.6L382.7 434.4L389.5 432L394.2 430.1L400 427.6L405.2 424.8L409.9 422L414 419L417.6 415.9L420.5 412.7L422.3 410.2L424.1 406.7L425 403.9L425.4 400.1L425 397.1L424.5 395.1L423.7 393.3L422.7 391.6L421.1 389.4L418.2 386.3L413.9 382.8L396.7 372.7L383.6 364.7L335.3 334L324.3 327.4L316.2 322.9L308.3 318.8L300.5 315.4L293.6 312.9L287.5 311.1L281.4 309.9L275.2 309.3L269 309.4L263.4 310.2L258.7 311.5L253.1 313.7L247.1 317.1L243.4 319.7L238.1 324.4L233.6 329L229.1 334.3L224.7 340.2L220.4 346.9L216 354.3L211.8 362.3L207.5 371L203.3 380.2L197.9 393.2L189 416.9L188.6 418.3L188.7 419.7L189.1 420.9L189.9 422.6L191.2 424.2L192.5 425.3L196.7 428.3L202.4 431.2L208.4 433.7L215.7 436.1L224.2 438.5z" fill="#ffba00" stroke="#ffba00"/><path class="k" d="M224.2 438.5L232.6 440.4L242.2 442.1L253.1 443.7L263.3 444.8L272.8 445.6L283.7 446.1L293.2 446.3L305.6 446.2L316.4 445.7L326.3 445L335.2 444.1L346.1 442.7L356 441L365 439.2L373.3 437.1L380.9 434.9L387.8 432.6L395.7 429.5L401.3 426.9L407.6 423.4L412 420.5L416.7 416.7L419.1 414.3L420.5 412.7L422.9 409.3L424.5 405.8L425 403.9L425.3 402L425.4 400.1L425.2 398.1L424.8 396.1L424.1 394.2L423.2 392.4L422 390.6L420.4 388.4L419 387L415 383.7L410.6 380.8M401.4 376.4L396.9 374.9L392.3 373.5L387.5 372.2L382.5 371.2L372 369.7L366.3 369.1L360.5 368.8L348.6 368.7L336.8 369.3L324.9 370.5L317 371.6L309.5 372.8L300.3 374.7L291.6 376.6L273.3 381.2L263.7 383.9L250.8 387.8L240.2 391.3L229.9 394.8L215.3 400.3L209.3 402.8L202.2 406.1L197.8 408.5L194 411L191.6 413.1L189.9 415.1L189.2 416.4L188.7 417.9L188.7 419.7L189.1 420.9L189.9 422.6L191.2 424.2L194.4 426.8L196.7 428.3L200.1 430.1L206.6 433L214.6 435.8L224.2 438.5"/><path d="M191.4 410.4L191 411.1L197.1 395.2L201.2 385.1L205.4 375.5L209.3 367.2L213.9 358.2L218.2 350.5L222.5 343.5L226.9 337.2L231.3 331.5L235.8 326.6L240.3 322.3L244.8 318.7L249.4 315.7L254.1 313.3L259.5 311.2L265.8 309.8L270.6 309.3L275.2 309.3L280.3 309.7L285.3 310.6L290.6 311.9L296.7 313.9L302.7 316.3L308.7 319L320.7 325.3L335.3 334L385.4 365.9L396.5 373.2L392.3 371.5L387.8 370.1L378.3 367.7L368 366.1L357 365.2L344.3 365L333.7 365.5L321.8 366.7L306.4 369.1L290.6 372.3L280.2 374.9L268.3 378L249.7 383.6L228.9 390.6L219.1 394.2L213 396.7L207.1 399.3L201.8 402L198 404.2L195 406.3L192.8 408.4L191.4 410.4z" fill="#ffa900" stroke="#ffa900"/><path d="M217.9 430.1L224.4 431.8L231.2 433.4L238.9 434.8L247.4 436.1L257 437.3L265.5 438.1L283 439L300.3 439L317.9 438.1L327.2 437.3L335.6 436.3L350.7 433.9L357.5 432.5L365.8 430.4L371.6 428.8L378.8 426.5L385.3 424.1L391.2 421.5L396.5 418.8L401.3 416L405.5 413.1L409.1 410L411.4 407.6L413.9 404.2L415.7 400.7L416.5 398L416.8 395.1L416.5 392.1L416 390L415.2 388.3L413.2 385L409.9 381.4L406 378.3L379.6 362.2L335.3 334L324.3 327.4L316.2 322.9L308.3 318.8L300.5 315.4L293.6 312.9L287.5 311.1L281.4 309.9L275.2 309.3L269 309.4L263.4 310.2L258.7 311.5L254.1 313.3L249.4 315.7L244.8 318.7L240.3 322.3L235.8 326.6L231.3 331.5L226.9 337.2L222.5 343.5L218.2 350.5L213.9 358.2L209.6 366.6L205.6 375.1L201.8 383.7L193.8 403.7L190.9 411.6L190.6 413.1L190.8 414.4L191.2 415.6L192.8 418.1L194.9 420L197 421.5L202.2 424.4L208.9 427.2L217.9 430.1z" fill="#ffa900" stroke="#ffa900"/><path d="M193.4 404.9L193.2 405.4L197.1 395.2L201.8 383.7L207.5 371L211.8 362.3L216 354.3L220.4 346.9L224.7 340.2L229.1 334.3L233.6 329L238.1 324.4L242.6 320.4L246.7 317.4L251.7 314.4L256.3 312.3L261.1 310.8L265.8 309.8L270.6 309.3L275.2 309.3L280.3 309.7L285.3 310.6L290.6 311.9L296.7 313.9L302.7 316.3L308.3 318.8L318.9 324.3L332.7 332.4L346.5 341L391.6 370L384.4 367L379.9 365.7L375.3 364.5L365.4 362.7L354.6 361.6L342.9 361.3L330.6 361.8L318.6 363L305.7 364.9L289.7 368.1L271.1 372.7L250.4 378.7L231.2 385.1L223 388.1L215.2 391.3L209.3 393.8L203.9 396.5L200.3 398.6L197.1 400.8L195.2 402.6L193.4 404.9z" fill="#ff9700" stroke="#ff9700"/><path d="M214.2 422.3L220.9 424.3L227.2 425.8L234.3 427.3L242.2 428.6L251.1 429.8L260.2 430.8L277.3 431.8L287 432L295.3 431.9L309.8 431.3L319.3 430.5L328 429.6L343.4 427.2L356.7 424.3L362.6 422.8L370 420.5L375 418.7L381.2 416.2L386.8 413.6L391.8 410.8L396.3 407.9L400.1 404.9L403.2 401.7L405.2 399.2L407.1 395.7L408.1 393L408.5 390.2L408.3 387.2L407.8 385.1L407 383.2L405.1 380.1L402.4 377.1L398.8 374.1L376.3 360.1L338.1 335.7L327.1 329L317.7 323.7L310.9 320.1L303.1 316.5L296.7 313.9L290.3 311.8L284.5 310.4L277.9 309.5L272.1 309.2L265.8 309.8L261.1 310.8L256.4 312.3L253.1 313.7L249.4 315.7L244.8 318.7L240.3 322.3L236.9 325.5L233.6 329L230.2 332.9L226.8 337.3L223.4 342.2L220 347.6L216.5 353.5L212.9 360L205.6 375.1L201.2 385.1L195.1 400.4L192.9 406.4L192.7 407.6L192.8 408.7L193.4 410.3L194.5 412L196.4 413.9L199 415.7L202.2 417.5L206 419.3L214.2 422.3z" fill="#ff9700" stroke="#ff9700"/><path d="M195.5 399.4L195.2 400.1L203.3 380.2L207.5 371L211.8 362.3L216 354.3L220.4 346.9L224.7 340.2L229.1 334.3L233.6 329L238.1 324.4L242.6 320.4L246.7 317.4L251.7 314.4L256.3 312.3L261.1 310.8L265.8 309.8L270.6 309.3L275.2 309.3L280.3 309.7L285.3 310.6L290.6 311.9L296.7 313.9L302.7 316.3L308.3 318.8L318.9 324.3L332.7 332.4L386.7 366.7L379.8 363.7L375.6 362.2L371.1 361L361.4 359.1L350.9 357.9L340.8 357.6L329.6 357.9L318.4 358.9L305 360.7L288.8 363.9L270.1 368.4L249.4 374.5L233.6 379.7L225.4 382.7L217.5 385.8L211.6 388.4L206.9 390.6L202.5 393.1L199.4 395.3L197.1 397.3L195.5 399.4z" fill="#ff8500" stroke="#ff8500"/><path d="M211.6 414.8L217.8 416.7L223.6 418.3L230.1 419.8L237.4 421.1L245.6 422.4L252.9 423.3L261 424L269.9 424.6L286.5 424.9L294.5 424.8L305.2 424.3L320.6 422.9L336.3 420.6L349.7 417.8L355.7 416.2L363.1 414L368.2 412.2L374.4 409.7L380 407L384.9 404.3L388.2 402.1L392.1 399L394.6 396.7L397.3 393.4L399.2 389.9L400.1 387.2L400.5 384.3L400.2 381.7L399.1 378.2L397.2 375.1L394.6 372.3L391 369.3L335.7 334.2L324.3 327.4L316.2 322.9L308.3 318.8L300.5 315.4L293.6 312.9L287.8 311.2L281.4 309.9L275.4 309.3L270.6 309.3L265.8 309.8L262.7 310.4L258.7 311.5L256.3 312.3L251.7 314.4L247.1 317.1L244.8 318.7L240.3 322.3L238.1 324.4L233.6 329L231.3 331.5L224.7 340.2L218.2 350.5L211.8 362.3L207.5 371L201.8 383.7L195.3 399.9L194.8 402.1L195 403.8L195.9 405.4L197.2 407L199 408.5L201.7 410.3L204.4 411.7L211.6 414.8z" fill="#ff8500" stroke="#ff8500"/><path d="M197.7 393.9L197.5 394.2L201.2 385.1L205.6 375.1L209.6 366.6L213.9 358.2L218.2 350.5L222.5 343.5L226.8 337.3L230.2 332.9L233.6 329L238.1 324.4L242.6 320.4L247.1 317.1L251.7 314.4L256.3 312.3L261.1 310.8L265.8 309.8L270.6 309.3L275.2 309.3L280.3 309.7L284.5 310.4L290.3 311.8L295.3 313.4L300.5 315.4L305.7 317.6L316.2 322.9L329.8 330.6L343.7 339.2L381.2 363.2L377.9 361.5L374.2 359.9L370.1 358.5L365.7 357.2L361.1 356.2L356.2 355.3L347.1 354.3L337.1 353.9L326 354.2L312.4 355.5L302 357L285.7 360.1L269.2 364.2L248.4 370.2L232.7 375.5L218.3 381L208.4 385.6L204.7 387.7L201.3 390L199.1 392L197.7 393.9z" fill="#ff7400" stroke="#ff7400"/><path d="M219.1 410.5L230.2 413.2L243.9 415.5L256.8 416.9L272.8 417.8L282 417.9L290.1 417.8L304.1 417.1L319 415.6L334.2 413.1L347.1 410.2L352.9 408.6L359.9 406.3L364.8 404.5L370.6 401.9L374.6 399.8L378.2 397.7L382.5 394.8L385.2 392.5L387.6 390.1L389.6 387.6L391.1 385L392.2 382.3L392.6 379.5L392.5 376.5L391.5 373.4L390 370.8L387.7 368.1L384.1 365.1L335.7 334.2L323.7 327L313.6 321.5L305.7 317.6L297.9 314.4L290.6 311.9L285.3 310.6L278.3 309.5L273 309.2L268.2 309.5L263.4 310.2L258.7 311.5L254.1 313.3L249.9 315.4L246.7 317.4L242.6 320.4L238.1 324.4L233.6 329L231.3 331.5L226.9 337.2L223.4 342.2L220 347.6L216.5 353.5L209.6 366.6L203.3 380.2L197.1 395.3L197 397.1L197.5 398.9L198.6 400.5L200.1 402L202.1 403.5L204.5 404.9L210.5 407.6L219.1 410.5z" fill="#ff7400" stroke="#ff7400"/><path d="M199.9 388.4L199.7 388.9L203.3 380.2L207.5 371L211.8 362.3L216 354.3L220 347.6L223.4 342.2L226.9 337.2L231.3 331.5L235.8 326.6L240.1 322.4L243.4 319.7L247.1 317.1L251.7 314.4L256.3 312.3L261.1 310.8L265.8 309.8L270.6 309.3L275.2 309.3L280.3 309.7L284.5 310.4L290.3 311.8L295.3 313.4L300.5 315.4L305.7 317.6L316.2 322.9L329.8 330.6L343.7 339.2L375 359.3L372.4 357.9L368.7 356.2L361.5 353.7L353.5 352L343.6 350.7L333 350.2L321.6 350.6L312.2 351.4L298.9 353.3L284.9 355.9L268.2 360L251.1 364.9L233.5 370.6L220.7 375.5L210.7 380.1L207.1 382.1L203.7 384.4L201.2 386.7L199.9 388.4z" fill="#ff6200" stroke="#ff6200"/><path d="M215.3 402.7L220.7 404.3L226.6 405.7L239.1 408.1L252.9 409.8L268.2 410.8L277.7 410.9L285.9 410.9L300 410.2L314.8 408.6L327.5 406.6L340.6 403.7L351.8 400.4L361.4 396.7L365.6 394.7L370.6 392L373.9 389.8L377.7 386.8L380.1 384.4L382.1 381.9L383.6 379.3L384.6 376.6L385 373.8L384.9 371.4L384.4 369.7L383.8 368.1L382 365.3L379.7 362.8L376.6 360.3L344.8 339.9L332.7 332.4L321.6 325.8L311.7 320.5L305.7 317.6L297.9 314.4L290.6 311.9L285.3 310.6L278.3 309.5L273 309.2L268.2 309.5L263.4 310.2L259.5 311.2L256.4 312.3L253.1 313.7L249.9 315.4L246.7 317.4L243.4 319.7L240.1 322.4L236.9 325.5L233.5 329L230.2 332.9L224.7 340.2L218.2 350.5L212.9 360L207.5 371L203.3 380.2L199.4 389.4L199.2 391.4L199.6 393.1L200.4 394.3L201.4 395.5L203.2 397L205.4 398.4L208.8 400.2L215.3 402.7z" fill="#ff6200" stroke="#ff6200"/><path class="k" d="M215.3 402.7L220.7 404.3L226.6 405.7L233.2 407.1L239.1 408.1L252.9 409.8L260.9 410.4L268.2 410.8L277.7 410.9L285.9 410.9L300 410.2L306.2 409.6L314.8 408.6L327.5 406.6L334.3 405.2L340.6 403.7L346.4 402.1L351.8 400.4L356.8 398.6L361.4 396.7L365.6 394.7L370.6 392L373.9 389.8L377.7 386.8L380.1 384.4L382.1 381.9L383.6 379.3L384.6 376.6L385 373.8L384.9 371.4L384.4 369.7L383.8 368.1L382 365.3L379.5 362.6L375.8 359.8L371.5 357.4L366.7 355.4L361.5 353.7L354.6 352.2L348.5 351.2L341.9 350.6L334.8 350.3L327.2 350.3L321.6 350.6L312.2 351.4L304 352.5L294.1 354.1L284.9 355.9L272.3 358.9L258.5 362.6L245.6 366.6L233.5 370.6L222.2 374.9L214 378.5L210.7 380.1L206.9 382.2L204.7 383.7L202.8 385.2L201.2 386.7L200.3 387.8L199.5 389.3L199.2 390.4L199.2 391.8L199.6 393.1L200.4 394.3L201.4 395.5L203.2 397L204.8 398.1L209.6 400.5L215.3 402.7"/><path d="M202.2 383L201.9 383.5L205.6 375.1L209.6 366.6L213.9 358.2L218.2 350.5L222.5 343.5L226.8 337.3L230.2 332.9L233.5 329L236.9 325.5L240.3 322.3L244.8 318.7L249.4 315.7L253.1 313.7L256.4 312.3L261.1 310.8L265.8 309.8L269 309.4L273 309.2L277.9 309.5L282.8 310.1L287.8 311.2L292.8 312.6L297.9 314.4L303.1 316.5L308.7 319L314.7 322.1L327.1 329L341.8 338L368.7 355.3L365.8 353.7L362.2 352L355 349.7L347 348L338.1 346.9L328.1 346.6L318.6 346.9L306.4 348L295.9 349.5L284.2 351.7L267.3 355.7L250.2 360.6L234.4 365.8L226.2 368.9L220.1 371.4L211.7 375.4L208.1 377.5L205.6 379.2L203.4 381.3L202.2 383z" fill="#ff5000" stroke="#ff5000"/><path d="M213.5 395.3L218.1 396.9L223.3 398.4L234.8 400.8L242.4 401.9L249.2 402.7L263.8 403.8L277.8 404L292.7 403.5L308.1 402.1L321 400.2L334.3 397.3L345.6 394L355.1 390.3L359.3 388.3L363.1 386.3L366.5 384.1L370.4 381.1L372.8 378.7L374.8 376.2L376.3 373.6L377.2 371L377.6 369L377.4 366.3L376.7 363.8L375 360.9L372.7 358.4L369.9 356.1L344.8 339.9L332.7 332.4L321.6 325.8L311.7 320.5L305.7 317.6L299.7 315.1L293.6 312.9L287.5 311.1L281.4 309.9L275.4 309.3L270.6 309.3L265.8 309.8L259.5 311.2L254.1 313.3L249.9 315.4L247.1 317.1L242.6 320.4L236.9 325.5L231.3 331.5L224.7 340.2L220 347.6L213.9 358.2L209.6 366.6L205.4 375.5L201.8 383.8L201.5 384.8L201.6 386.4L202.1 387.7L202.9 388.9L204 390.1L205.9 391.6L208.3 393L213.5 395.3z" fill="#ff5000" stroke="#ff5000"/><path d="M204.5 377.5L204.5 377.6L211.8 362.3L218.2 350.5L222.5 343.5L226.8 337.3L230.2 332.9L233.6 329L236.9 325.5L240.3 322.3L244.8 318.7L249.4 315.7L253.1 313.7L256.4 312.3L261.1 310.8L265.8 309.8L269 309.4L273 309.2L277.9 309.5L282.8 310.1L287.8 311.2L292.8 312.6L297.9 314.4L302.7 316.3L313.6 321.5L326.7 328.8L340.9 337.5L361.3 350.6L355.8 347.9L348.7 345.6L341.8 344.2L333.4 343.3L324.4 342.9L315.8 343.2L303.4 344.3L292.9 345.8L279.1 348.5L264.5 352L249.3 356.4L233.6 361.6L222.5 366L218.2 367.9L212.9 370.6L209.4 372.8L207.4 374.3L205.7 375.9L204.5 377.5z" fill="#ff3e00" stroke="#ff3e00"/><path d="M220.4 390.9L224.9 392.1L231 393.4L242.5 395.3L254.9 396.5L269.4 397.1L281.8 397L295.4 396.2L307 394.9L319.4 392.8L330.2 390.4L341.2 387L346 385.2L350.5 383.3L354.5 381.3L358.1 379.1L361.3 376.9L364 374.6L366.4 372.2L367.6 370.6L369.1 368L369.9 365.8L370.3 363.4L370.1 361.2L369.4 358.8L367.7 356L366.1 354.1L363.4 351.9L343.7 339.2L329.8 330.6L318.9 324.3L308.3 318.8L302.7 316.3L295.3 313.4L290.3 311.8L284.5 310.4L278.3 309.5L273 309.2L268.2 309.5L263.4 310.2L259.5 311.2L256.4 312.3L253.1 313.7L249.9 315.4L246.7 317.4L243.4 319.7L238.1 324.4L233.6 329L231.3 331.5L226.8 337.3L220.4 346.9L213.9 358.2L209.3 367.2L205 376.4L204.1 378.7L203.9 380.6L204.6 382.3L205.5 383.5L207.1 385L208.7 386.1L213.5 388.5L220.4 390.9z" fill="#ff3e00" stroke="#ff3e00"/><path d="M207 372.1L213.9 358.2L220.4 346.9L226.9 337.2L231.3 331.5L235.8 326.6L240.1 322.4L242.6 320.4L246.7 317.4L249.9 315.4L254.1 313.3L258.7 311.5L262.7 310.4L265.8 309.8L269 309.4L273 309.2L277.9 309.5L281.4 309.9L285.3 310.6L290.6 311.9L295.3 313.4L300.5 315.4L305.7 317.6L311.7 320.5L323.7 327L335.7 334.2L355.1 346.5L349.7 343.9L343.3 341.9L335.3 340.3L327.6 339.5L319 339.3L309.6 339.7L300.5 340.6L290 342.1L276.2 344.8L261.8 348.4L246.7 352.8L234.6 356.9L223.7 361.1L215.3 365.2L211.8 367.3L209.8 368.8L208.2 370.4L207 372.1z" fill="#ff2d00" stroke="#ff2d00"/><path d="M218.1 383.4L222.2 384.7L227.7 386.1L238.2 388.1L248.2 389.3L261.1 390.1L274.1 390.3L288.5 389.6L300.5 388.4L313.3 386.4L324.2 384L330 382.4L335.3 380.7L343.1 377.6L347.2 375.6L350.9 373.5L354.2 371.3L357 369L359.3 366.6L360.6 365L361.9 362.8L362.7 360.5L363 358.7L362.9 356.1L362.1 353.6L360.6 351.3L358.8 349.3L356.1 347.2L338.7 336.1L326.7 328.8L316.2 322.9L305.7 317.6L299.7 315.1L293.6 312.9L287.8 311.2L282.8 310.1L277.9 309.5L273 309.2L268.2 309.5L263.4 310.2L259.5 311.2L256.4 312.3L251.7 314.4L246.7 317.4L243.4 319.7L240.3 322.3L235.8 326.6L230.2 332.9L224.7 340.2L220.4 346.9L216 354.3L211.8 362.3L207.6 370.9L206.7 372.7L206.4 373.9L206.5 375.2L207 376.4L207.8 377.7L209 378.8L210.5 379.9L213 381.3L218.1 383.4z" fill="#ff2d00" stroke="#ff2d00"/><path d="M209.6 366.7L216 354.3L222.5 343.5L229.1 334.3L235.8 326.6L240.1 322.4L242.6 320.4L246.7 317.4L249.9 315.4L254.1 313.3L258.7 311.5L262.7 310.4L265.8 309.8L269 309.4L273 309.2L277.9 309.5L281.4 309.9L285.3 310.6L290.3 311.8L295.3 313.4L299.7 315.1L308.7 319L320.7 325.3L332.7 332.4L349 342.6L346.5 341.2L343.9 340.1L338 338.1L331.3 336.8L323.8 336L315.1 335.7L306.9 336L297.7 336.9L287.2 338.4L275.6 340.7L261 344.2L247.8 348L235.6 352.1L226.2 355.8L221.8 357.8L217.6 359.9L214.3 361.9L212.3 363.4L210.7 365L209.6 366.7z" fill="#ff1b00" stroke="#ff1b00"/><path d="M217.7 376.4L225 378.7L234.4 380.8L244.7 382.2L257.3 383.2L270.4 383.4L281.6 383.1L294.1 382L307.2 380.1L318.2 377.7L327.7 375L335.8 371.9L340 369.9L343.8 367.9L347.2 365.7L350 363.4L352.4 361L353.7 359.4L355.1 356.8L355.7 354.9L355.9 353L355.8 351.1L355.1 348.9L353.8 346.9L352.3 345.1L349.6 343L335.3 334L323.7 327L313.6 321.5L303.1 316.5L297.9 314.4L292.8 312.6L287.5 311.1L281.4 309.9L277.9 309.5L272.1 309.2L268.2 309.5L263.4 310.2L258.7 311.5L253.1 313.7L247.1 317.1L243.4 319.7L238.1 324.4L233.6 329L229.1 334.3L224.7 340.2L220.4 346.9L216.5 353.5L211.8 362.3L209.2 367.8L209 368.8L209.3 370.1L209.7 371L210.7 372.2L212 373.3L213.6 374.4L217.7 376.4z" fill="#ff1b00" stroke="#ff1b00"/><path d="M212.7 360.5L212.7 360.6L218.2 350.5L224.7 340.2L231.3 331.5L233.6 329L238.1 324.4L240.3 322.3L244.8 318.7L247.1 317.1L251.7 314.4L256.3 312.3L258.7 311.5L262.7 310.4L265.8 309.8L269 309.4L273 309.2L277.9 309.5L281.4 309.9L285.3 310.6L290.3 311.8L297.9 314.4L308.3 318.8L317.7 323.7L329.7 330.5L341.6 338L337.5 336L331.5 334.2L324.7 332.9L318.3 332.3L311.8 332.2L302.9 332.5L295 333.2L284.5 334.7L272.9 337L260.4 340L247.8 343.7L236.8 347.4L228.5 350.6L221.1 354.1L215.9 357.3L214.1 358.8L212.7 360.5z" fill="#ff0900" stroke="#ff0900"/><path d="M226.9 372.5L234.9 374.2L245.1 375.6L257.3 376.5L266.6 376.6L278 376.3L287.6 375.5L298.6 374.1L308.1 372.3L316.4 370.3L325.4 367.5L332.9 364.3L339.1 360.8L342.2 358.6L344 357L346.8 353.8L347.8 352L348.5 350.3L348.8 348.4L348.7 346.2L348 344L346.7 342.1L345.1 340.4L343.1 338.9L329.8 330.6L320.7 325.3L310.9 320.1L302.7 316.3L296.7 313.9L290.6 311.9L285.3 310.6L281.4 309.9L277.9 309.5L272.1 309.2L268.2 309.5L263.4 310.2L259.5 311.2L256.4 312.3L251.7 314.4L246.7 317.4L243.4 319.7L240.1 322.4L236.9 325.5L233.6 329L229.1 334.3L223.4 342.2L218.2 350.5L212.3 361.3L211.8 363.2L212.2 364.6L212.6 365.4L213.6 366.6L215 367.7L216.8 368.8L221.2 370.7L226.9 372.5z" fill="#ff0900" stroke="#ff0900"/><path class="k" d="M226.9 372.5L234.9 374.2L245.1 375.6L257.3 376.5L266.6 376.6L278 376.3L287.6 375.5L298.6 374.1L308.1 372.3L316.4 370.3L325.4 367.5L332.9 364.3L336.8 362.2L339.1 360.8L342.2 358.6L344 357L345.5 355.4L346.8 353.8L347.8 352L348.5 350.3L348.8 348.4L348.7 346.2L348 344L347.2 342.7L346.2 341.5L343.9 339.4L340.9 337.5L337.6 336.1L333.6 334.7L328.2 333.5L323.5 332.8L318.3 332.3L311.8 332.2L306.3 332.3L301 332.6L295 333.2L287 334.3L272.9 337L264.5 339L256.5 341.1L247.8 343.7L238.5 346.8L230.4 349.8L224 352.6L219 355.2L215.9 357.3L213.6 359.3L212.3 361.3L211.9 362.3L211.8 363.2L212 364.2L212.6 365.4L213.6 366.6L215 367.7L218.1 369.5L222 371L226.9 372.5"/><path d="M216.2 354.3L215.7 355L220.4 346.9L226.9 337.2L230.2 332.9L233.5 329L236.9 325.5L240.1 322.4L243.4 319.7L246.7 317.4L249.9 315.4L253.1 313.7L256.3 312.3L259.5 311.2L265.8 309.8L269 309.4L273 309.2L280.3 309.7L287.5 311.1L295.3 313.4L303.1 316.5L313.6 321.5L323.7 327L335.3 334L331 332L326 330.5L320.4 329.5L314.1 328.8L306.9 328.7L298.5 329L289.6 329.9L281.9 331.1L272.5 332.9L261.9 335.4L252.2 338L239.7 342.1L231.7 345.1L224.5 348.4L219.5 351.4L217.4 353L216.2 354.3z" fill="#f60000" stroke="#f60000"/><path d="M225.5 365.2L233.2 367.1L242.5 368.6L252.9 369.5L262.8 369.8L274.5 369.5L284.1 368.7L292.5 367.7L302.2 366L310.7 364L319.7 361.2L325.8 358.7L332.2 355.2L335.4 353L337.2 351.5L338.7 349.9L340 348.2L340.9 346.5L341.6 344.7L341.8 342.9L341.6 341.3L340.8 339.2L339.6 337.4L337.9 335.8L335.7 334.2L324.3 327.4L316.2 322.9L308.3 318.8L299.7 315.1L295.3 313.4L290.3 311.8L285.3 310.6L280.3 309.7L275.4 309.3L272.1 309.2L268.2 309.5L263.4 310.2L258.7 311.5L253.1 313.7L247.1 317.1L243.4 319.7L238.1 324.4L233.6 329L229.1 334.3L224.7 340.2L220.4 346.9L216.5 353.5L215.1 356L214.8 357.6L215.4 359.4L216 360.2L217.3 361.4L220.2 363.1L225.5 365.2z" fill="#f60000" stroke="#f60000"/><path d="M219.1 349L219 349.2L223.4 342.2L229.1 334.3L233.6 329L236.9 325.5L240.3 322.3L243.4 319.7L246.7 317.4L249.9 315.4L253.1 313.7L256.3 312.3L259.5 311.2L265.8 309.8L272.1 309.2L278.3 309.5L285.3 310.6L292.8 312.6L300.5 315.4L308.7 319L317.7 323.7L328.5 329.9L325.3 328.4L320.4 326.9L314.8 325.9L308.6 325.3L301 325.3L294.2 325.6L287.2 326.3L279.4 327.5L270.1 329.3L259.6 331.8L250 334.5L241.2 337.4L233.1 340.4L226.1 343.7L222 346.3L220.1 347.9L219.1 349z" fill="#e50000" stroke="#e50000"/><path d="M226.7 358.5L233 360.2L240.4 361.5L247.9 362.3L258.9 362.9L270.9 362.7L280.6 362L289 360.9L298.6 359.2L306.9 357.2L314 354.9L320.1 352.4L325.3 349.6L329.4 346.7L331.1 345.1L332.5 343.5L333.6 341.8L334.3 340L334.6 338.1L334.4 336.5L333.9 335L332.8 333.3L331.3 331.7L329.3 330.3L320.7 325.3L311.7 320.5L303.1 316.5L296.7 313.9L292.8 312.6L287.5 311.1L282.8 310.1L278.3 309.5L275.2 309.3L270.6 309.3L265.8 309.8L263.4 310.2L258.7 311.5L254.1 313.3L249.4 315.7L244.8 318.7L240.3 322.3L236.9 325.5L233.5 329L229.1 334.3L222.5 343.5L218.6 349.9L218.1 351.5L218.1 352.4L218.5 353.3L219.8 355L222.4 356.8L226.7 358.5z" fill="#e50000" stroke="#e50000"/><path d="M223 342.9L222.6 343.4L226.9 337.2L230.2 332.9L233.5 329L238.1 324.4L243.4 319.7L249.4 315.7L254.1 313.3L259.5 311.2L265.8 309.8L272.1 309.2L277.9 309.5L284.5 310.4L290.6 311.9L297.9 314.4L305.7 317.6L313.6 321.5L321.8 325.9L318.5 324.5L313.6 323.1L309 322.4L303.8 322L298.2 321.9L291 322.2L285 322.8L277.1 323.9L267.8 325.7L259.4 327.7L250.8 330.1L242.7 332.7L236.3 335.2L230.3 337.9L226.2 340.3L224.7 341.4L223 342.9z" fill="#d30000" stroke="#d30000"/><path d="M229.3 352.2L235.3 353.7L241.5 354.8L248.9 355.6L259 356L267.1 355.8L277 355.2L285.4 354.1L292.7 352.9L299.1 351.4L306.6 349.2L313 346.7L318.3 344L322.5 341.1L324.2 339.5L325.6 337.9L326.6 336.1L327 334.9L327.3 333.4L327.1 331.8L326.6 330.3L325.5 328.8L324.5 327.7L322.5 326.4L314.7 322.1L308.3 318.8L302.7 316.3L295.3 313.4L287.5 311.1L282.8 310.1L278.3 309.5L275.2 309.3L270.6 309.3L265.8 309.8L263.4 310.2L258.7 311.5L254.1 313.3L249.9 315.4L246.7 317.4L242.6 320.4L238.1 324.4L233.6 329L230.2 332.9L226.8 337.3L223.2 342.5L221.9 344.6L221.6 345.7L221.6 346.7L222 347.6L223.4 349.2L225.6 350.6L229.3 352.2z" fill="#d30000" stroke="#d30000"/><path d="M226.8 337.4L231.3 331.5L235.8 326.6L240.3 322.3L244.8 318.7L249.4 315.7L254.1 313.3L259.5 311.2L265.8 309.8L270.6 309.3L275.4 309.3L281.4 309.9L287.5 311.1L293.6 312.9L299.7 315.1L305.7 317.6L314 321.7L310.6 320.4L306.4 319.5L301.6 318.9L297.4 318.7L291.4 318.7L286.1 319L280.3 319.7L272.6 320.8L265.7 322.2L257.4 324.2L249.8 326.4L242.9 328.8L236.7 331.2L232.6 333.2L229.1 335.4L226.8 337.4z" fill="#c10000" stroke="#c10000"/><path d="M235 346.5L240.3 347.6L248.4 348.6L254.2 348.9L262.9 348.9L270 348.6L276.2 348L284.2 346.9L291.1 345.6L297.2 344L302.5 342.3L308.6 339.8L312.4 337.7L314.5 336.2L316.4 334.7L318.5 332.2L319.4 330.5L319.6 329.6L319.6 327.3L319.2 326L317.9 324.4L316.2 323L314.7 322.1L308.7 319L302.7 316.3L296.7 313.9L290.6 311.9L282.8 310.1L275.4 309.3L269 309.4L262.7 310.4L258.7 311.5L253.1 313.7L249.4 315.7L244.8 318.7L240.3 322.3L236.9 325.5L233.5 329L229.1 334.3L225.9 338.7L225.5 340.3L225.8 341.5L226.6 342.6L228.4 344L231.2 345.3L235 346.5z" fill="#c10000" stroke="#c10000"/><path d="M231.9 331L231.1 331.8L233.6 329L238.1 324.4L242.6 320.4L247.1 317.1L251.7 314.4L256.3 312.3L261.1 310.8L265.8 309.8L270.6 309.3L275.2 309.3L280.3 309.7L284.5 310.4L290.3 311.8L295.3 313.4L300.5 315.4L305.9 317.8L302.1 316.6L298.8 316.1L295 315.7L290.7 315.5L281.7 316L270.9 317.4L259.8 319.8L253.9 321.4L246.7 323.6L241.9 325.5L237.5 327.4L234.4 329.2L231.9 331z" fill="#af0000" stroke="#af0000"/><path d="M233.5 338.2L236.9 339.5L242.1 340.6L247.4 341.4L253.7 341.8L262.1 341.8L269 341.4L275 340.8L282.6 339.6L289.2 338.2L294.8 336.5L299.7 334.7L303.9 332.7L307.3 330.5L310 328L311.5 325.6L311.8 324.4L311.7 323L311.2 321.7L310.3 320.5L308.9 319.3L307.5 318.5L302.7 316.3L296.7 313.9L287.8 311.2L281.4 309.9L275.2 309.3L269 309.4L263.4 310.2L259.5 311.2L256.4 312.3L253.1 313.7L249.9 315.4L246.7 317.4L243.4 319.7L238.1 324.4L231.5 331.3L230.6 332.5L230.1 333.5L230 334.7L230.6 336.1L231.8 337.2L233.5 338.2z" fill="#af0000" stroke="#af0000"/><path class="k" d="M233.5 338.2L236.9 339.5L242.1 340.6L247.4 341.4L253.7 341.8L262.1 341.8L269 341.4L275 340.8L282.6 339.6L289.2 338.2L294.8 336.5L299.7 334.7L303.9 332.7L307.3 330.5L309.1 329L310 328L311.1 326.5L311.5 325.6L311.8 324.4L311.7 323L311.2 321.7L310.3 320.5L308.9 319.3L307.5 318.5L305.9 317.8L303.1 316.9L297.6 315.9L292.2 315.6L285 315.7L276.2 316.6L268.5 317.9L258 320.2L248.4 323.1L240.4 326.1L235 328.8L232.8 330.3L231.1 331.8L230.3 333.1L230 334.2L230.2 335.5L230.9 336.5L231.8 337.2L233.5 338.2"/><path d="M237.1 325.3L240.3 322.3L244.8 318.7L247.1 317.1L251.7 314.4L256.3 312.3L258.7 311.5L262.7 310.4L265.8 309.8L269 309.4L273 309.2L277.9 309.5L281.4 309.9L285.3 310.6L290.3 311.8L297.9 314.4L295 313.6L292.8 313.2L289 312.8L285.2 312.7L277.7 313.1L268.5 314.3L258.1 316.6L249.4 319.2L244.6 321.1L241.7 322.4L239.2 323.8L237.1 325.3z" fill="#9e0000" stroke="#9e0000"/><path d="M237.4 331.2L240.6 332.5L244.7 333.5L249.8 334.2L254.5 334.4L260.5 334.5L267.4 334.1L273.2 333.4L278.2 332.6L282.6 331.7L288.5 330.1L293.3 328.3L297.4 326.2L300.5 324L302 322.4L303 320.7L303.1 319.7L303.1 318.7L302.7 317.7L302 316.7L300.9 315.8L299.3 315L292.8 312.6L285.3 310.6L278.3 309.5L273 309.2L268.2 309.5L263.4 310.2L258.7 311.5L253.1 313.7L247.1 317.1L242.6 320.4L238.1 324.3L236.3 326.1L235.5 327.2L235.2 328.3L235.5 329.3L236.1 330.2L237.4 331.2z" fill="#9e0000" stroke="#9e0000"/><path d="M244.4 319L249.3 315.7L254.1 313.3L259.5 311.2L265.8 309.8L270.6 309.3L275.4 309.3L281.4 309.9L287.8 311.2L283.2 310.5L278.9 310.4L272.7 310.7L266.4 311.6L259.3 313.2L252.9 315.1L248.2 316.9L244.4 319z" fill="#900000" stroke="#900000"/><path d="M245 325L247.4 325.7L250.8 326.3L257 326.7L264.6 326.5L270.4 325.9L275.2 325L279.4 324L283 322.9L286.2 321.6L288.8 320.3L291 318.8L292.5 317.2L292.9 316.3L293.1 314.9L293 314.3L292.2 313.3L290.4 312.1L287.5 311.1L281.4 309.9L277.9 309.5L272.1 309.2L268.2 309.5L263.4 310.2L258.7 311.5L253.1 313.7L247.2 317.1L243.5 319.7L242.2 321.4L242 322.5L242.5 323.4L242.9 323.8L245 325z" fill="#900000" stroke="#900000"/><path d="M250.7 315L250.5 315.1L254.1 313.3L258.7 311.5L262.7 310.4L265.8 309.8L269 309.4L273 309.2L280 309.7L275.8 309.5L272.2 309.7L265.2 310.6L257.1 312.5L253.7 313.7L250.7 315z" fill="#870000" stroke="#870000"/><path d="M247 320L248.5 321L250.2 321.6L252.3 322L256.3 322.4L262 322.4L265.3 322.2L270.7 321.5L277.1 320L282 318.2L284.5 316.8L285.8 315.7L286.8 314.4L287.1 313.3L286.7 312.2L285.5 311.1L283.3 310.3L281 309.8L277.9 309.5L273 309.2L269 309.4L265.8 309.8L262.7 310.4L258.7 311.5L256.3 312.3L251.8 314.4L249.1 315.8L247.4 317.2L246.8 318L246.5 318.9L247 320z" fill="#870000" stroke="#870000"/><path class="k" d="M247 320L248.5 321L250.2 321.6L252.3 322L256.3 322.4L262 322.4L265.3 322.2L270.7 321.5L277.1 320L282 318.2L284.5 316.8L285.8 315.7L286.8 314.4L287.1 313.3L286.7 312.2L285.5 311.1L283.3 310.3L281.2 309.9L277.3 309.5L274.2 309.6L270.2 309.9L265.6 310.5L261.8 311.3L257.1 312.5L253.7 313.7L250.7 315L248.3 316.4L247 317.7L246.5 318.9L247 320"/><path d="M262.8 310.3L264.2 310.1L262.8 310.3z" fill="#800000" stroke="#800000"/><path d="M252.9 315.9L254.5 316.9L257.7 317.6L260.9 317.7L267.2 317.2L271.7 316.3L275.2 315.1L276.6 314.5L278.3 313.3L279.1 312.4L279.2 311.7L279.1 311.1L278.1 310.3L275.3 309.5L271.1 309.3L265.8 309.8L261.4 310.7L258.9 311.4L255.7 312.7L253.5 314.1L252.9 314.9L252.9 315.9z" fill="#800000" stroke="#800000"/></g>
<text x="64.0" y="394.5" font-family='"Liberation Sans","DejaVu Sans",sans-serif' font-size="15.5" fill="#404040" text-anchor="end" >0.5</text>
<text x="64.0" y="444.7" font-family='"Liberation Sans","DejaVu Sans",sans-serif' font-size="15.5" fill="#404040" text-anchor="end" >0.4</text>
<text x="64.0" y="494.8" font-family='"Liberation Sans","DejaVu Sans",sans-serif' font-size="15.5" fill="#404040" text-anchor="end" >0.3</text>
<text x="64.0" y="545.0" font-family='"Liberation Sans","DejaVu Sans",sans-serif' font-size="15.5" fill="#404040" text-anchor="end" >0.2</text>
<text x="64.0" y="595.0" font-family='"Liberation Sans","DejaVu Sans",sans-serif' font-size="15.5" fill="#404040" text-anchor="end" >0.1</text>
<text x="115.9" y="676.1" font-family='"Liberation Sans","DejaVu Sans",sans-serif' font-size="15.5" fill="#404040" text-anchor="middle" >0.5</text>
<text x="187.0" y="688.8" font-family='"Liberation Sans","DejaVu Sans",sans-serif' font-size="15.5" fill="#404040" text-anchor="middle" >1</text>
<text x="241.4" y="705.1" font-family='"Liberation Sans","DejaVu Sans",sans-serif' font-size="15.5" fill="#404040" text-anchor="middle" >1.5</text>
<text x="312.5" y="719.3" font-family='"Liberation Sans","DejaVu Sans",sans-serif' font-size="15.5" fill="#404040" text-anchor="middle" >2</text>
<text x="370.0" y="733.6" font-family='"Liberation Sans","DejaVu Sans",sans-serif' font-size="15.5" fill="#404040" text-anchor="middle" >2.5</text>
<text x="438.6" y="748.3" font-family='"Liberation Sans","DejaVu Sans",sans-serif' font-size="15.5" fill="#404040" text-anchor="middle" >3</text>
<text x="497.0" y="761.5" font-family='"Liberation Sans","DejaVu Sans",sans-serif' font-size="15.5" fill="#404040" text-anchor="middle" >3.5</text>
<text x="568.0" y="775.2" font-family='"Liberation Sans","DejaVu Sans",sans-serif' font-size="15.5" fill="#404040" text-anchor="middle" >4</text>
<text x="687.3" y="745.7" font-family='"Liberation Sans","DejaVu Sans",sans-serif' font-size="15.5" fill="#404040" text-anchor="middle" >1</text>
<text x="767.4" y="717.3" font-family='"Liberation Sans","DejaVu Sans",sans-serif' font-size="15.5" fill="#404040" text-anchor="middle" >2</text>
<text x="848.0" y="687.3" font-family='"Liberation Sans","DejaVu Sans",sans-serif' font-size="15.5" fill="#404040" text-anchor="middle" >3</text>
<text x="929.4" y="658.0" font-family='"Liberation Sans","DejaVu Sans",sans-serif' font-size="15.5" fill="#404040" text-anchor="middle" >4</text>
<text x="1010.0" y="626.7" font-family='"Liberation Sans","DejaVu Sans",sans-serif' font-size="15.5" fill="#404040" text-anchor="middle" >5</text>
<text transform="translate(27.5,481) rotate(-90)" font-family='"Liberation Serif","DejaVu Serif",serif' font-style="italic" font-size="21" text-anchor="middle" textLength="162" lengthAdjust="spacingAndGlyphs" fill="#222">Performance Index</text>
<text x="290.4" y="741.6" font-family='"Liberation Serif","DejaVu Serif",serif' font-size="18.3" fill="#222">B</text>
<text x="291.5" y="732.1" font-family='"Liberation Serif","DejaVu Serif",serif' font-size="17.385" fill="#222">~</text>
<text x="302.1" y="745.3" font-family='"Liberation Serif","DejaVu Serif",serif' font-size="12.81" font-weight="bold" fill="#222">P</text>
<text x="809.0" y="718.0" font-family='"Liberation Serif","DejaVu Serif",serif' font-size="18" fill="#222">C</text>
<text x="810.1" y="708.6" font-family='"Liberation Serif","DejaVu Serif",serif' font-size="17.099999999999998" fill="#222">~</text>
<text x="820.5" y="721.6" font-family='"Liberation Serif","DejaVu Serif",serif' font-size="12.6" font-weight="bold" fill="#222">P</text>
<defs><linearGradient id="jet" x1="0" y1="0" x2="0" y2="1"><stop offset="0.0000" stop-color="#800000"/><stop offset="0.0156" stop-color="#8f0000"/><stop offset="0.0312" stop-color="#9f0000"/><stop offset="0.0469" stop-color="#af0000"/><stop offset="0.0625" stop-color="#bf0000"/><stop offset="0.0781" stop-color="#cf0000"/><stop offset="0.0938" stop-color="#df0000"/><stop offset="0.1094" stop-color="#ef0000"/><stop offset="0.1250" stop-color="#ff0000"/><stop offset="0.1406" stop-color="#ff1000"/><stop offset="0.1562" stop-color="#ff2000"/><stop offset="0.1719" stop-color="#ff3000"/><stop offset="0.1875" stop-color="#ff4000"/><stop offset="0.2031" stop-color="#ff5000"/><stop offset="0.2188" stop-color="#ff6000"/><stop offset="0.2344" stop-color="#ff7000"/><stop offset="0.2500" stop-color="#ff8000"/><stop offset="0.2656" stop-color="#ff8f00"/><stop offset="0.2812" stop-color="#ff9f00"/><stop offset="0.2969" stop-color="#ffaf00"/><stop offset="0.3125" stop-color="#ffbf00"/><stop offset="0.3281" stop-color="#ffcf00"/><stop offset="0.3438" stop-color="#ffdf00"/><stop offset="0.3594" stop-color="#ffef00"/><stop offset="0.3750" stop-color="#ffff00"/><stop offset="0.3906" stop-color="#efff10"/><stop offset="0.4062" stop-color="#dfff20"/><stop offset="0.4219" stop-color="#cfff30"/><stop offset="0.4375" stop-color="#bfff40"/><stop offset="0.4531" stop-color="#afff50"/><stop offset="0.4688" stop-color="#9fff60"/><stop offset="0.4844" stop-color="#8fff70"/><stop offset="0.5000" stop-color="#80ff80"/><stop offset="0.5156" stop-color="#70ff8f"/><stop offset="0.5312" stop-color="#60ff9f"/><stop offset="0.5469" stop-color="#50ffaf"/><stop offset="0.5625" stop-color="#40ffbf"/><stop offset="0.5781" stop-color="#30ffcf"/><stop offset="0.5938" stop-color="#20ffdf"/><stop offset="0.6094" stop-color="#10ffef"/><stop offset="0.6250" stop-color="#00ffff"/><stop offset="0.6406" stop-color="#00efff"/><stop offset="0.6562" stop-color="#00dfff"/><stop offset="0.6719" stop-color="#00cfff"/><stop offset="0.6875" stop-color="#00bfff"/><stop offset="0.7031" stop-color="#00afff"/><stop offset="0.7188" stop-color="#009fff"/><stop offset="0.7344" stop-color="#008fff"/><stop offset="0.7500" stop-color="#0080ff"/><stop offset="0.7656" stop-color="#0070ff"/><stop offset="0.7812" stop-color="#0060ff"/><stop offset="0.7969" stop-color="#0050ff"/><stop offset="0.8125" stop-color="#0040ff"/><stop offset="0.8281" stop-color="#0030ff"/><stop offset="0.8438" stop-color="#0020ff"/><stop offset="0.8594" stop-color="#0010ff"/><stop offset="0.8750" stop-color="#0000ff"/><stop offset="0.8906" stop-color="#0000ef"/><stop offset="0.9062" stop-color="#0000df"/><stop offset="0.9219" stop-color="#0000cf"/><stop offset="0.9375" stop-color="#0000bf"/><stop offset="0.9531" stop-color="#0000af"/><stop offset="0.9688" stop-color="#00009f"/><stop offset="0.9844" stop-color="#00008f"/><stop offset="1.0000" stop-color="#000080"/></linearGradient></defs>
<rect x="1029.3" y="214.0" width="21.5" height="545.3" fill="url(#jet)" stroke="#3c3c3c" stroke-width="0.8"/>
<text x="1056.5" y="727.4" font-family='"Liberation Sans","DejaVu Sans",sans-serif' font-size="15.5" fill="#404040" text-anchor="start" >0.05</text>
<text x="1056.5" y="679.7" font-family='"Liberation Sans","DejaVu Sans",sans-serif' font-size="15.5" fill="#404040" text-anchor="start" >0.1</text>
<text x="1056.5" y="632.0" font-family='"Liberation Sans","DejaVu Sans",sans-serif' font-size="15.5" fill="#404040" text-anchor="start" >0.15</text>
<text x="1056.5" y="584.3" font-family='"Liberation Sans","DejaVu Sans",sans-serif' font-size="15.5" fill="#404040" text-anchor="start" >0.2</text>
<text x="1056.5" y="536.6" font-family='"Liberation Sans","DejaVu Sans",sans-serif' font-size="15.5" fill="#404040" text-anchor="start" >0.25</text>
<text x="1056.5" y="488.9" font-family='"Liberation Sans","DejaVu Sans",sans-serif' font-size="15.5" fill="#404040" text-anchor="start" >0.3</text>
<text x="1056.5" y="441.2" font-family='"Liberation Sans","DejaVu Sans",sans-serif' font-size="15.5" fill="#404040" text-anchor="start" >0.35</text>
<text x="1056.5" y="393.5" font-family='"Liberation Sans","DejaVu Sans",sans-serif' font-size="15.5" fill="#404040" text-anchor="start" >0.4</text>
<text x="1056.5" y="345.8" font-family='"Liberation Sans","DejaVu Sans",sans-serif' font-size="15.5" fill="#404040" text-anchor="start" >0.45</text>
<text x="1056.5" y="298.1" font-family='"Liberation Sans","DejaVu Sans",sans-serif' font-size="15.5" fill="#404040" text-anchor="start" >0.5</text>
<text x="1056.5" y="250.4" font-family='"Liberation Sans","DejaVu Sans",sans-serif' font-size="15.5" fill="#404040" text-anchor="start" >0.55</text>
<path d="M1050.8 722.1h-4M1050.8 674.4h-4M1050.8 626.7h-4M1050.8 579.0h-4M1050.8 531.3h-4M1050.8 483.6h-4M1050.8 435.9h-4M1050.8 388.2h-4M1050.8 340.5h-4M1050.8 292.8h-4M1050.8 245.1h-4" stroke="#3c3c3c" stroke-width="1" fill="none"/>
<path d="M236.0 267.0L262.6 302.6" stroke="#9c9c9c" stroke-width="1.5" fill="none"/>
<path d="M270.4 313.0L258.6 305.6L266.6 299.6z" fill="#ababab"/>
<path d="M537.0 268.0L479.7 407.5" stroke="#9c9c9c" stroke-width="1.5" fill="none"/>
<path d="M474.8 419.5L475.1 405.6L484.4 409.4z" fill="#ababab"/>
<path d="M872.0 268.0L635.0 471.5" stroke="#9c9c9c" stroke-width="1.5" fill="none"/>
<path d="M625.1 480.0L631.7 467.7L638.2 475.3z" fill="#ababab"/>
<text x="197.8" y="289.5" font-family='"Liberation Serif","DejaVu Serif",serif' font-size="18.5" fill="#222" text-anchor="start" font-style="italic" textLength="91.0" lengthAdjust="spacingAndGlyphs">P.I=58.14%</text>
<text x="456.0" y="335.3" font-family='"Liberation Serif","DejaVu Serif",serif' font-size="18.5" fill="#222" text-anchor="start" font-style="italic" textLength="70.5" lengthAdjust="spacingAndGlyphs">P.I.=35%</text>
<text x="700.0" y="374.0" font-family='"Liberation Serif","DejaVu Serif",serif' font-size="18.5" fill="#222" text-anchor="start" font-style="italic" textLength="71.0" lengthAdjust="spacingAndGlyphs">P.I.=25%</text>
<text x="254.3" y="348.9" font-family='"Liberation Serif","DejaVu Serif",serif' font-size="17" fill="#fff" text-anchor="start" font-style="italic" textLength="29.5" lengthAdjust="spacingAndGlyphs">0.55</text>
<text x="258.9" y="383.8" font-family='"Liberation Serif","DejaVu Serif",serif' font-size="17" fill="#fff" text-anchor="start" font-style="italic" textLength="30.0" lengthAdjust="spacingAndGlyphs">0.50</text>
<text x="264.5" y="418.0" font-family='"Liberation Serif","DejaVu Serif",serif' font-size="17" fill="#402020" text-anchor="start" font-style="italic" textLength="30.0" lengthAdjust="spacingAndGlyphs" fill-opacity="0.8">0.45</text>
<text x="283.9" y="454.4" font-family='"Liberation Serif","DejaVu Serif",serif' font-size="17" fill="#403010" text-anchor="start" font-style="italic" textLength="30.0" lengthAdjust="spacingAndGlyphs" fill-opacity="0.8">0.40</text>
<text x="301.5" y="488.7" font-family='"Liberation Serif","DejaVu Serif",serif' font-size="17" fill="#304010" text-anchor="start" font-style="italic" textLength="30.0" lengthAdjust="spacingAndGlyphs" fill-opacity="0.8">0.35</text>
<text x="323.6" y="529.4" font-family='"Liberation Serif","DejaVu Serif",serif' font-size="17" fill="#204020" text-anchor="start" font-style="italic" textLength="30.0" lengthAdjust="spacingAndGlyphs" fill-opacity="0.8">0.30</text>
<text x="378.7" y="577.5" font-family='"Liberation Serif","DejaVu Serif",serif' font-size="17" fill="#104030" text-anchor="start" font-style="italic" textLength="31.0" lengthAdjust="spacingAndGlyphs" fill-opacity="0.8">0.25</text>
<text x="506.5" y="632.0" font-family='"Liberation Serif","DejaVu Serif",serif' font-size="17" fill="#104050" text-anchor="start" font-style="italic" textLength="30.0" lengthAdjust="spacingAndGlyphs" fill-opacity="0.8">0.20</text>
<text x="525.3" y="467.2" font-family='"Liberation Serif","DejaVu Serif",serif' font-size="17" fill="#204020" text-anchor="start" font-style="italic" textLength="30.5" lengthAdjust="spacingAndGlyphs" fill-opacity="0.8">0.30</text>
<text x="708.9" y="490.7" font-family='"Liberation Serif","DejaVu Serif",serif' font-size="17" fill="#104050" text-anchor="start" font-style="italic" textLength="32.0" lengthAdjust="spacingAndGlyphs" fill-opacity="0.8">0.20</text>
<text x="906.7" y="518.0" font-family='"Liberation Serif","DejaVu Serif",serif' font-size="17" fill="#222" text-anchor="start" font-style="italic" textLength="31.0" lengthAdjust="spacingAndGlyphs">0.15</text>
<rect x="21.8" y="13.9" width="329.4" height="252.9" fill="#fff" stroke="#2e2e2e" stroke-width="1.3"/>
<path d="M77.8 51.4V200.4M91.2 51.4V200.4M104.6 51.4V200.4M118.0 51.4V200.4M144.9 51.4V200.4M158.3 51.4V200.4M171.7 51.4V200.4M185.1 51.4V200.4M211.9 51.4V200.4M225.3 51.4V200.4M238.7 51.4V200.4M252.1 51.4V200.4M279.0 51.4V200.4M292.4 51.4V200.4M305.8 51.4V200.4M319.2 51.4V200.4M64.4 194.4H332.6M64.4 188.5H332.6M64.4 182.5H332.6M64.4 176.6H332.6M64.4 164.6H332.6M64.4 158.7H332.6M64.4 152.7H332.6M64.4 146.8H332.6M64.4 134.8H332.6M64.4 128.9H332.6M64.4 122.9H332.6M64.4 117.0H332.6M64.4 105.0H332.6M64.4 99.1H332.6M64.4 93.1H332.6M64.4 87.2H332.6M64.4 75.2H332.6M64.4 69.3H332.6M64.4 63.3H332.6M64.4 57.4H332.6" stroke="#ebebeb" stroke-width="1" fill="none"/>
<path d="M64.4 51.4V200.4M131.5 51.4V200.4M198.5 51.4V200.4M265.6 51.4V200.4M332.6 51.4V200.4M64.4 200.4H332.6M64.4 170.6H332.6M64.4 140.8H332.6M64.4 111.0H332.6M64.4 81.2H332.6M64.4 51.4H332.6" stroke="#cfcfcf" stroke-width="1" fill="none"/>
<path d="M64.4 200.4L66.1 200.3L67.8 200.0L69.4 199.8L71.1 199.5L72.8 199.2L74.5 198.9L76.1 198.6L77.8 198.2L79.5 197.8L81.2 197.4L82.8 197.0L84.5 196.6L86.2 196.1L87.9 195.6L89.5 195.0L91.2 194.4L92.9 193.8L94.6 193.1L96.2 192.4L97.9 191.6L99.6 190.8L101.3 189.9L103.0 188.9L104.6 187.9L106.3 186.7L108.0 185.5L109.7 184.1L111.3 182.6L113.0 181.0L114.7 179.2L116.4 177.2L118.0 175.0L119.7 172.6L121.4 170.0L123.1 167.0L124.7 163.7L126.4 160.1L128.1 156.0L129.8 151.6L131.5 146.6L133.1 141.1L134.8 135.1L136.5 128.6L138.2 121.5L139.8 114.0L141.5 106.2L143.2 98.2L144.9 90.3L146.5 82.8L148.2 76.1L149.9 70.6L151.6 66.7L153.2 64.6L154.9 64.4L156.6 66.1L158.3 69.5L159.9 74.3L161.6 79.9L163.3 86.2L165.0 93.0L166.7 99.9L168.3 106.8L170.0 113.6L171.7 120.1L173.4 126.3L175.0 132.1L176.7 137.4L178.4 142.3L180.1 146.8L181.7 150.9L183.4 154.6L185.1 158.0L186.8 161.1L188.4 163.9L190.1 166.5L191.8 168.8L193.5 171.0L195.1 172.9L196.8 174.7L198.5 176.3L200.2 177.8L201.9 179.1L203.5 180.4L205.2 181.5L206.9 182.6L208.6 183.6L210.2 184.5L211.9 185.3L213.6 186.1L215.3 186.9L216.9 187.5L218.6 188.2L220.3 188.7L222.0 189.3L223.6 189.8L225.3 190.3L227.0 190.7L228.7 191.2L230.3 191.6L232.0 191.9L233.7 192.3L235.4 192.6L237.1 192.9L238.7 193.2L240.4 193.5L242.1 193.8L243.8 194.0L245.4 194.2L247.1 194.5L248.8 194.7L250.5 194.9L252.1 195.1L253.8 195.3L255.5 195.4L257.2 195.6L258.8 195.8L260.5 195.9L262.2 196.1L263.9 196.2L265.6 196.3L267.2 196.5L268.9 196.6L270.6 196.7L272.3 196.8L273.9 196.9L275.6 197.0L277.3 197.1L279.0 197.2L280.6 197.3L282.3 197.4L284.0 197.5L285.7 197.5L287.3 197.6L289.0 197.7L290.7 197.8L292.4 197.8L294.0 197.9L295.7 198.0L297.4 198.0L299.1 198.1L300.8 198.1L302.4 198.2L304.1 198.2L305.8 198.3L307.5 198.3L309.1 198.4L310.8 198.4L312.5 198.5L314.2 198.5L315.8 198.6L317.5 198.6L319.2 198.7L320.9 198.7L322.5 198.7L324.2 198.8L325.9 198.8L327.6 198.8L329.2 198.9L330.9 198.9L332.6 198.9" stroke="#000" stroke-width="2.6" fill="none" stroke-linejoin="round" stroke-linecap="round"/>
<text x="47.4" y="205.2" font-family='"Liberation Sans","DejaVu Sans",sans-serif' font-size="15.6" fill="#1a1a1a" text-anchor="end" >0</text>
<text x="47.4" y="175.4" font-family='"Liberation Sans","DejaVu Sans",sans-serif' font-size="15.6" fill="#1a1a1a" text-anchor="end" >0.2</text>
<text x="47.4" y="145.6" font-family='"Liberation Sans","DejaVu Sans",sans-serif' font-size="15.6" fill="#1a1a1a" text-anchor="end" >0.4</text>
<text x="47.4" y="115.8" font-family='"Liberation Sans","DejaVu Sans",sans-serif' font-size="15.6" fill="#1a1a1a" text-anchor="end" >0.6</text>
<text x="47.4" y="86.0" font-family='"Liberation Sans","DejaVu Sans",sans-serif' font-size="15.6" fill="#1a1a1a" text-anchor="end" >0.8</text>
<text x="47.4" y="56.2" font-family='"Liberation Sans","DejaVu Sans",sans-serif' font-size="15.6" fill="#1a1a1a" text-anchor="end" >1</text>
<text x="64.4" y="228.9" font-family='"Liberation Sans","DejaVu Sans",sans-serif' font-size="15.6" fill="#1a1a1a" text-anchor="middle" >0</text>
<text x="131.5" y="228.9" font-family='"Liberation Sans","DejaVu Sans",sans-serif' font-size="15.6" fill="#1a1a1a" text-anchor="middle" >1</text>
<text x="198.5" y="228.9" font-family='"Liberation Sans","DejaVu Sans",sans-serif' font-size="15.6" fill="#1a1a1a" text-anchor="middle" >2</text>
<text x="265.6" y="228.9" font-family='"Liberation Sans","DejaVu Sans",sans-serif' font-size="15.6" fill="#1a1a1a" text-anchor="middle" >3</text>
<text x="332.6" y="228.9" font-family='"Liberation Sans","DejaVu Sans",sans-serif' font-size="15.6" fill="#1a1a1a" text-anchor="middle" >4</text>
<text x="121.7" y="38.5" font-family='"Liberation Serif","DejaVu Serif",serif' font-style="italic" font-size="20.5" fill="#111" stroke="#111" stroke-width="0.25" textLength="116.5" lengthAdjust="spacingAndGlyphs">Performance -</text>
<text x="247.2" y="38.5" font-family='"Liberation Serif","DejaVu Serif",serif' font-style="italic" font-size="18.5" fill="#111" stroke="#111" stroke-width="0.2" textLength="13.8" lengthAdjust="spacingAndGlyphs">ω</text>
<text x="252.0" y="29.1" font-family='"Liberation Serif","DejaVu Serif",serif' font-size="9.5" fill="#111" stroke="#111" stroke-width="0.2">^</text>
<text x="144.4" y="251.9" font-family='"Liberation Serif","DejaVu Serif",serif' font-style="italic" font-size="19" fill="#111" stroke="#111" stroke-width="0.2" textLength="14" lengthAdjust="spacingAndGlyphs">ω</text>
<text x="149.4" y="243.3" font-family='"Liberation Serif","DejaVu Serif",serif' font-size="9.5" fill="#111" stroke="#111" stroke-width="0.2">^</text>
<text x="161.4" y="251.9" font-family='"Liberation Serif","DejaVu Serif",serif' font-size="17" fill="#111">=</text>
<text x="175.4" y="251.9" font-family='"Liberation Serif","DejaVu Serif",serif' font-style="italic" font-size="19" fill="#111" stroke="#111" stroke-width="0.2" textLength="13.6" lengthAdjust="spacingAndGlyphs">ω</text>
<text transform="translate(188.4,258.1) scale(0.8,1.12)" font-family='DejaVu Serif,serif' font-size="24" fill="#111">√</text>
<path d="M199.4 234.3h33" stroke="#111" stroke-width="1.4"/>
<text x="202.9" y="251.9" font-family='"Liberation Serif","DejaVu Serif",serif' font-style="italic" font-size="19.5" fill="#111" stroke="#111" stroke-width="0.2" textLength="27.5" lengthAdjust="spacingAndGlyphs">h/g</text>
<rect x="246.3" y="54.2" width="84.1" height="60.9" fill="#fff" stroke="#2e2e2e" stroke-width="1.3"/>
<text x="249.6" y="77.6" font-family='"Liberation Serif","DejaVu Serif",serif' font-size="18.6" fill="#222">B</text>
<text x="250.7" y="67.9" font-family='"Liberation Serif","DejaVu Serif",serif' font-size="17.67" fill="#222">~</text>
<text x="261.5" y="81.3" font-family='"Liberation Serif","DejaVu Serif",serif' font-size="12.276000000000002" font-weight="bold" fill="#222">P</text>
<text x="272.5" y="77.6" font-family='"Liberation Serif","DejaVu Serif",serif' font-size="18" fill="#222">=</text>
<text x="289.3" y="77.6" font-family='"Liberation Serif","DejaVu Serif",serif' font-style="italic" font-size="18.6" fill="#222" textLength="36.5" lengthAdjust="spacingAndGlyphs">0.41</text>
<text x="251.2" y="105.9" font-family='"Liberation Serif","DejaVu Serif",serif' font-size="18.6" fill="#222">C</text>
<text x="252.3" y="96.2" font-family='"Liberation Serif","DejaVu Serif",serif' font-size="17.67" fill="#222">~</text>
<text x="263.1" y="109.6" font-family='"Liberation Serif","DejaVu Serif",serif' font-size="12.276000000000002" font-weight="bold" fill="#222">P</text>
<text x="274.1" y="105.9" font-family='"Liberation Serif","DejaVu Serif",serif' font-size="18" fill="#222">=</text>
<text x="286.1" y="105.9" font-family='"Liberation Serif","DejaVu Serif",serif' font-style="italic" font-size="18.6" fill="#222" textLength="36.5" lengthAdjust="spacingAndGlyphs">1.73</text>
<rect x="357.6" y="15.0" width="326.4" height="253.0" fill="#fff" stroke="#2e2e2e" stroke-width="1.3"/>
<path d="M415.9 52.6V201.7M429.2 52.6V201.7M442.5 52.6V201.7M455.9 52.6V201.7M482.5 52.6V201.7M495.8 52.6V201.7M509.1 52.6V201.7M522.4 52.6V201.7M549.1 52.6V201.7M562.4 52.6V201.7M575.7 52.6V201.7M589.0 52.6V201.7M615.6 52.6V201.7M629.0 52.6V201.7M642.3 52.6V201.7M655.6 52.6V201.7M402.6 195.7H668.9M402.6 189.8H668.9M402.6 183.8H668.9M402.6 177.8H668.9M402.6 165.9H668.9M402.6 160.0H668.9M402.6 154.0H668.9M402.6 148.0H668.9M402.6 136.1H668.9M402.6 130.1H668.9M402.6 124.2H668.9M402.6 118.2H668.9M402.6 106.3H668.9M402.6 100.3H668.9M402.6 94.3H668.9M402.6 88.4H668.9M402.6 76.5H668.9M402.6 70.5H668.9M402.6 64.5H668.9M402.6 58.6H668.9" stroke="#ebebeb" stroke-width="1" fill="none"/>
<path d="M402.6 52.6V201.7M469.2 52.6V201.7M535.8 52.6V201.7M602.3 52.6V201.7M668.9 52.6V201.7M402.6 201.7H668.9M402.6 171.9H668.9M402.6 142.1H668.9M402.6 112.2H668.9M402.6 82.4H668.9M402.6 52.6H668.9" stroke="#cfcfcf" stroke-width="1" fill="none"/>
<path d="M402.6 201.7L404.3 201.6L405.9 201.4L407.6 201.2L409.3 201.0L410.9 200.8L412.6 200.6L414.3 200.3L415.9 200.0L417.6 199.7L419.2 199.4L420.9 199.0L422.6 198.6L424.2 198.1L425.9 197.6L427.6 197.0L429.2 196.3L430.9 195.7L432.6 194.9L434.2 194.1L435.9 193.3L437.6 192.4L439.2 191.4L440.9 190.4L442.5 189.4L444.2 188.3L445.9 187.1L447.5 185.8L449.2 184.5L450.9 183.2L452.5 181.8L454.2 180.3L455.9 178.8L457.5 177.3L459.2 175.7L460.9 174.0L462.5 172.3L464.2 170.6L465.8 168.8L467.5 166.9L469.2 165.1L470.8 163.2L472.5 161.3L474.2 159.3L475.8 157.4L477.5 155.6L479.2 153.7L480.8 152.0L482.5 150.3L484.2 148.6L485.8 147.1L487.5 145.7L489.1 144.4L490.8 143.2L492.5 142.2L494.1 141.2L495.8 140.4L497.5 139.8L499.1 139.2L500.8 138.8L502.5 138.6L504.1 138.5L505.8 138.6L507.5 138.7L509.1 139.1L510.8 139.5L512.4 140.1L514.1 140.8L515.8 141.5L517.4 142.4L519.1 143.4L520.8 144.5L522.4 145.6L524.1 146.9L525.8 148.2L527.4 149.5L529.1 150.9L530.8 152.3L532.4 153.8L534.1 155.3L535.8 156.8L537.4 158.2L539.1 159.7L540.7 161.2L542.4 162.7L544.1 164.1L545.7 165.5L547.4 166.8L549.1 168.2L550.7 169.5L552.4 170.8L554.1 172.0L555.7 173.2L557.4 174.4L559.1 175.5L560.7 176.6L562.4 177.7L564.0 178.7L565.7 179.7L567.4 180.6L569.0 181.5L570.7 182.4L572.4 183.2L574.0 184.0L575.7 184.8L577.4 185.5L579.0 186.2L580.7 186.9L582.4 187.5L584.0 188.1L585.7 188.7L587.3 189.2L589.0 189.7L590.7 190.2L592.3 190.7L594.0 191.2L595.7 191.6L597.3 192.0L599.0 192.4L600.7 192.7L602.3 193.1L604.0 193.4L605.7 193.7L607.3 194.0L609.0 194.3L610.6 194.5L612.3 194.8L614.0 195.0L615.6 195.2L617.3 195.5L619.0 195.6L620.6 195.8L622.3 196.0L624.0 196.2L625.6 196.3L627.3 196.5L629.0 196.6L630.6 196.8L632.3 196.9L633.9 197.1L635.6 197.2L637.3 197.3L638.9 197.4L640.6 197.6L642.3 197.7L643.9 197.8L645.6 197.9L647.3 198.0L648.9 198.2L650.6 198.3L652.3 198.4L653.9 198.5L655.6 198.6L657.2 198.7L658.9 198.8L660.6 198.9L662.2 199.0L663.9 199.1L665.6 199.3L667.2 199.4L668.9 199.5" stroke="#000" stroke-width="2.6" fill="none" stroke-linejoin="round" stroke-linecap="round"/>
<text x="385.6" y="206.5" font-family='"Liberation Sans","DejaVu Sans",sans-serif' font-size="15.6" fill="#1a1a1a" text-anchor="end" >0</text>
<text x="385.6" y="176.7" font-family='"Liberation Sans","DejaVu Sans",sans-serif' font-size="15.6" fill="#1a1a1a" text-anchor="end" >0.2</text>
<text x="385.6" y="146.9" font-family='"Liberation Sans","DejaVu Sans",sans-serif' font-size="15.6" fill="#1a1a1a" text-anchor="end" >0.4</text>
<text x="385.6" y="117.0" font-family='"Liberation Sans","DejaVu Sans",sans-serif' font-size="15.6" fill="#1a1a1a" text-anchor="end" >0.6</text>
<text x="385.6" y="87.2" font-family='"Liberation Sans","DejaVu Sans",sans-serif' font-size="15.6" fill="#1a1a1a" text-anchor="end" >0.8</text>
<text x="385.6" y="57.4" font-family='"Liberation Sans","DejaVu Sans",sans-serif' font-size="15.6" fill="#1a1a1a" text-anchor="end" >1</text>
<text x="402.6" y="230.2" font-family='"Liberation Sans","DejaVu Sans",sans-serif' font-size="15.6" fill="#1a1a1a" text-anchor="middle" >0</text>
<text x="469.2" y="230.2" font-family='"Liberation Sans","DejaVu Sans",sans-serif' font-size="15.6" fill="#1a1a1a" text-anchor="middle" >1</text>
<text x="535.8" y="230.2" font-family='"Liberation Sans","DejaVu Sans",sans-serif' font-size="15.6" fill="#1a1a1a" text-anchor="middle" >2</text>
<text x="602.3" y="230.2" font-family='"Liberation Sans","DejaVu Sans",sans-serif' font-size="15.6" fill="#1a1a1a" text-anchor="middle" >3</text>
<text x="668.9" y="230.2" font-family='"Liberation Sans","DejaVu Sans",sans-serif' font-size="15.6" fill="#1a1a1a" text-anchor="middle" >4</text>
<text x="459.9" y="39.7" font-family='"Liberation Serif","DejaVu Serif",serif' font-style="italic" font-size="20.5" fill="#111" stroke="#111" stroke-width="0.25" textLength="116.5" lengthAdjust="spacingAndGlyphs">Performance -</text>
<text x="585.4" y="39.7" font-family='"Liberation Serif","DejaVu Serif",serif' font-style="italic" font-size="18.5" fill="#111" stroke="#111" stroke-width="0.2" textLength="13.8" lengthAdjust="spacingAndGlyphs">ω</text>
<text x="590.2" y="30.3" font-family='"Liberation Serif","DejaVu Serif",serif' font-size="9.5" fill="#111" stroke="#111" stroke-width="0.2">^</text>
<text x="482.6" y="253.2" font-family='"Liberation Serif","DejaVu Serif",serif' font-style="italic" font-size="19" fill="#111" stroke="#111" stroke-width="0.2" textLength="14" lengthAdjust="spacingAndGlyphs">ω</text>
<text x="487.6" y="244.6" font-family='"Liberation Serif","DejaVu Serif",serif' font-size="9.5" fill="#111" stroke="#111" stroke-width="0.2">^</text>
<text x="499.6" y="253.2" font-family='"Liberation Serif","DejaVu Serif",serif' font-size="17" fill="#111">=</text>
<text x="513.6" y="253.2" font-family='"Liberation Serif","DejaVu Serif",serif' font-style="italic" font-size="19" fill="#111" stroke="#111" stroke-width="0.2" textLength="13.6" lengthAdjust="spacingAndGlyphs">ω</text>
<text transform="translate(526.6,259.4) scale(0.8,1.12)" font-family='DejaVu Serif,serif' font-size="24" fill="#111">√</text>
<path d="M537.6 235.6h33" stroke="#111" stroke-width="1.4"/>
<text x="541.1" y="253.2" font-family='"Liberation Serif","DejaVu Serif",serif' font-style="italic" font-size="19.5" fill="#111" stroke="#111" stroke-width="0.2" textLength="27.5" lengthAdjust="spacingAndGlyphs">h/g</text>
<rect x="584.5" y="54.5" width="82.1" height="59.9" fill="#fff" stroke="#2e2e2e" stroke-width="1.3"/>
<text x="588.0" y="75.4" font-family='"Liberation Serif","DejaVu Serif",serif' font-size="18.6" fill="#222">B</text>
<text x="589.1" y="65.7" font-family='"Liberation Serif","DejaVu Serif",serif' font-size="17.67" fill="#222">~</text>
<text x="599.9" y="79.1" font-family='"Liberation Serif","DejaVu Serif",serif' font-size="12.276000000000002" font-weight="bold" fill="#222">P</text>
<text x="610.3" y="75.4" font-family='"Liberation Serif","DejaVu Serif",serif' font-size="18" fill="#222">=</text>
<text x="625.0" y="75.4" font-family='"Liberation Serif","DejaVu Serif",serif' font-style="italic" font-size="18.6" fill="#222" textLength="35.9" lengthAdjust="spacingAndGlyphs">1.54</text>
<text x="589.4" y="105.3" font-family='"Liberation Serif","DejaVu Serif",serif' font-size="18.6" fill="#222">C</text>
<text x="590.5" y="95.6" font-family='"Liberation Serif","DejaVu Serif",serif' font-size="17.67" fill="#222">~</text>
<text x="601.3" y="109.0" font-family='"Liberation Serif","DejaVu Serif",serif' font-size="12.276000000000002" font-weight="bold" fill="#222">P</text>
<text x="611.4" y="105.3" font-family='"Liberation Serif","DejaVu Serif",serif' font-size="18" fill="#222">=</text>
<text x="627.2" y="105.3" font-family='"Liberation Serif","DejaVu Serif",serif' font-style="italic" font-size="18.6" fill="#222" textLength="36.5" lengthAdjust="spacingAndGlyphs">2.52</text>
<rect x="693.7" y="15.0" width="327.1" height="254.2" fill="#fff" stroke="#2e2e2e" stroke-width="1.3"/>
<path d="M756.3 57.2V206.0M769.3 57.2V206.0M782.4 57.2V206.0M795.4 57.2V206.0M821.5 57.2V206.0M834.6 57.2V206.0M847.6 57.2V206.0M860.7 57.2V206.0M886.8 57.2V206.0M899.9 57.2V206.0M912.9 57.2V206.0M926.0 57.2V206.0M952.1 57.2V206.0M965.1 57.2V206.0M978.2 57.2V206.0M991.2 57.2V206.0M743.2 200.0H1004.3M743.2 194.1H1004.3M743.2 188.1H1004.3M743.2 182.2H1004.3M743.2 170.3H1004.3M743.2 164.3H1004.3M743.2 158.4H1004.3M743.2 152.4H1004.3M743.2 140.5H1004.3M743.2 134.6H1004.3M743.2 128.6H1004.3M743.2 122.7H1004.3M743.2 110.8H1004.3M743.2 104.8H1004.3M743.2 98.9H1004.3M743.2 92.9H1004.3M743.2 81.0H1004.3M743.2 75.1H1004.3M743.2 69.1H1004.3M743.2 63.2H1004.3" stroke="#ebebeb" stroke-width="1" fill="none"/>
<path d="M743.2 57.2V206.0M808.5 57.2V206.0M873.8 57.2V206.0M939.0 57.2V206.0M1004.3 57.2V206.0M743.2 206.0H1004.3M743.2 176.2H1004.3M743.2 146.5H1004.3M743.2 116.7H1004.3M743.2 87.0H1004.3M743.2 57.2H1004.3" stroke="#cfcfcf" stroke-width="1" fill="none"/>
<path d="M743.2 206.0L744.8 206.0L746.5 205.8L748.1 205.6L749.7 205.4L751.4 205.2L753.0 204.8L754.6 204.5L756.3 204.0L757.9 203.5L759.5 202.9L761.2 202.2L762.8 201.4L764.4 200.6L766.0 199.7L767.7 198.8L769.3 197.8L770.9 196.7L772.6 195.6L774.2 194.5L775.8 193.3L777.5 192.2L779.1 190.9L780.7 189.7L782.4 188.5L784.0 187.2L785.6 186.0L787.3 184.8L788.9 183.5L790.5 182.3L792.2 181.1L793.8 180.0L795.4 178.8L797.1 177.7L798.7 176.7L800.3 175.6L801.9 174.7L803.6 173.7L805.2 172.8L806.8 171.9L808.5 171.1L810.1 170.3L811.7 169.5L813.4 168.8L815.0 168.1L816.6 167.5L818.3 166.9L819.9 166.3L821.5 165.8L823.2 165.3L824.8 164.8L826.4 164.4L828.1 164.1L829.7 163.7L831.3 163.4L833.0 163.2L834.6 162.9L836.2 162.7L837.8 162.6L839.5 162.5L841.1 162.4L842.7 162.4L844.4 162.5L846.0 162.5L847.6 162.7L849.3 162.9L850.9 163.1L852.5 163.4L854.2 163.7L855.8 164.1L857.4 164.5L859.1 165.0L860.7 165.5L862.3 166.0L864.0 166.6L865.6 167.2L867.2 167.8L868.9 168.5L870.5 169.2L872.1 169.9L873.8 170.6L875.4 171.4L877.0 172.1L878.6 172.9L880.3 173.7L881.9 174.5L883.5 175.3L885.2 176.2L886.8 177.0L888.4 177.8L890.1 178.6L891.7 179.4L893.3 180.2L895.0 181.0L896.6 181.8L898.2 182.6L899.9 183.4L901.5 184.2L903.1 184.9L904.8 185.6L906.4 186.3L908.0 187.0L909.7 187.7L911.3 188.3L912.9 188.9L914.5 189.5L916.2 190.1L917.8 190.6L919.4 191.1L921.1 191.6L922.7 192.1L924.3 192.5L926.0 193.0L927.6 193.4L929.2 193.8L930.9 194.2L932.5 194.5L934.1 194.9L935.8 195.2L937.4 195.5L939.0 195.8L940.7 196.1L942.3 196.4L943.9 196.7L945.6 196.9L947.2 197.2L948.8 197.4L950.4 197.7L952.1 197.9L953.7 198.1L955.3 198.3L957.0 198.6L958.6 198.8L960.2 199.0L961.9 199.2L963.5 199.4L965.1 199.6L966.8 199.8L968.4 200.0L970.0 200.2L971.7 200.3L973.3 200.5L974.9 200.7L976.6 200.9L978.2 201.0L979.8 201.2L981.5 201.3L983.1 201.5L984.7 201.6L986.3 201.7L988.0 201.9L989.6 202.0L991.2 202.1L992.9 202.2L994.5 202.4L996.1 202.5L997.8 202.6L999.4 202.7L1001.0 202.8L1002.7 202.9L1004.3 203.0" stroke="#000" stroke-width="2.6" fill="none" stroke-linejoin="round" stroke-linecap="round"/>
<text x="726.2" y="210.8" font-family='"Liberation Sans","DejaVu Sans",sans-serif' font-size="15.6" fill="#1a1a1a" text-anchor="end" >0</text>
<text x="726.2" y="181.0" font-family='"Liberation Sans","DejaVu Sans",sans-serif' font-size="15.6" fill="#1a1a1a" text-anchor="end" >0.2</text>
<text x="726.2" y="151.3" font-family='"Liberation Sans","DejaVu Sans",sans-serif' font-size="15.6" fill="#1a1a1a" text-anchor="end" >0.4</text>
<text x="726.2" y="121.5" font-family='"Liberation Sans","DejaVu Sans",sans-serif' font-size="15.6" fill="#1a1a1a" text-anchor="end" >0.6</text>
<text x="726.2" y="91.8" font-family='"Liberation Sans","DejaVu Sans",sans-serif' font-size="15.6" fill="#1a1a1a" text-anchor="end" >0.8</text>
<text x="726.2" y="62.0" font-family='"Liberation Sans","DejaVu Sans",sans-serif' font-size="15.6" fill="#1a1a1a" text-anchor="end" >1</text>
<text x="743.2" y="234.5" font-family='"Liberation Sans","DejaVu Sans",sans-serif' font-size="15.6" fill="#1a1a1a" text-anchor="middle" >0</text>
<text x="808.5" y="234.5" font-family='"Liberation Sans","DejaVu Sans",sans-serif' font-size="15.6" fill="#1a1a1a" text-anchor="middle" >1</text>
<text x="873.8" y="234.5" font-family='"Liberation Sans","DejaVu Sans",sans-serif' font-size="15.6" fill="#1a1a1a" text-anchor="middle" >2</text>
<text x="939.0" y="234.5" font-family='"Liberation Sans","DejaVu Sans",sans-serif' font-size="15.6" fill="#1a1a1a" text-anchor="middle" >3</text>
<text x="1004.3" y="234.5" font-family='"Liberation Sans","DejaVu Sans",sans-serif' font-size="15.6" fill="#1a1a1a" text-anchor="middle" >4</text>
<text x="798.5" y="42.0" font-family='"Liberation Serif","DejaVu Serif",serif' font-style="italic" font-size="20.5" fill="#111" stroke="#111" stroke-width="0.25" textLength="116.5" lengthAdjust="spacingAndGlyphs">Performance -</text>
<text x="924.0" y="42.0" font-family='"Liberation Serif","DejaVu Serif",serif' font-style="italic" font-size="18.5" fill="#111" stroke="#111" stroke-width="0.2" textLength="13.8" lengthAdjust="spacingAndGlyphs">ω</text>
<text x="928.8" y="32.6" font-family='"Liberation Serif","DejaVu Serif",serif' font-size="9.5" fill="#111" stroke="#111" stroke-width="0.2">^</text>
<text x="823.2" y="257.5" font-family='"Liberation Serif","DejaVu Serif",serif' font-style="italic" font-size="19" fill="#111" stroke="#111" stroke-width="0.2" textLength="14" lengthAdjust="spacingAndGlyphs">ω</text>
<text x="828.2" y="248.9" font-family='"Liberation Serif","DejaVu Serif",serif' font-size="9.5" fill="#111" stroke="#111" stroke-width="0.2">^</text>
<text x="840.2" y="257.5" font-family='"Liberation Serif","DejaVu Serif",serif' font-size="17" fill="#111">=</text>
<text x="854.2" y="257.5" font-family='"Liberation Serif","DejaVu Serif",serif' font-style="italic" font-size="19" fill="#111" stroke="#111" stroke-width="0.2" textLength="13.6" lengthAdjust="spacingAndGlyphs">ω</text>
<text transform="translate(867.2,263.7) scale(0.8,1.12)" font-family='DejaVu Serif,serif' font-size="24" fill="#111">√</text>
<path d="M878.2 239.9h33" stroke="#111" stroke-width="1.4"/>
<text x="881.7" y="257.5" font-family='"Liberation Serif","DejaVu Serif",serif' font-style="italic" font-size="19.5" fill="#111" stroke="#111" stroke-width="0.2" textLength="27.5" lengthAdjust="spacingAndGlyphs">h/g</text>
<rect x="917.1" y="58.6" width="84.5" height="60.1" fill="#fff" stroke="#2e2e2e" stroke-width="1.3"/>
<text x="921.6" y="79.8" font-family='"Liberation Serif","DejaVu Serif",serif' font-size="18.6" fill="#222">B</text>
<text x="922.7" y="70.1" font-family='"Liberation Serif","DejaVu Serif",serif' font-size="17.67" fill="#222">~</text>
<text x="933.5" y="83.5" font-family='"Liberation Serif","DejaVu Serif",serif' font-size="12.276000000000002" font-weight="bold" fill="#222">P</text>
<text x="943.9" y="79.8" font-family='"Liberation Serif","DejaVu Serif",serif' font-size="18" fill="#222">=</text>
<text x="959.7" y="79.8" font-family='"Liberation Serif","DejaVu Serif",serif' font-style="italic" font-size="18.6" fill="#222" textLength="37.2" lengthAdjust="spacingAndGlyphs">2.38</text>
<text x="923.2" y="108.7" font-family='"Liberation Serif","DejaVu Serif",serif' font-size="18.6" fill="#222">C</text>
<text x="924.3" y="99.0" font-family='"Liberation Serif","DejaVu Serif",serif' font-size="17.67" fill="#222">~</text>
<text x="935.1" y="112.4" font-family='"Liberation Serif","DejaVu Serif",serif' font-size="12.276000000000002" font-weight="bold" fill="#222">P</text>
<text x="946.1" y="108.7" font-family='"Liberation Serif","DejaVu Serif",serif' font-size="18" fill="#222">=</text>
<text x="959.3" y="108.7" font-family='"Liberation Serif","DejaVu Serif",serif' font-style="italic" font-size="18.6" fill="#222" textLength="38.7" lengthAdjust="spacingAndGlyphs">3.00</text></svg>
</body></html>
